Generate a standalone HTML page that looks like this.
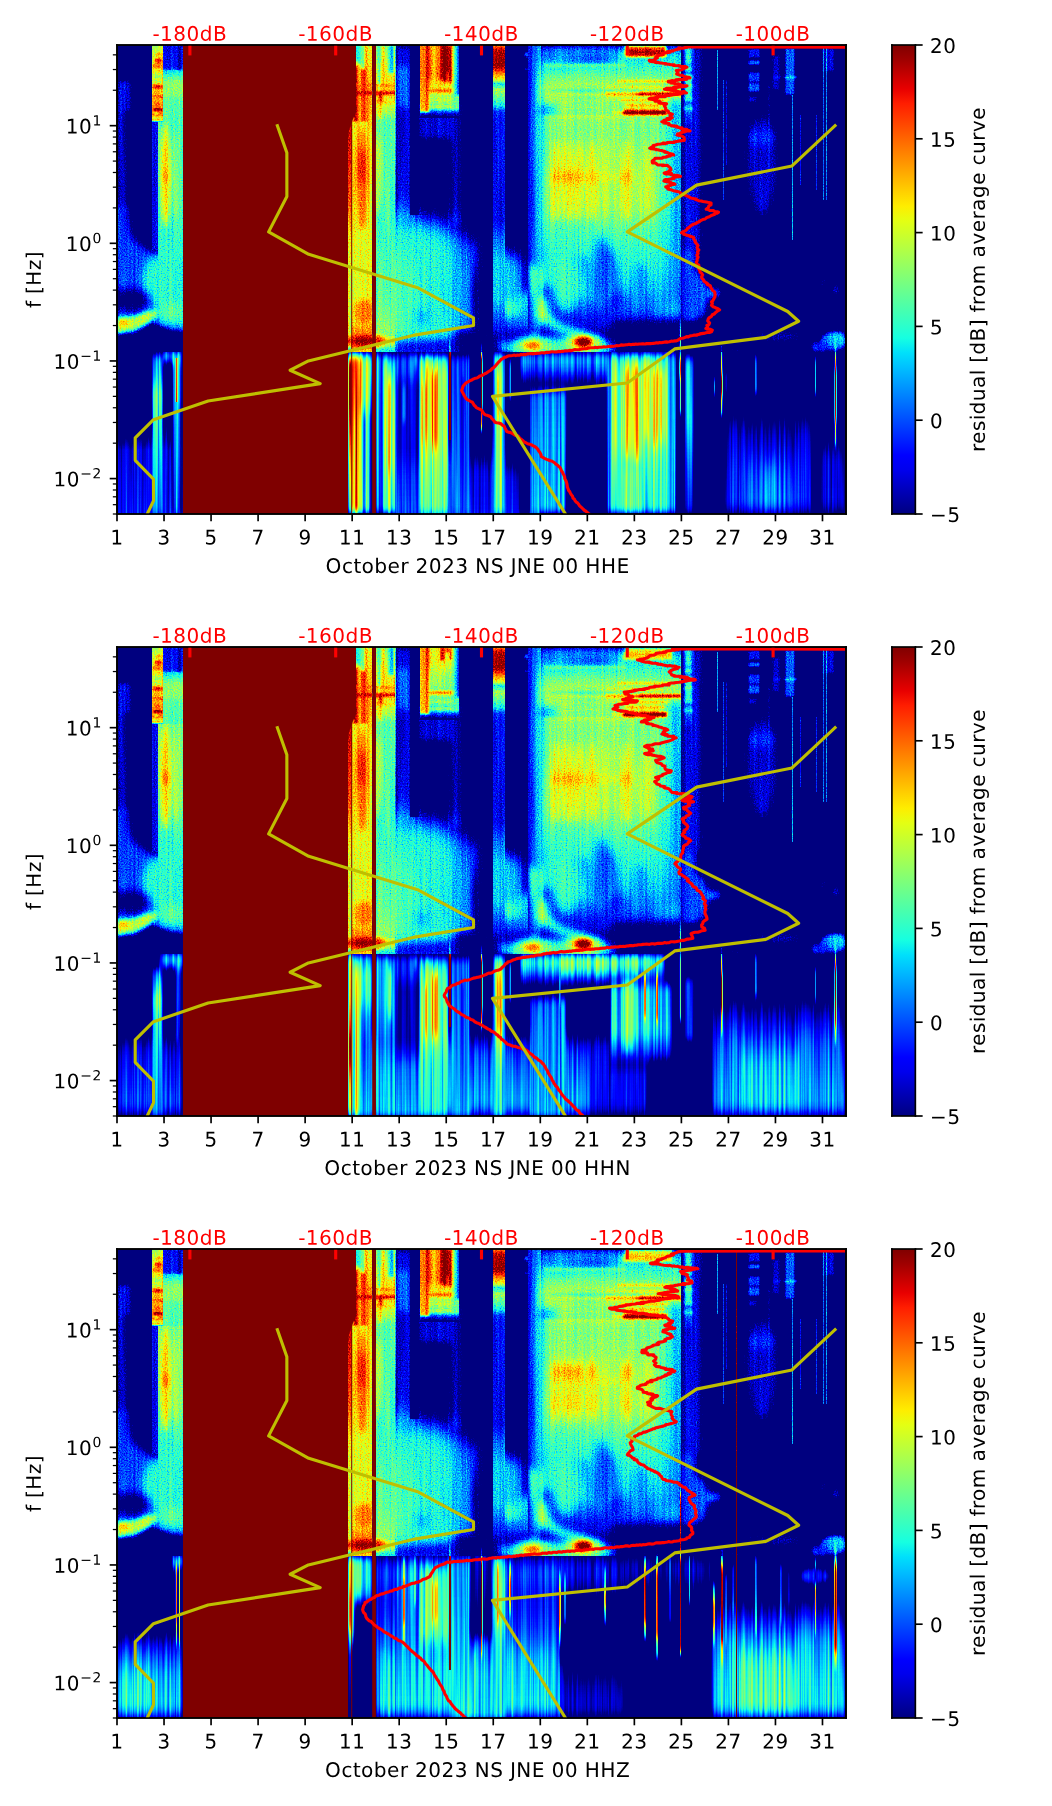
<!DOCTYPE html>
<html><head><meta charset="utf-8"><title>spectrogram</title>
<style>html,body{margin:0;padding:0;background:#fff;font-family:"Liberation Sans",sans-serif}svg{display:block}</style></head>
<body><svg width="1052" height="1806" viewBox="0 0 1052 1806">
<title>Spectrogram residuals October 2023 NS JNE 00 HHE HHN HHZ</title><desc>f [Hz] vs day of month; residual [dB] from average curve; -180dB -160dB -140dB -120dB -100dB</desc>
<defs><style>.m *{stroke-linejoin:round;stroke-linecap:butt}</style><filter id="jet" filterUnits="userSpaceOnUse" x="117" y="45" width="729" height="469" color-interpolation-filters="sRGB">
<feTurbulence type="fractalNoise" baseFrequency="0.83 0.71" numOctaves="1" seed="7" x="117" y="45" width="729" height="307" result="t1"/>
<feTurbulence type="fractalNoise" baseFrequency="0.5 0.012" numOctaves="1" seed="3" x="117" y="45" width="729" height="307" result="t1b"/>
<feComposite in="t1" in2="t1b" operator="arithmetic" k1="0" k2="0.65" k3="0.35" k4="0" result="t1c"/>
<feColorMatrix in="t1c" type="matrix" values="1 0 0 0 0 1 0 0 0 0 1 0 0 0 0 0 0 0 0 1" x="117" y="45" width="729" height="307" result="n1"/>
<feComposite in="SourceGraphic" in2="n1" operator="arithmetic" k1="0.0" k2="1.0" k3="0.36" k4="-0.18" x="117" y="45" width="729" height="307" result="m1"/>
<feTurbulence type="fractalNoise" baseFrequency="0.43 0.004" numOctaves="2" seed="11" x="117" y="352" width="729" height="162" result="t2"/>
<feColorMatrix in="t2" type="matrix" values="1 0 0 0 0 1 0 0 0 0 1 0 0 0 0 0 0 0 0 1" x="117" y="352" width="729" height="162" result="n2"/>
<feComposite in="SourceGraphic" in2="n2" operator="arithmetic" k1="0.55" k2="0.72" k3="0.12" k4="-0.06" x="117" y="352" width="729" height="162" result="m2"/>
<feMerge result="m"><feMergeNode in="m1"/><feMergeNode in="m2"/></feMerge>
<feComponentTransfer in="m"><feFuncR type="table" tableValues="0.000 0.000 0.000 0.000 0.000 0.000 0.000 0.000 0.000 0.000 0.000 0.000 0.000 0.000 0.000 0.000 0.000 0.000 0.000 0.000 0.000 0.000 0.000 0.000 0.000 0.000 0.000 0.000 0.035 0.098 0.161 0.225 0.288 0.351 0.414 0.490 0.553 0.617 0.680 0.743 0.806 0.870 0.933 0.996 1.000 1.000 1.000 1.000 1.000 1.000 1.000 1.000 1.000 1.000 1.000 0.946 0.857 0.767 0.678 0.589 0.500 0.500 0.500 0.500 0.500 0.500 0.500 0.500 0.500 0.500 0.500 0.500 0.500 0.500 0.500 0.500 0.500 0.500 0.500 0.500 0.500"/><feFuncG type="table" tableValues="0.000 0.000 0.000 0.000 0.000 0.000 0.000 0.000 0.000 0.000 0.000 0.000 0.000 0.000 0.000 0.000 0.000 0.049 0.127 0.222 0.300 0.378 0.457 0.535 0.614 0.692 0.771 0.865 0.943 1.000 1.000 1.000 1.000 1.000 1.000 1.000 1.000 1.000 1.000 1.000 1.000 1.000 1.000 0.930 0.843 0.771 0.698 0.625 0.553 0.480 0.407 0.335 0.248 0.175 0.102 0.030 0.000 0.000 0.000 0.000 0.000 0.000 0.000 0.000 0.000 0.000 0.000 0.000 0.000 0.000 0.000 0.000 0.000 0.000 0.000 0.000 0.000 0.000 0.000 0.000 0.000"/><feFuncB type="table" tableValues="0.500 0.500 0.500 0.500 0.500 0.500 0.500 0.500 0.500 0.500 0.500 0.589 0.678 0.767 0.857 0.946 1.000 1.000 1.000 1.000 1.000 1.000 1.000 1.000 1.000 1.000 1.000 0.996 0.933 0.870 0.806 0.743 0.680 0.617 0.553 0.478 0.414 0.351 0.288 0.225 0.161 0.098 0.035 0.000 0.000 0.000 0.000 0.000 0.000 0.000 0.000 0.000 0.000 0.000 0.000 0.000 0.000 0.000 0.000 0.000 0.000 0.000 0.000 0.000 0.000 0.000 0.000 0.000 0.000 0.000 0.000 0.000 0.000 0.000 0.000 0.000 0.000 0.000 0.000 0.000 0.000"/><feFuncA type="linear" slope="0" intercept="1"/></feComponentTransfer>
</filter>
<filter id="b1" filterUnits="userSpaceOnUse" x="60" y="0" width="850" height="560" color-interpolation-filters="sRGB"><feGaussianBlur stdDeviation="1"/></filter>
<filter id="b2" filterUnits="userSpaceOnUse" x="60" y="0" width="850" height="560" color-interpolation-filters="sRGB"><feGaussianBlur stdDeviation="2"/></filter>
<filter id="b3" filterUnits="userSpaceOnUse" x="60" y="0" width="850" height="560" color-interpolation-filters="sRGB"><feGaussianBlur stdDeviation="3"/></filter>
<filter id="b4" filterUnits="userSpaceOnUse" x="60" y="0" width="850" height="560" color-interpolation-filters="sRGB"><feGaussianBlur stdDeviation="4"/></filter>
<filter id="b6" filterUnits="userSpaceOnUse" x="60" y="0" width="850" height="560" color-interpolation-filters="sRGB"><feGaussianBlur stdDeviation="6"/></filter>
<filter id="b8" filterUnits="userSpaceOnUse" x="60" y="0" width="850" height="560" color-interpolation-filters="sRGB"><feGaussianBlur stdDeviation="8"/></filter>
<filter id="b12" filterUnits="userSpaceOnUse" x="60" y="0" width="850" height="560" color-interpolation-filters="sRGB"><feGaussianBlur stdDeviation="12"/></filter>
<filter id="bx1" filterUnits="userSpaceOnUse" x="60" y="0" width="850" height="560" color-interpolation-filters="sRGB"><feGaussianBlur stdDeviation="1 0"/></filter>
<filter id="bx2" filterUnits="userSpaceOnUse" x="60" y="0" width="850" height="560" color-interpolation-filters="sRGB"><feGaussianBlur stdDeviation="2 0"/></filter>
<filter id="bx3" filterUnits="userSpaceOnUse" x="60" y="0" width="850" height="560" color-interpolation-filters="sRGB"><feGaussianBlur stdDeviation="3 0"/></filter>
<filter id="bx5" filterUnits="userSpaceOnUse" x="60" y="0" width="850" height="560" color-interpolation-filters="sRGB"><feGaussianBlur stdDeviation="5 0"/></filter>
<filter id="by2" filterUnits="userSpaceOnUse" x="60" y="0" width="850" height="560" color-interpolation-filters="sRGB"><feGaussianBlur stdDeviation="0 2"/></filter>
<filter id="by4" filterUnits="userSpaceOnUse" x="60" y="0" width="850" height="560" color-interpolation-filters="sRGB"><feGaussianBlur stdDeviation="0 4"/></filter>
<filter id="by8" filterUnits="userSpaceOnUse" x="60" y="0" width="850" height="560" color-interpolation-filters="sRGB"><feGaussianBlur stdDeviation="0 8"/></filter>
<filter id="b21" filterUnits="userSpaceOnUse" x="60" y="0" width="850" height="560" color-interpolation-filters="sRGB"><feGaussianBlur stdDeviation="2 1"/></filter>
<filter id="b12_" filterUnits="userSpaceOnUse" x="60" y="0" width="850" height="560" color-interpolation-filters="sRGB"><feGaussianBlur stdDeviation="1 2"/></filter>
<filter id="b14" filterUnits="userSpaceOnUse" x="60" y="0" width="850" height="560" color-interpolation-filters="sRGB"><feGaussianBlur stdDeviation="1 4"/></filter>
<filter id="b18" filterUnits="userSpaceOnUse" x="60" y="0" width="850" height="560" color-interpolation-filters="sRGB"><feGaussianBlur stdDeviation="1 8"/></filter>
<filter id="b28" filterUnits="userSpaceOnUse" x="60" y="0" width="850" height="560" color-interpolation-filters="sRGB"><feGaussianBlur stdDeviation="2 8"/></filter>
<filter id="b42" filterUnits="userSpaceOnUse" x="60" y="0" width="850" height="560" color-interpolation-filters="sRGB"><feGaussianBlur stdDeviation="4 2"/></filter>
<filter id="b82" filterUnits="userSpaceOnUse" x="60" y="0" width="850" height="560" color-interpolation-filters="sRGB"><feGaussianBlur stdDeviation="8 2"/></filter>
<filter id="b84" filterUnits="userSpaceOnUse" x="60" y="0" width="850" height="560" color-interpolation-filters="sRGB"><feGaussianBlur stdDeviation="8 4"/></filter>
<filter id="b48" filterUnits="userSpaceOnUse" x="60" y="0" width="850" height="560" color-interpolation-filters="sRGB"><feGaussianBlur stdDeviation="4 8"/></filter>
<clipPath id="cp"><rect x="117" y="45" width="729" height="469"/></clipPath>
<linearGradient id="cb" x1="0" y1="0" x2="0" y2="1"><stop offset="0.0000" stop-color="#800000"/><stop offset="0.0312" stop-color="#9f0000"/><stop offset="0.0625" stop-color="#c40000"/><stop offset="0.0938" stop-color="#e80000"/><stop offset="0.1250" stop-color="#ff1e00"/><stop offset="0.1562" stop-color="#ff3b00"/><stop offset="0.1875" stop-color="#ff5900"/><stop offset="0.2188" stop-color="#ff7700"/><stop offset="0.2500" stop-color="#ff9400"/><stop offset="0.2812" stop-color="#ffb200"/><stop offset="0.3125" stop-color="#ffd000"/><stop offset="0.3438" stop-color="#feed00"/><stop offset="0.3750" stop-color="#e4ff13"/><stop offset="0.4062" stop-color="#caff2c"/><stop offset="0.4375" stop-color="#b1ff46"/><stop offset="0.4688" stop-color="#97ff60"/><stop offset="0.5000" stop-color="#7dff7a"/><stop offset="0.5312" stop-color="#63ff94"/><stop offset="0.5625" stop-color="#49ffad"/><stop offset="0.5938" stop-color="#30ffc7"/><stop offset="0.6250" stop-color="#16ffe1"/><stop offset="0.6562" stop-color="#00e0fb"/><stop offset="0.6875" stop-color="#00c0ff"/><stop offset="0.7188" stop-color="#00a0ff"/><stop offset="0.7500" stop-color="#0080ff"/><stop offset="0.7812" stop-color="#0060ff"/><stop offset="0.8125" stop-color="#0040ff"/><stop offset="0.8438" stop-color="#0020ff"/><stop offset="0.8750" stop-color="#0000ff"/><stop offset="0.9062" stop-color="#0000ed"/><stop offset="0.9375" stop-color="#0000c8"/><stop offset="0.9688" stop-color="#0000a4"/><stop offset="1.0000" stop-color="#000080"/></linearGradient>
<clipPath id="p1c1"><rect x="117" y="45" width="66" height="307"/></clipPath>
<linearGradient id="p1g2" x1="0" y1="0" x2="0" y2="1"><stop offset="0.000" stop-color="#797979"/><stop offset="0.192" stop-color="#868686"/><stop offset="0.513" stop-color="#8c8c8c"/><stop offset="0.833" stop-color="#999999"/><stop offset="0.962" stop-color="#939393"/><stop offset="1.000" stop-color="#0d0d0d"/></linearGradient>
<clipPath id="p1c3"><rect x="152" y="45" width="11" height="77"/></clipPath>
<linearGradient id="p1g4" x1="0" y1="0" x2="0" y2="1"><stop offset="0.000" stop-color="#393939"/><stop offset="0.273" stop-color="#404040"/><stop offset="0.351" stop-color="#595959"/><stop offset="0.481" stop-color="#737373"/><stop offset="0.623" stop-color="#737373"/><stop offset="0.714" stop-color="#696969"/><stop offset="1.000" stop-color="#666666"/></linearGradient>
<clipPath id="p1c5"><rect x="163" y="45" width="20" height="25"/></clipPath>
<linearGradient id="p1g6" x1="0" y1="0" x2="0" y2="1"><stop offset="0.000" stop-color="#666666"/><stop offset="0.129" stop-color="#666666"/><stop offset="0.557" stop-color="#636363"/><stop offset="0.843" stop-color="#606060"/><stop offset="1.000" stop-color="#606060"/></linearGradient>
<clipPath id="p1c7"><rect x="348" y="45" width="48" height="307"/></clipPath>
<linearGradient id="p1g8" x1="0" y1="0" x2="0" y2="1"><stop offset="0.000" stop-color="#bfbfbf"/><stop offset="0.241" stop-color="#b2b2b2"/><stop offset="0.498" stop-color="#a6a6a6"/><stop offset="0.627" stop-color="#868686"/><stop offset="0.916" stop-color="#808080"/><stop offset="0.965" stop-color="#797979"/><stop offset="0.981" stop-color="#535353"/><stop offset="1.000" stop-color="#595959"/></linearGradient>
<linearGradient id="p1g9" x1="0" y1="0" x2="0" y2="1"><stop offset="0.000" stop-color="#808080"/><stop offset="0.049" stop-color="#868686"/><stop offset="0.147" stop-color="#939393"/><stop offset="0.238" stop-color="#8c8c8c"/><stop offset="0.293" stop-color="#868686"/><stop offset="0.342" stop-color="#898989"/><stop offset="0.603" stop-color="#868686"/><stop offset="0.651" stop-color="#838383"/><stop offset="0.814" stop-color="#838383"/><stop offset="0.847" stop-color="#8c8c8c"/><stop offset="0.902" stop-color="#8c8c8c"/><stop offset="0.928" stop-color="#999999"/><stop offset="1.000" stop-color="#8c8c8c"/></linearGradient>
<linearGradient id="p1g10" x1="0" y1="0" x2="0" y2="1"><stop offset="0.000" stop-color="#737373"/><stop offset="0.049" stop-color="#808080"/><stop offset="0.147" stop-color="#8c8c8c"/><stop offset="0.218" stop-color="#797979"/><stop offset="0.244" stop-color="#696969"/><stop offset="0.635" stop-color="#636363"/><stop offset="0.831" stop-color="#696969"/><stop offset="0.928" stop-color="#737373"/><stop offset="1.000" stop-color="#595959"/></linearGradient>
<clipPath id="p1c11"><rect x="352" y="45" width="44" height="77"/></clipPath>
<clipPath id="p1c12"><rect x="395" y="45" width="145" height="307"/></clipPath>
<linearGradient id="p1g13" x1="0" y1="0" x2="0" y2="1"><stop offset="0.000" stop-color="#999999"/><stop offset="0.411" stop-color="#9f9f9f"/><stop offset="0.534" stop-color="#8c8c8c"/><stop offset="0.685" stop-color="#797979"/><stop offset="0.863" stop-color="#6c6c6c"/><stop offset="0.932" stop-color="#333333"/><stop offset="1.000" stop-color="#0d0d0d"/></linearGradient>
<clipPath id="p1c14"><rect x="420" y="45" width="40" height="73"/></clipPath>
<linearGradient id="p1g15" x1="0" y1="0" x2="0" y2="1"><stop offset="0.000" stop-color="#999999"/><stop offset="0.017" stop-color="#b9b9b9"/><stop offset="0.070" stop-color="#bfbfbf"/><stop offset="0.093" stop-color="#9f9f9f"/><stop offset="0.117" stop-color="#808080"/><stop offset="0.130" stop-color="#595959"/><stop offset="0.150" stop-color="#797979"/><stop offset="0.183" stop-color="#666666"/><stop offset="0.203" stop-color="#595959"/><stop offset="0.223" stop-color="#393939"/><stop offset="0.257" stop-color="#333333"/><stop offset="0.583" stop-color="#333333"/><stop offset="0.650" stop-color="#464646"/><stop offset="0.723" stop-color="#535353"/><stop offset="0.850" stop-color="#535353"/><stop offset="0.950" stop-color="#333333"/><stop offset="1.000" stop-color="#0d0d0d"/></linearGradient>
<linearGradient id="p1g16" x1="0" y1="0" x2="0" y2="1"><stop offset="0.000" stop-color="#4c4c4c"/><stop offset="0.062" stop-color="#535353"/><stop offset="0.125" stop-color="#404040"/><stop offset="0.167" stop-color="#535353"/><stop offset="0.221" stop-color="#464646"/><stop offset="0.246" stop-color="#333333"/><stop offset="0.812" stop-color="#363636"/><stop offset="0.904" stop-color="#464646"/><stop offset="1.000" stop-color="#535353"/></linearGradient>
<clipPath id="p1c17"><rect x="523" y="45" width="17" height="55"/></clipPath>
<clipPath id="p1c18"><rect x="528" y="45" width="153" height="307"/></clipPath>
<linearGradient id="p1g19" x1="0" y1="0" x2="1" y2="0"><stop offset="0.000" stop-color="#2d2d2d"/><stop offset="1.000" stop-color="#535353"/></linearGradient>
<linearGradient id="p1g20" x1="0" y1="0" x2="0" y2="1"><stop offset="0.000" stop-color="#464646"/><stop offset="0.033" stop-color="#595959"/><stop offset="0.081" stop-color="#636363"/><stop offset="0.114" stop-color="#737373"/><stop offset="0.179" stop-color="#787878"/><stop offset="0.231" stop-color="#767676"/><stop offset="0.270" stop-color="#707070"/><stop offset="0.309" stop-color="#737373"/><stop offset="0.391" stop-color="#767676"/><stop offset="0.521" stop-color="#767676"/><stop offset="0.586" stop-color="#6c6c6c"/><stop offset="0.651" stop-color="#636363"/><stop offset="0.733" stop-color="#595959"/><stop offset="0.798" stop-color="#4c4c4c"/><stop offset="0.847" stop-color="#434343"/><stop offset="0.896" stop-color="#393939"/><stop offset="0.928" stop-color="#262626"/><stop offset="0.954" stop-color="#1a1a1a"/><stop offset="1.000" stop-color="#1a1a1a"/></linearGradient>
<linearGradient id="p1g21" x1="0" y1="0" x2="1" y2="0"><stop offset="0.000" stop-color="#606060" stop-opacity="0.00"/><stop offset="0.516" stop-color="#535353" stop-opacity="0.60"/><stop offset="1.000" stop-color="#393939"/></linearGradient>
<linearGradient id="p1g22" x1="0" y1="0" x2="1" y2="0"><stop offset="0.000" stop-color="#4c4c4c" stop-opacity="0.90"/><stop offset="1.000" stop-color="#606060" stop-opacity="0.00"/></linearGradient>
<clipPath id="p1c23"><rect x="600" y="45" width="81" height="77"/></clipPath>
<clipPath id="p1c24"><rect x="540" y="60" width="141" height="62"/></clipPath>
<clipPath id="p1c25"><rect x="681" y="45" width="165" height="307"/></clipPath>
<linearGradient id="p1g26" x1="0" y1="0" x2="0" y2="1"><stop offset="0.000" stop-color="#595959"/><stop offset="0.351" stop-color="#666666"/><stop offset="0.675" stop-color="#606060"/><stop offset="0.831" stop-color="#464646"/><stop offset="1.000" stop-color="#333333"/></linearGradient>
<clipPath id="p1c27"><rect x="470" y="322" width="230" height="30"/></clipPath>
<clipPath id="p1c28"><rect x="117" y="352" width="729" height="162"/></clipPath>
<linearGradient id="p1g29" x1="0" y1="0" x2="0" y2="1"><stop offset="0.000" stop-color="#000000"/><stop offset="0.281" stop-color="#2d2d2d"/><stop offset="1.000" stop-color="#363636"/></linearGradient>
<linearGradient id="p1g30" x1="0" y1="0" x2="0" y2="1"><stop offset="0.000" stop-color="#000000"/><stop offset="0.417" stop-color="#2d2d2d"/><stop offset="1.000" stop-color="#393939"/></linearGradient>
<linearGradient id="p1g31" x1="0" y1="0" x2="0" y2="1"><stop offset="0.000" stop-color="#535353"/><stop offset="0.137" stop-color="#666666"/><stop offset="0.261" stop-color="#838383"/><stop offset="0.385" stop-color="#767676"/><stop offset="0.602" stop-color="#606060"/><stop offset="1.000" stop-color="#4c4c4c"/></linearGradient>
<linearGradient id="p1g32" x1="0" y1="0" x2="0" y2="1"><stop offset="0.000" stop-color="#535353"/><stop offset="0.137" stop-color="#666666"/><stop offset="0.261" stop-color="#808080"/><stop offset="0.385" stop-color="#707070"/><stop offset="0.602" stop-color="#606060"/><stop offset="1.000" stop-color="#494949"/></linearGradient>
<linearGradient id="p1g33" x1="0" y1="0" x2="0" y2="1"><stop offset="0.000" stop-color="#535353"/><stop offset="0.137" stop-color="#595959"/><stop offset="0.261" stop-color="#666666"/><stop offset="0.602" stop-color="#535353"/><stop offset="1.000" stop-color="#464646"/></linearGradient>
<linearGradient id="p1g34" x1="0" y1="0" x2="0" y2="1"><stop offset="0.000" stop-color="#595959"/><stop offset="0.073" stop-color="#595959"/><stop offset="0.098" stop-color="#333333"/><stop offset="1.000" stop-color="#1a1a1a"/></linearGradient>
<linearGradient id="p1g35" x1="0" y1="0" x2="0" y2="1"><stop offset="0.000" stop-color="#535353"/><stop offset="0.714" stop-color="#535353"/><stop offset="1.000" stop-color="#0d0d0d"/></linearGradient>
<linearGradient id="p1g36" x1="0" y1="0" x2="0" y2="1"><stop offset="0.000" stop-color="#666666"/><stop offset="0.283" stop-color="#666666"/><stop offset="0.472" stop-color="#606060"/><stop offset="1.000" stop-color="#595959"/></linearGradient>
<linearGradient id="p1g37" x1="0" y1="0" x2="0" y2="1"><stop offset="0.000" stop-color="#595959"/><stop offset="0.025" stop-color="#595959"/><stop offset="0.062" stop-color="#b2b2b2"/><stop offset="0.296" stop-color="#b9b9b9"/><stop offset="0.481" stop-color="#999999"/><stop offset="0.667" stop-color="#808080"/><stop offset="0.852" stop-color="#737373"/><stop offset="1.000" stop-color="#606060"/></linearGradient>
<linearGradient id="p1g38" x1="0" y1="0" x2="0" y2="1"><stop offset="0.000" stop-color="#808080"/><stop offset="0.056" stop-color="#a6a6a6"/><stop offset="0.354" stop-color="#acacac"/><stop offset="0.602" stop-color="#a6a6a6"/><stop offset="1.000" stop-color="#9f9f9f"/></linearGradient>
<linearGradient id="p1g39" x1="0" y1="0" x2="0" y2="1"><stop offset="0.000" stop-color="#797979"/><stop offset="0.056" stop-color="#939393"/><stop offset="0.292" stop-color="#999999"/><stop offset="0.416" stop-color="#868686"/><stop offset="1.000" stop-color="#808080"/></linearGradient>
<linearGradient id="p1g40" x1="0" y1="0" x2="0" y2="1"><stop offset="0.000" stop-color="#737373"/><stop offset="0.075" stop-color="#868686"/><stop offset="0.323" stop-color="#737373"/><stop offset="0.416" stop-color="#404040"/><stop offset="1.000" stop-color="#333333"/></linearGradient>
<linearGradient id="p1g41" x1="0" y1="0" x2="0" y2="1"><stop offset="0.000" stop-color="#737373"/><stop offset="0.075" stop-color="#8c8c8c"/><stop offset="0.292" stop-color="#939393"/><stop offset="0.416" stop-color="#808080"/><stop offset="1.000" stop-color="#797979"/></linearGradient>
<linearGradient id="p1g42" x1="0" y1="0" x2="0" y2="1"><stop offset="0.000" stop-color="#666666"/><stop offset="0.075" stop-color="#797979"/><stop offset="0.292" stop-color="#595959"/><stop offset="0.416" stop-color="#333333"/><stop offset="1.000" stop-color="#2d2d2d"/></linearGradient>
<linearGradient id="p1g43" x1="0" y1="0" x2="0" y2="1"><stop offset="0.000" stop-color="#535353"/><stop offset="0.056" stop-color="#595959"/><stop offset="1.000" stop-color="#535353"/></linearGradient>
<linearGradient id="p1g44" x1="0" y1="0" x2="0" y2="1"><stop offset="0.000" stop-color="#404040"/><stop offset="0.056" stop-color="#333333"/><stop offset="1.000" stop-color="#2d2d2d"/></linearGradient>
<linearGradient id="p1g45" x1="0" y1="0" x2="0" y2="1"><stop offset="0.000" stop-color="#4c4c4c"/><stop offset="0.075" stop-color="#737373"/><stop offset="0.478" stop-color="#797979"/><stop offset="1.000" stop-color="#6c6c6c"/></linearGradient>
<linearGradient id="p1g46" x1="0" y1="0" x2="0" y2="1"><stop offset="0.000" stop-color="#4c4c4c"/><stop offset="0.106" stop-color="#797979"/><stop offset="0.199" stop-color="#a6a6a6"/><stop offset="0.665" stop-color="#a6a6a6"/><stop offset="0.789" stop-color="#8c8c8c"/><stop offset="1.000" stop-color="#808080"/></linearGradient>
<linearGradient id="p1g47" x1="0" y1="0" x2="0" y2="1"><stop offset="0.000" stop-color="#464646"/><stop offset="0.075" stop-color="#666666"/><stop offset="0.292" stop-color="#797979"/><stop offset="0.665" stop-color="#737373"/><stop offset="1.000" stop-color="#595959"/></linearGradient>
<linearGradient id="p1g48" x1="0" y1="0" x2="0" y2="1"><stop offset="0.000" stop-color="#404040"/><stop offset="0.118" stop-color="#404040"/><stop offset="0.199" stop-color="#2d2d2d"/><stop offset="0.602" stop-color="#2d2d2d"/><stop offset="0.758" stop-color="#393939"/><stop offset="1.000" stop-color="#404040"/></linearGradient>
<linearGradient id="p1g49" x1="0" y1="0" x2="0" y2="1"><stop offset="0.000" stop-color="#333333"/><stop offset="0.031" stop-color="#666666"/><stop offset="0.118" stop-color="#7c7c7c"/><stop offset="0.540" stop-color="#7c7c7c"/><stop offset="0.727" stop-color="#737373"/><stop offset="1.000" stop-color="#6c6c6c"/></linearGradient>
<linearGradient id="p1g50" x1="0" y1="0" x2="0" y2="1"><stop offset="0.000" stop-color="#808080"/><stop offset="0.123" stop-color="#939393"/><stop offset="0.769" stop-color="#8f8f8f"/><stop offset="1.000" stop-color="#808080"/></linearGradient>
<linearGradient id="p1g51" x1="0" y1="0" x2="0" y2="1"><stop offset="0.000" stop-color="#808080"/><stop offset="0.119" stop-color="#9f9f9f"/><stop offset="0.833" stop-color="#9f9f9f"/><stop offset="1.000" stop-color="#838383"/></linearGradient>
<linearGradient id="p1g52" x1="0" y1="0" x2="0" y2="1"><stop offset="0.000" stop-color="#2d2d2d"/><stop offset="0.043" stop-color="#464646"/><stop offset="1.000" stop-color="#464646"/></linearGradient>
<linearGradient id="p1g53" x1="0" y1="0" x2="0" y2="1"><stop offset="0.000" stop-color="#000000"/><stop offset="0.540" stop-color="#000000"/><stop offset="0.727" stop-color="#2d2d2d"/><stop offset="1.000" stop-color="#333333"/></linearGradient>
<linearGradient id="p1g54" x1="0" y1="0" x2="0" y2="1"><stop offset="0.000" stop-color="#4c4c4c"/><stop offset="0.049" stop-color="#595959"/><stop offset="1.000" stop-color="#595959"/></linearGradient>
<linearGradient id="p1g55" x1="0" y1="0" x2="0" y2="1"><stop offset="0.000" stop-color="#535353"/><stop offset="0.062" stop-color="#6c6c6c"/><stop offset="0.142" stop-color="#797979"/><stop offset="0.790" stop-color="#737373"/><stop offset="1.000" stop-color="#6c6c6c"/></linearGradient>
<linearGradient id="p1g56" x1="0" y1="0" x2="0" y2="1"><stop offset="0.000" stop-color="#4c4c4c"/><stop offset="0.049" stop-color="#595959"/><stop offset="1.000" stop-color="#535353"/></linearGradient>
<linearGradient id="p1g57" x1="0" y1="0" x2="0" y2="1"><stop offset="0.000" stop-color="#000000"/><stop offset="0.602" stop-color="#000000"/><stop offset="0.758" stop-color="#2d2d2d"/><stop offset="1.000" stop-color="#333333"/></linearGradient>
<linearGradient id="p1g58" x1="0" y1="0" x2="0" y2="1"><stop offset="0.000" stop-color="#000000"/><stop offset="0.168" stop-color="#000000"/><stop offset="0.242" stop-color="#393939"/><stop offset="0.478" stop-color="#404040"/><stop offset="1.000" stop-color="#494949"/></linearGradient>
<linearGradient id="p1g59" x1="0" y1="0" x2="0" y2="1"><stop offset="0.000" stop-color="#4c4c4c"/><stop offset="0.068" stop-color="#494949"/><stop offset="0.142" stop-color="#333333"/><stop offset="0.216" stop-color="#0d0d0d"/><stop offset="1.000" stop-color="#000000"/></linearGradient>
<linearGradient id="p1g60" x1="0" y1="0" x2="0" y2="1"><stop offset="0.000" stop-color="#000000" stop-opacity="0.00"/><stop offset="0.069" stop-color="#464646"/><stop offset="0.359" stop-color="#4c4c4c"/><stop offset="1.000" stop-color="#535353"/></linearGradient>
<linearGradient id="p1g61" x1="0" y1="0" x2="0" y2="1"><stop offset="0.000" stop-color="#4c4c4c"/><stop offset="0.037" stop-color="#666666"/><stop offset="0.099" stop-color="#737373"/><stop offset="0.173" stop-color="#787878"/><stop offset="0.543" stop-color="#767676"/><stop offset="0.698" stop-color="#696969"/><stop offset="0.852" stop-color="#636363"/><stop offset="1.000" stop-color="#606060"/></linearGradient>
<linearGradient id="p1g62" x1="0" y1="0" x2="0" y2="1"><stop offset="0.000" stop-color="#808080"/><stop offset="0.140" stop-color="#8f8f8f"/><stop offset="0.806" stop-color="#8c8c8c"/><stop offset="1.000" stop-color="#7c7c7c"/></linearGradient>
<linearGradient id="p1g63" x1="0" y1="0" x2="0" y2="1"><stop offset="0.000" stop-color="#808080"/><stop offset="0.134" stop-color="#8f8f8f"/><stop offset="0.825" stop-color="#8c8c8c"/><stop offset="1.000" stop-color="#7c7c7c"/></linearGradient>
<linearGradient id="p1g64" x1="0" y1="0" x2="0" y2="1"><stop offset="0.000" stop-color="#808080"/><stop offset="0.153" stop-color="#939393"/><stop offset="0.765" stop-color="#8f8f8f"/><stop offset="1.000" stop-color="#7c7c7c"/></linearGradient>
<linearGradient id="p1g65" x1="0" y1="0" x2="0" y2="1"><stop offset="0.000" stop-color="#808080"/><stop offset="0.156" stop-color="#8c8c8c"/><stop offset="0.740" stop-color="#8c8c8c"/><stop offset="1.000" stop-color="#7c7c7c"/></linearGradient>
<linearGradient id="p1g66" x1="0" y1="0" x2="0" y2="1"><stop offset="0.000" stop-color="#797979"/><stop offset="0.179" stop-color="#535353"/><stop offset="1.000" stop-color="#4c4c4c"/></linearGradient>
<linearGradient id="p1g67" x1="0" y1="0" x2="0" y2="1"><stop offset="0.000" stop-color="#404040"/><stop offset="0.063" stop-color="#535353"/><stop offset="0.409" stop-color="#565656"/><stop offset="0.723" stop-color="#464646"/><stop offset="1.000" stop-color="#393939"/></linearGradient>
<linearGradient id="p1g68" x1="0" y1="0" x2="0" y2="1"><stop offset="0.000" stop-color="#000000"/><stop offset="0.263" stop-color="#262626"/><stop offset="0.614" stop-color="#363636"/><stop offset="1.000" stop-color="#3d3d3d"/></linearGradient>
<linearGradient id="p1g69" x1="0" y1="0" x2="0" y2="1"><stop offset="0.000" stop-color="#262626" stop-opacity="0.00"/><stop offset="0.476" stop-color="#404040" stop-opacity="0.80"/><stop offset="1.000" stop-color="#494949"/></linearGradient>
<linearGradient id="p1g70" x1="0" y1="0" x2="0" y2="1"><stop offset="0.000" stop-color="#404040" stop-opacity="0.00"/><stop offset="0.391" stop-color="#505050" stop-opacity="0.90"/><stop offset="1.000" stop-color="#535353"/></linearGradient>
<linearGradient id="p1g71" x1="0" y1="0" x2="0" y2="1"><stop offset="0.000" stop-color="#000000"/><stop offset="0.298" stop-color="#2d2d2d"/><stop offset="1.000" stop-color="#303030"/></linearGradient>
<clipPath id="p2c1"><rect x="117" y="45" width="66" height="307"/></clipPath>
<linearGradient id="p2g2" x1="0" y1="0" x2="0" y2="1"><stop offset="0.000" stop-color="#797979"/><stop offset="0.192" stop-color="#868686"/><stop offset="0.513" stop-color="#8c8c8c"/><stop offset="0.833" stop-color="#999999"/><stop offset="0.962" stop-color="#939393"/><stop offset="1.000" stop-color="#0d0d0d"/></linearGradient>
<clipPath id="p2c3"><rect x="152" y="45" width="11" height="77"/></clipPath>
<linearGradient id="p2g4" x1="0" y1="0" x2="0" y2="1"><stop offset="0.000" stop-color="#393939"/><stop offset="0.273" stop-color="#404040"/><stop offset="0.351" stop-color="#595959"/><stop offset="0.481" stop-color="#737373"/><stop offset="0.623" stop-color="#737373"/><stop offset="0.714" stop-color="#696969"/><stop offset="1.000" stop-color="#666666"/></linearGradient>
<clipPath id="p2c5"><rect x="163" y="45" width="20" height="25"/></clipPath>
<linearGradient id="p2g6" x1="0" y1="0" x2="0" y2="1"><stop offset="0.000" stop-color="#707070"/><stop offset="0.129" stop-color="#707070"/><stop offset="0.557" stop-color="#6c6c6c"/><stop offset="0.843" stop-color="#606060"/><stop offset="1.000" stop-color="#606060"/></linearGradient>
<clipPath id="p2c7"><rect x="348" y="45" width="48" height="307"/></clipPath>
<linearGradient id="p2g8" x1="0" y1="0" x2="0" y2="1"><stop offset="0.000" stop-color="#bfbfbf"/><stop offset="0.241" stop-color="#b2b2b2"/><stop offset="0.498" stop-color="#a6a6a6"/><stop offset="0.627" stop-color="#868686"/><stop offset="0.916" stop-color="#808080"/><stop offset="0.965" stop-color="#797979"/><stop offset="0.981" stop-color="#535353"/><stop offset="1.000" stop-color="#595959"/></linearGradient>
<linearGradient id="p2g9" x1="0" y1="0" x2="0" y2="1"><stop offset="0.000" stop-color="#808080"/><stop offset="0.049" stop-color="#868686"/><stop offset="0.147" stop-color="#939393"/><stop offset="0.238" stop-color="#8c8c8c"/><stop offset="0.293" stop-color="#868686"/><stop offset="0.342" stop-color="#898989"/><stop offset="0.603" stop-color="#868686"/><stop offset="0.651" stop-color="#838383"/><stop offset="0.814" stop-color="#838383"/><stop offset="0.847" stop-color="#8c8c8c"/><stop offset="0.902" stop-color="#8c8c8c"/><stop offset="0.928" stop-color="#999999"/><stop offset="1.000" stop-color="#8c8c8c"/></linearGradient>
<linearGradient id="p2g10" x1="0" y1="0" x2="0" y2="1"><stop offset="0.000" stop-color="#737373"/><stop offset="0.049" stop-color="#808080"/><stop offset="0.147" stop-color="#8c8c8c"/><stop offset="0.218" stop-color="#797979"/><stop offset="0.244" stop-color="#696969"/><stop offset="0.635" stop-color="#636363"/><stop offset="0.831" stop-color="#696969"/><stop offset="0.928" stop-color="#737373"/><stop offset="1.000" stop-color="#595959"/></linearGradient>
<clipPath id="p2c11"><rect x="352" y="45" width="44" height="77"/></clipPath>
<clipPath id="p2c12"><rect x="395" y="45" width="145" height="307"/></clipPath>
<linearGradient id="p2g13" x1="0" y1="0" x2="0" y2="1"><stop offset="0.000" stop-color="#868686"/><stop offset="0.205" stop-color="#868686"/><stop offset="0.411" stop-color="#737373"/><stop offset="0.685" stop-color="#6c6c6c"/><stop offset="0.863" stop-color="#606060"/><stop offset="0.932" stop-color="#333333"/><stop offset="1.000" stop-color="#0d0d0d"/></linearGradient>
<clipPath id="p2c14"><rect x="420" y="45" width="40" height="73"/></clipPath>
<linearGradient id="p2g15" x1="0" y1="0" x2="0" y2="1"><stop offset="0.000" stop-color="#999999"/><stop offset="0.017" stop-color="#b9b9b9"/><stop offset="0.070" stop-color="#bfbfbf"/><stop offset="0.093" stop-color="#9f9f9f"/><stop offset="0.117" stop-color="#808080"/><stop offset="0.130" stop-color="#595959"/><stop offset="0.150" stop-color="#797979"/><stop offset="0.183" stop-color="#666666"/><stop offset="0.203" stop-color="#595959"/><stop offset="0.223" stop-color="#393939"/><stop offset="0.257" stop-color="#333333"/><stop offset="0.583" stop-color="#333333"/><stop offset="0.650" stop-color="#464646"/><stop offset="0.723" stop-color="#535353"/><stop offset="0.850" stop-color="#535353"/><stop offset="0.950" stop-color="#333333"/><stop offset="1.000" stop-color="#0d0d0d"/></linearGradient>
<linearGradient id="p2g16" x1="0" y1="0" x2="0" y2="1"><stop offset="0.000" stop-color="#4c4c4c"/><stop offset="0.062" stop-color="#535353"/><stop offset="0.125" stop-color="#404040"/><stop offset="0.167" stop-color="#535353"/><stop offset="0.221" stop-color="#464646"/><stop offset="0.246" stop-color="#333333"/><stop offset="0.812" stop-color="#363636"/><stop offset="0.904" stop-color="#464646"/><stop offset="1.000" stop-color="#535353"/></linearGradient>
<clipPath id="p2c17"><rect x="523" y="45" width="17" height="55"/></clipPath>
<clipPath id="p2c18"><rect x="528" y="45" width="153" height="307"/></clipPath>
<linearGradient id="p2g19" x1="0" y1="0" x2="1" y2="0"><stop offset="0.000" stop-color="#2d2d2d"/><stop offset="1.000" stop-color="#535353"/></linearGradient>
<linearGradient id="p2g20" x1="0" y1="0" x2="0" y2="1"><stop offset="0.000" stop-color="#464646"/><stop offset="0.033" stop-color="#595959"/><stop offset="0.081" stop-color="#636363"/><stop offset="0.114" stop-color="#737373"/><stop offset="0.179" stop-color="#787878"/><stop offset="0.231" stop-color="#767676"/><stop offset="0.270" stop-color="#707070"/><stop offset="0.309" stop-color="#737373"/><stop offset="0.391" stop-color="#767676"/><stop offset="0.521" stop-color="#767676"/><stop offset="0.586" stop-color="#6c6c6c"/><stop offset="0.651" stop-color="#636363"/><stop offset="0.733" stop-color="#595959"/><stop offset="0.798" stop-color="#4c4c4c"/><stop offset="0.847" stop-color="#434343"/><stop offset="0.896" stop-color="#393939"/><stop offset="0.928" stop-color="#262626"/><stop offset="0.954" stop-color="#1a1a1a"/><stop offset="1.000" stop-color="#1a1a1a"/></linearGradient>
<linearGradient id="p2g21" x1="0" y1="0" x2="1" y2="0"><stop offset="0.000" stop-color="#606060" stop-opacity="0.00"/><stop offset="0.516" stop-color="#535353" stop-opacity="0.60"/><stop offset="1.000" stop-color="#393939"/></linearGradient>
<linearGradient id="p2g22" x1="0" y1="0" x2="1" y2="0"><stop offset="0.000" stop-color="#4c4c4c" stop-opacity="0.90"/><stop offset="1.000" stop-color="#606060" stop-opacity="0.00"/></linearGradient>
<clipPath id="p2c23"><rect x="600" y="45" width="81" height="77"/></clipPath>
<clipPath id="p2c24"><rect x="540" y="60" width="141" height="62"/></clipPath>
<clipPath id="p2c25"><rect x="681" y="45" width="165" height="307"/></clipPath>
<linearGradient id="p2g26" x1="0" y1="0" x2="0" y2="1"><stop offset="0.000" stop-color="#595959"/><stop offset="0.351" stop-color="#666666"/><stop offset="0.675" stop-color="#606060"/><stop offset="0.831" stop-color="#464646"/><stop offset="1.000" stop-color="#333333"/></linearGradient>
<clipPath id="p2c27"><rect x="470" y="322" width="230" height="30"/></clipPath>
<clipPath id="p2c28"><rect x="117" y="352" width="729" height="162"/></clipPath>
<linearGradient id="p2g29" x1="0" y1="0" x2="0" y2="1"><stop offset="0.000" stop-color="#000000"/><stop offset="0.225" stop-color="#2d2d2d"/><stop offset="0.618" stop-color="#393939"/><stop offset="1.000" stop-color="#434343"/></linearGradient>
<linearGradient id="p2g30" x1="0" y1="0" x2="0" y2="1"><stop offset="0.000" stop-color="#000000"/><stop offset="0.225" stop-color="#393939"/><stop offset="0.618" stop-color="#494949"/><stop offset="1.000" stop-color="#535353"/></linearGradient>
<linearGradient id="p2g31" x1="0" y1="0" x2="0" y2="1"><stop offset="0.000" stop-color="#2d2d2d"/><stop offset="0.405" stop-color="#333333"/><stop offset="1.000" stop-color="#333333"/></linearGradient>
<linearGradient id="p2g32" x1="0" y1="0" x2="0" y2="1"><stop offset="0.000" stop-color="#000000"/><stop offset="1.000" stop-color="#000000"/></linearGradient>
<linearGradient id="p2g33" x1="0" y1="0" x2="0" y2="1"><stop offset="0.000" stop-color="#000000"/><stop offset="0.194" stop-color="#262626"/><stop offset="0.426" stop-color="#404040"/><stop offset="0.736" stop-color="#4c4c4c"/><stop offset="1.000" stop-color="#505050"/></linearGradient>
<linearGradient id="p2g34" x1="0" y1="0" x2="0" y2="1"><stop offset="0.000" stop-color="#404040" stop-opacity="0.00"/><stop offset="0.357" stop-color="#565656" stop-opacity="0.90"/><stop offset="1.000" stop-color="#595959"/></linearGradient>
<linearGradient id="p2g35" x1="0" y1="0" x2="0" y2="1"><stop offset="0.000" stop-color="#464646"/><stop offset="0.101" stop-color="#595959"/><stop offset="0.215" stop-color="#767676"/><stop offset="0.336" stop-color="#666666"/><stop offset="0.570" stop-color="#595959"/><stop offset="1.000" stop-color="#4c4c4c"/></linearGradient>
<linearGradient id="p2g36" x1="0" y1="0" x2="0" y2="1"><stop offset="0.000" stop-color="#464646"/><stop offset="0.101" stop-color="#606060"/><stop offset="0.215" stop-color="#808080"/><stop offset="0.336" stop-color="#666666"/><stop offset="0.570" stop-color="#535353"/><stop offset="1.000" stop-color="#464646"/></linearGradient>
<linearGradient id="p2g37" x1="0" y1="0" x2="0" y2="1"><stop offset="0.000" stop-color="#464646"/><stop offset="0.101" stop-color="#595959"/><stop offset="0.215" stop-color="#6c6c6c"/><stop offset="0.336" stop-color="#606060"/><stop offset="0.570" stop-color="#535353"/><stop offset="1.000" stop-color="#464646"/></linearGradient>
<linearGradient id="p2g38" x1="0" y1="0" x2="0" y2="1"><stop offset="0.000" stop-color="#535353"/><stop offset="0.455" stop-color="#595959"/><stop offset="0.727" stop-color="#333333"/><stop offset="1.000" stop-color="#000000" stop-opacity="0.00"/></linearGradient>
<linearGradient id="p2g39" x1="0" y1="0" x2="0" y2="1"><stop offset="0.000" stop-color="#666666"/><stop offset="0.529" stop-color="#666666"/><stop offset="1.000" stop-color="#535353"/></linearGradient>
<linearGradient id="p2g40" x1="0" y1="0" x2="0" y2="1"><stop offset="0.000" stop-color="#606060"/><stop offset="0.600" stop-color="#595959"/><stop offset="1.000" stop-color="#404040"/></linearGradient>
<linearGradient id="p2g41" x1="0" y1="0" x2="0" y2="1"><stop offset="0.000" stop-color="#797979"/><stop offset="0.296" stop-color="#808080"/><stop offset="0.451" stop-color="#999999"/><stop offset="0.543" stop-color="#b2b2b2"/><stop offset="0.679" stop-color="#acacac"/><stop offset="0.790" stop-color="#8c8c8c"/><stop offset="1.000" stop-color="#808080"/></linearGradient>
<linearGradient id="p2g42" x1="0" y1="0" x2="0" y2="1"><stop offset="0.000" stop-color="#535353"/><stop offset="0.062" stop-color="#595959"/><stop offset="0.111" stop-color="#6c6c6c"/><stop offset="0.265" stop-color="#6c6c6c"/><stop offset="0.389" stop-color="#535353"/><stop offset="0.543" stop-color="#4c4c4c"/><stop offset="1.000" stop-color="#535353"/></linearGradient>
<linearGradient id="p2g43" x1="0" y1="0" x2="0" y2="1"><stop offset="0.000" stop-color="#737373"/><stop offset="0.118" stop-color="#868686"/><stop offset="0.776" stop-color="#868686"/><stop offset="1.000" stop-color="#808080"/></linearGradient>
<linearGradient id="p2g44" x1="0" y1="0" x2="0" y2="1"><stop offset="0.000" stop-color="#737373"/><stop offset="0.208" stop-color="#666666"/><stop offset="0.486" stop-color="#404040"/><stop offset="1.000" stop-color="#464646"/></linearGradient>
<linearGradient id="p2g45" x1="0" y1="0" x2="0" y2="1"><stop offset="0.000" stop-color="#4c4c4c"/><stop offset="0.075" stop-color="#535353"/><stop offset="0.292" stop-color="#535353"/><stop offset="0.540" stop-color="#464646"/><stop offset="0.727" stop-color="#535353"/><stop offset="1.000" stop-color="#565656"/></linearGradient>
<linearGradient id="p2g46" x1="0" y1="0" x2="0" y2="1"><stop offset="0.000" stop-color="#606060"/><stop offset="0.127" stop-color="#808080"/><stop offset="0.727" stop-color="#808080"/><stop offset="1.000" stop-color="#595959"/></linearGradient>
<linearGradient id="p2g47" x1="0" y1="0" x2="0" y2="1"><stop offset="0.000" stop-color="#393939"/><stop offset="0.118" stop-color="#393939"/><stop offset="0.199" stop-color="#262626"/><stop offset="0.540" stop-color="#262626"/><stop offset="0.696" stop-color="#464646"/><stop offset="1.000" stop-color="#505050"/></linearGradient>
<linearGradient id="p2g48" x1="0" y1="0" x2="0" y2="1"><stop offset="0.000" stop-color="#333333"/><stop offset="0.043" stop-color="#595959"/><stop offset="0.118" stop-color="#6c6c6c"/><stop offset="0.478" stop-color="#707070"/><stop offset="0.665" stop-color="#636363"/><stop offset="1.000" stop-color="#606060"/></linearGradient>
<linearGradient id="p2g49" x1="0" y1="0" x2="0" y2="1"><stop offset="0.000" stop-color="#737373"/><stop offset="0.133" stop-color="#8c8c8c"/><stop offset="0.750" stop-color="#8c8c8c"/><stop offset="1.000" stop-color="#737373"/></linearGradient>
<linearGradient id="p2g50" x1="0" y1="0" x2="0" y2="1"><stop offset="0.000" stop-color="#737373"/><stop offset="0.135" stop-color="#969696"/><stop offset="0.784" stop-color="#969696"/><stop offset="1.000" stop-color="#737373"/></linearGradient>
<linearGradient id="p2g51" x1="0" y1="0" x2="0" y2="1"><stop offset="0.000" stop-color="#2d2d2d"/><stop offset="0.043" stop-color="#505050"/><stop offset="1.000" stop-color="#535353"/></linearGradient>
<linearGradient id="p2g52" x1="0" y1="0" x2="0" y2="1"><stop offset="0.000" stop-color="#4c4c4c"/><stop offset="0.080" stop-color="#606060"/><stop offset="1.000" stop-color="#595959"/></linearGradient>
<linearGradient id="p2g53" x1="0" y1="0" x2="0" y2="1"><stop offset="0.000" stop-color="#535353"/><stop offset="0.080" stop-color="#797979"/><stop offset="0.160" stop-color="#8f8f8f"/><stop offset="0.451" stop-color="#8f8f8f"/><stop offset="0.574" stop-color="#737373"/><stop offset="0.728" stop-color="#636363"/><stop offset="1.000" stop-color="#606060"/></linearGradient>
<linearGradient id="p2g54" x1="0" y1="0" x2="0" y2="1"><stop offset="0.000" stop-color="#999999"/><stop offset="0.737" stop-color="#999999"/><stop offset="1.000" stop-color="#808080"/></linearGradient>
<linearGradient id="p2g55" x1="0" y1="0" x2="0" y2="1"><stop offset="0.000" stop-color="#4c4c4c"/><stop offset="0.049" stop-color="#595959"/><stop offset="1.000" stop-color="#535353"/></linearGradient>
<linearGradient id="p2g56" x1="0" y1="0" x2="0" y2="1"><stop offset="0.000" stop-color="#000000" stop-opacity="0.00"/><stop offset="0.087" stop-color="#404040"/><stop offset="0.339" stop-color="#464646"/><stop offset="1.000" stop-color="#505050"/></linearGradient>
<linearGradient id="p2g57" x1="0" y1="0" x2="0" y2="1"><stop offset="0.000" stop-color="#606060"/><stop offset="0.233" stop-color="#606060"/><stop offset="0.465" stop-color="#464646"/><stop offset="0.767" stop-color="#131313"/><stop offset="1.000" stop-color="#000000" stop-opacity="0.00"/></linearGradient>
<linearGradient id="p2g58" x1="0" y1="0" x2="0" y2="1"><stop offset="0.000" stop-color="#707070"/><stop offset="0.429" stop-color="#6c6c6c"/><stop offset="0.786" stop-color="#4c4c4c"/><stop offset="1.000" stop-color="#202020" stop-opacity="0.00"/></linearGradient>
<linearGradient id="p2g59" x1="0" y1="0" x2="0" y2="1"><stop offset="0.000" stop-color="#1a1a1a" stop-opacity="0.00"/><stop offset="0.115" stop-color="#535353"/><stop offset="0.583" stop-color="#595959"/><stop offset="0.844" stop-color="#333333"/><stop offset="1.000" stop-color="#000000" stop-opacity="0.00"/></linearGradient>
<linearGradient id="p2g60" x1="0" y1="0" x2="0" y2="1"><stop offset="0.000" stop-color="#606060"/><stop offset="0.162" stop-color="#737373"/><stop offset="0.770" stop-color="#737373"/><stop offset="1.000" stop-color="#4c4c4c"/></linearGradient>
<clipPath id="p3c1"><rect x="117" y="45" width="66" height="307"/></clipPath>
<linearGradient id="p3g2" x1="0" y1="0" x2="0" y2="1"><stop offset="0.000" stop-color="#797979"/><stop offset="0.192" stop-color="#868686"/><stop offset="0.513" stop-color="#8c8c8c"/><stop offset="0.833" stop-color="#999999"/><stop offset="0.962" stop-color="#939393"/><stop offset="1.000" stop-color="#0d0d0d"/></linearGradient>
<clipPath id="p3c3"><rect x="152" y="45" width="11" height="77"/></clipPath>
<linearGradient id="p3g4" x1="0" y1="0" x2="0" y2="1"><stop offset="0.000" stop-color="#393939"/><stop offset="0.273" stop-color="#404040"/><stop offset="0.351" stop-color="#595959"/><stop offset="0.481" stop-color="#737373"/><stop offset="0.623" stop-color="#737373"/><stop offset="0.714" stop-color="#696969"/><stop offset="1.000" stop-color="#666666"/></linearGradient>
<clipPath id="p3c5"><rect x="163" y="45" width="20" height="25"/></clipPath>
<linearGradient id="p3g6" x1="0" y1="0" x2="0" y2="1"><stop offset="0.000" stop-color="#707070"/><stop offset="0.129" stop-color="#707070"/><stop offset="0.557" stop-color="#6c6c6c"/><stop offset="0.843" stop-color="#606060"/><stop offset="1.000" stop-color="#606060"/></linearGradient>
<clipPath id="p3c7"><rect x="348" y="45" width="48" height="307"/></clipPath>
<linearGradient id="p3g8" x1="0" y1="0" x2="0" y2="1"><stop offset="0.000" stop-color="#bfbfbf"/><stop offset="0.241" stop-color="#b2b2b2"/><stop offset="0.498" stop-color="#a6a6a6"/><stop offset="0.627" stop-color="#868686"/><stop offset="0.916" stop-color="#808080"/><stop offset="0.965" stop-color="#797979"/><stop offset="0.981" stop-color="#535353"/><stop offset="1.000" stop-color="#595959"/></linearGradient>
<linearGradient id="p3g9" x1="0" y1="0" x2="0" y2="1"><stop offset="0.000" stop-color="#808080"/><stop offset="0.049" stop-color="#868686"/><stop offset="0.147" stop-color="#939393"/><stop offset="0.238" stop-color="#8c8c8c"/><stop offset="0.293" stop-color="#868686"/><stop offset="0.342" stop-color="#898989"/><stop offset="0.603" stop-color="#868686"/><stop offset="0.651" stop-color="#838383"/><stop offset="0.814" stop-color="#838383"/><stop offset="0.847" stop-color="#8c8c8c"/><stop offset="0.902" stop-color="#8c8c8c"/><stop offset="0.928" stop-color="#999999"/><stop offset="1.000" stop-color="#8c8c8c"/></linearGradient>
<linearGradient id="p3g10" x1="0" y1="0" x2="0" y2="1"><stop offset="0.000" stop-color="#737373"/><stop offset="0.049" stop-color="#808080"/><stop offset="0.147" stop-color="#8c8c8c"/><stop offset="0.218" stop-color="#797979"/><stop offset="0.244" stop-color="#696969"/><stop offset="0.635" stop-color="#636363"/><stop offset="0.831" stop-color="#696969"/><stop offset="0.928" stop-color="#737373"/><stop offset="1.000" stop-color="#595959"/></linearGradient>
<clipPath id="p3c11"><rect x="352" y="45" width="44" height="77"/></clipPath>
<clipPath id="p3c12"><rect x="395" y="45" width="145" height="307"/></clipPath>
<linearGradient id="p3g13" x1="0" y1="0" x2="0" y2="1"><stop offset="0.000" stop-color="#999999"/><stop offset="0.411" stop-color="#9f9f9f"/><stop offset="0.534" stop-color="#8c8c8c"/><stop offset="0.685" stop-color="#797979"/><stop offset="0.863" stop-color="#6c6c6c"/><stop offset="0.932" stop-color="#333333"/><stop offset="1.000" stop-color="#0d0d0d"/></linearGradient>
<clipPath id="p3c14"><rect x="420" y="45" width="40" height="73"/></clipPath>
<linearGradient id="p3g15" x1="0" y1="0" x2="0" y2="1"><stop offset="0.000" stop-color="#999999"/><stop offset="0.017" stop-color="#b9b9b9"/><stop offset="0.070" stop-color="#bfbfbf"/><stop offset="0.093" stop-color="#9f9f9f"/><stop offset="0.117" stop-color="#808080"/><stop offset="0.130" stop-color="#595959"/><stop offset="0.150" stop-color="#797979"/><stop offset="0.183" stop-color="#666666"/><stop offset="0.203" stop-color="#595959"/><stop offset="0.223" stop-color="#393939"/><stop offset="0.257" stop-color="#333333"/><stop offset="0.583" stop-color="#333333"/><stop offset="0.650" stop-color="#464646"/><stop offset="0.723" stop-color="#535353"/><stop offset="0.850" stop-color="#535353"/><stop offset="0.950" stop-color="#333333"/><stop offset="1.000" stop-color="#0d0d0d"/></linearGradient>
<linearGradient id="p3g16" x1="0" y1="0" x2="0" y2="1"><stop offset="0.000" stop-color="#4c4c4c"/><stop offset="0.062" stop-color="#535353"/><stop offset="0.125" stop-color="#404040"/><stop offset="0.167" stop-color="#535353"/><stop offset="0.221" stop-color="#464646"/><stop offset="0.246" stop-color="#333333"/><stop offset="0.812" stop-color="#363636"/><stop offset="0.904" stop-color="#464646"/><stop offset="1.000" stop-color="#535353"/></linearGradient>
<clipPath id="p3c17"><rect x="523" y="45" width="17" height="55"/></clipPath>
<clipPath id="p3c18"><rect x="528" y="45" width="153" height="307"/></clipPath>
<linearGradient id="p3g19" x1="0" y1="0" x2="1" y2="0"><stop offset="0.000" stop-color="#2d2d2d"/><stop offset="1.000" stop-color="#535353"/></linearGradient>
<linearGradient id="p3g20" x1="0" y1="0" x2="0" y2="1"><stop offset="0.000" stop-color="#464646"/><stop offset="0.033" stop-color="#595959"/><stop offset="0.081" stop-color="#636363"/><stop offset="0.114" stop-color="#737373"/><stop offset="0.179" stop-color="#787878"/><stop offset="0.231" stop-color="#767676"/><stop offset="0.270" stop-color="#707070"/><stop offset="0.309" stop-color="#737373"/><stop offset="0.391" stop-color="#767676"/><stop offset="0.521" stop-color="#767676"/><stop offset="0.586" stop-color="#6c6c6c"/><stop offset="0.651" stop-color="#636363"/><stop offset="0.733" stop-color="#595959"/><stop offset="0.798" stop-color="#4c4c4c"/><stop offset="0.847" stop-color="#434343"/><stop offset="0.896" stop-color="#393939"/><stop offset="0.928" stop-color="#262626"/><stop offset="0.954" stop-color="#1a1a1a"/><stop offset="1.000" stop-color="#1a1a1a"/></linearGradient>
<linearGradient id="p3g21" x1="0" y1="0" x2="1" y2="0"><stop offset="0.000" stop-color="#606060" stop-opacity="0.00"/><stop offset="0.516" stop-color="#535353" stop-opacity="0.60"/><stop offset="1.000" stop-color="#393939"/></linearGradient>
<linearGradient id="p3g22" x1="0" y1="0" x2="1" y2="0"><stop offset="0.000" stop-color="#4c4c4c" stop-opacity="0.90"/><stop offset="1.000" stop-color="#606060" stop-opacity="0.00"/></linearGradient>
<clipPath id="p3c23"><rect x="600" y="45" width="81" height="77"/></clipPath>
<clipPath id="p3c24"><rect x="540" y="60" width="141" height="62"/></clipPath>
<clipPath id="p3c25"><rect x="681" y="45" width="165" height="307"/></clipPath>
<linearGradient id="p3g26" x1="0" y1="0" x2="0" y2="1"><stop offset="0.000" stop-color="#595959"/><stop offset="0.351" stop-color="#666666"/><stop offset="0.675" stop-color="#606060"/><stop offset="0.831" stop-color="#464646"/><stop offset="1.000" stop-color="#333333"/></linearGradient>
<clipPath id="p3c27"><rect x="470" y="322" width="230" height="30"/></clipPath>
<clipPath id="p3c28"><rect x="117" y="352" width="729" height="162"/></clipPath>
<linearGradient id="p3g29" x1="0" y1="0" x2="0" y2="1"><stop offset="0.000" stop-color="#000000"/><stop offset="0.213" stop-color="#333333"/><stop offset="0.532" stop-color="#505050"/><stop offset="1.000" stop-color="#595959"/></linearGradient>
<linearGradient id="p3g30" x1="0" y1="0" x2="0" y2="1"><stop offset="0.000" stop-color="#404040" stop-opacity="0.00"/><stop offset="0.405" stop-color="#5c5c5c" stop-opacity="0.90"/><stop offset="1.000" stop-color="#636363"/></linearGradient>
<linearGradient id="p3g31" x1="0" y1="0" x2="0" y2="1"><stop offset="0.000" stop-color="#393939"/><stop offset="0.111" stop-color="#404040"/><stop offset="0.265" stop-color="#333333"/><stop offset="0.481" stop-color="#404040"/><stop offset="0.636" stop-color="#535353"/><stop offset="1.000" stop-color="#5c5c5c"/></linearGradient>
<linearGradient id="p3g32" x1="0" y1="0" x2="0" y2="1"><stop offset="0.000" stop-color="#4c4c4c" stop-opacity="0.80"/><stop offset="0.184" stop-color="#535353" stop-opacity="0.80"/><stop offset="0.490" stop-color="#4c4c4c" stop-opacity="0.80"/><stop offset="0.796" stop-color="#535353" stop-opacity="0.50"/><stop offset="1.000" stop-color="#535353" stop-opacity="0.00"/></linearGradient>
<linearGradient id="p3g33" x1="0" y1="0" x2="0" y2="1"><stop offset="0.000" stop-color="#333333"/><stop offset="0.173" stop-color="#2d2d2d"/><stop offset="0.296" stop-color="#000000"/><stop offset="0.605" stop-color="#000000"/><stop offset="0.790" stop-color="#262626"/><stop offset="1.000" stop-color="#303030"/></linearGradient>
<linearGradient id="p3g34" x1="0" y1="0" x2="0" y2="1"><stop offset="0.000" stop-color="#2d2d2d"/><stop offset="0.173" stop-color="#202020"/><stop offset="0.265" stop-color="#000000"/><stop offset="1.000" stop-color="#000000"/></linearGradient>
<linearGradient id="p3g35" x1="0" y1="0" x2="0" y2="1"><stop offset="0.000" stop-color="#000000"/><stop offset="0.194" stop-color="#2d2d2d"/><stop offset="0.388" stop-color="#4c4c4c"/><stop offset="0.659" stop-color="#595959"/><stop offset="1.000" stop-color="#5c5c5c"/></linearGradient>
<linearGradient id="p3g36" x1="0" y1="0" x2="0" y2="1"><stop offset="0.000" stop-color="#404040" stop-opacity="0.00"/><stop offset="0.337" stop-color="#666666" stop-opacity="0.90"/><stop offset="1.000" stop-color="#6c6c6c"/></linearGradient>
<linearGradient id="p3g37" x1="0" y1="0" x2="0" y2="1"><stop offset="0.000" stop-color="#4c4c4c"/><stop offset="0.455" stop-color="#535353"/><stop offset="0.727" stop-color="#262626"/><stop offset="1.000" stop-color="#000000" stop-opacity="0.00"/></linearGradient>
<linearGradient id="p3g38" x1="0" y1="0" x2="0" y2="1"><stop offset="0.000" stop-color="#797979"/><stop offset="0.173" stop-color="#808080"/><stop offset="0.284" stop-color="#999999"/><stop offset="0.420" stop-color="#939393"/><stop offset="0.494" stop-color="#606060"/><stop offset="0.605" stop-color="#2d2d2d"/><stop offset="1.000" stop-color="#1a1a1a"/></linearGradient>
<linearGradient id="p3g39" x1="0" y1="0" x2="0" y2="1"><stop offset="0.000" stop-color="#595959"/><stop offset="0.062" stop-color="#606060"/><stop offset="0.173" stop-color="#606060"/><stop offset="0.265" stop-color="#4c4c4c"/><stop offset="0.315" stop-color="#0d0d0d"/><stop offset="1.000" stop-color="#000000"/></linearGradient>
<linearGradient id="p3g40" x1="0" y1="0" x2="0" y2="1"><stop offset="0.000" stop-color="#797979"/><stop offset="0.500" stop-color="#808080"/><stop offset="0.833" stop-color="#666666"/><stop offset="1.000" stop-color="#202020"/></linearGradient>
<linearGradient id="p3g41" x1="0" y1="0" x2="0" y2="1"><stop offset="0.000" stop-color="#737373"/><stop offset="0.690" stop-color="#737373"/><stop offset="1.000" stop-color="#404040"/></linearGradient>
<linearGradient id="p3g42" x1="0" y1="0" x2="0" y2="1"><stop offset="0.000" stop-color="#595959" stop-opacity="0.00"/><stop offset="0.130" stop-color="#666666"/><stop offset="0.783" stop-color="#696969"/><stop offset="1.000" stop-color="#5c5c5c" stop-opacity="0.00"/></linearGradient>
<linearGradient id="p3g43" x1="0" y1="0" x2="0" y2="1"><stop offset="0.000" stop-color="#6c6c6c"/><stop offset="0.189" stop-color="#8c8c8c"/><stop offset="0.755" stop-color="#8c8c8c"/><stop offset="1.000" stop-color="#6c6c6c"/></linearGradient>
<linearGradient id="p3g44" x1="0" y1="0" x2="0" y2="1"><stop offset="0.000" stop-color="#404040"/><stop offset="0.043" stop-color="#595959"/><stop offset="0.416" stop-color="#5c5c5c"/><stop offset="1.000" stop-color="#5c5c5c"/></linearGradient>
<linearGradient id="p3g45" x1="0" y1="0" x2="0" y2="1"><stop offset="0.000" stop-color="#262626"/><stop offset="0.265" stop-color="#1a1a1a"/><stop offset="0.451" stop-color="#060606"/><stop offset="0.543" stop-color="#404040"/><stop offset="0.728" stop-color="#535353"/><stop offset="1.000" stop-color="#565656"/></linearGradient>
<linearGradient id="p3g46" x1="0" y1="0" x2="0" y2="1"><stop offset="0.000" stop-color="#535353"/><stop offset="0.062" stop-color="#666666"/><stop offset="0.173" stop-color="#707070"/><stop offset="0.389" stop-color="#6c6c6c"/><stop offset="0.543" stop-color="#5c5c5c"/><stop offset="1.000" stop-color="#5c5c5c"/></linearGradient></defs>
<g transform="translate(0,0)"><g clip-path="url(#cp)"><g filter="url(#jet)"><rect x="117" y="45" width="729" height="469" fill="#000"/><g clip-path="url(#p1c1)"><g filter="url(#b2)"><rect x="117" y="80" width="14" height="32" fill="#333333"/><rect x="117" y="112" width="10" height="103" fill="#2d2d2d"/></g><g filter="url(#b4)"><polygon points="110,205 127,205 133,236 150,250 190,250 190,334 110,338" fill="#3d3d3d"/><polygon points="148,258 190,252 190,328 160,324 150,300 142,280" fill="#606060"/><ellipse cx="172" cy="312" rx="9" ry="10" fill="#6c6c6c"/><ellipse cx="129" cy="300" rx="20" ry="10" fill="#0d0d0d"/></g><g filter="url(#b2)"><polygon points="112,318 135,316 152,310 160,312 150,322 135,330 112,334" fill="#7c7c7c"/><ellipse cx="124" cy="323" rx="6" ry="3" fill="#939393"/><polygon points="112,337 135,334 152,323 170,331 190,335 190,353 112,353" fill="#060606"/></g><rect x="152" y="45" width="11" height="78" fill="url(#p1g2)"/><g clip-path="url(#p1c3)"><g filter="url(#b1)"><rect x="155.1" y="59.4" width="7.4" height="2.8" fill="#b2b2b2" opacity="0.78"/><rect x="152.4" y="95.6" width="10.6" height="2.7" fill="#bfbfbf" opacity="0.77"/><rect x="153.8" y="103.4" width="7.8" height="1.5" fill="#a8a8a8" opacity="0.98"/><rect x="152.1" y="113.1" width="9.8" height="1.5" fill="#c3c3c3" opacity="0.75"/><rect x="152.1" y="65.2" width="10.4" height="2.1" fill="#b0b0b0" opacity="0.80"/><rect x="152.9" y="66.3" width="9.2" height="1.8" fill="#aaaaaa" opacity="0.61"/><rect x="154.6" y="108.6" width="8.1" height="2.3" fill="#c5c5c5" opacity="0.94"/><rect x="154.9" y="58.5" width="6.7" height="2" fill="#c3c3c3" opacity="0.77"/><rect x="153.2" y="108.1" width="8.6" height="2.5" fill="#c1c1c1" opacity="0.94"/><rect x="152.1" y="85.4" width="10.4" height="2.4" fill="#bebebe" opacity="0.77"/><rect x="154.8" y="62.1" width="6.8" height="2.3" fill="#aeaeae" opacity="0.78"/><rect x="154.1" y="85.6" width="8.1" height="2.7" fill="#b2b2b2" opacity="0.61"/><rect x="155.9" y="53" width="5.9" height="2.6" fill="#aeaeae" opacity="0.67"/><rect x="155.1" y="85.2" width="6.8" height="3" fill="#c0c0c0" opacity="0.69"/><rect x="152.1" y="116.9" width="10.5" height="1.9" fill="#6e6e6e" opacity="0.79"/><rect x="153.2" y="96.9" width="7.4" height="1.3" fill="#656565" opacity="0.56"/><rect x="153.4" y="80.1" width="5.6" height="1.4" fill="#717171" opacity="0.72"/><rect x="152.1" y="81.1" width="10.8" height="1.3" fill="#626262" opacity="0.63"/><rect x="153.1" y="76.6" width="7.7" height="1.9" fill="#5a5a5a" opacity="0.51"/><rect x="153" y="72.8" width="6" height="1.1" fill="#686868" opacity="0.57"/><rect x="153.5" y="112.6" width="5.9" height="1.8" fill="#6b6b6b" opacity="0.82"/><rect x="153.9" y="74.8" width="8.4" height="2" fill="#6b6b6b" opacity="0.79"/></g></g><rect x="163" y="45" width="20" height="77" fill="url(#p1g4)"/><g clip-path="url(#p1c5)"><g filter="url(#b1)"><rect x="167.8" y="45" width="2.3" height="25" fill="#252525" opacity="0.72"/><rect x="163.3" y="45" width="2.8" height="25" fill="#2d2d2d" opacity="0.84"/><rect x="179.7" y="45" width="2.2" height="25" fill="#262626" opacity="0.96"/><rect x="173.5" y="45" width="2.6" height="25" fill="#282828" opacity="0.88"/><rect x="169" y="45" width="1.5" height="25" fill="#272727" opacity="0.96"/><rect x="177.3" y="45" width="2.9" height="25" fill="#222222" opacity="0.98"/></g></g><rect x="152" y="122" width="6" height="128" fill="#303030"/><rect x="158" y="122" width="25" height="140" fill="url(#p1g6)"/><g filter="url(#b2)"><ellipse cx="165.5" cy="176" rx="5" ry="52" fill="#838383"/><ellipse cx="165.5" cy="180" rx="3" ry="40" fill="#939393" opacity="0.90"/><ellipse cx="165.5" cy="176" rx="3" ry="8" fill="#9f9f9f"/><ellipse cx="176" cy="175" rx="5" ry="45" fill="#737373" opacity="0.60"/></g></g><g clip-path="url(#p1c7)"><rect x="348" y="45" width="4" height="311" fill="url(#p1g8)"/><rect x="352" y="45" width="20" height="307" fill="url(#p1g9)"/><rect x="376" y="45" width="20" height="307" fill="url(#p1g10)"/><g filter="url(#b2)"><ellipse cx="362" cy="172" rx="7" ry="45" fill="#9c9c9c"/><ellipse cx="362" cy="172" rx="4" ry="25" fill="#afafaf"/><ellipse cx="362" cy="205" rx="4" ry="25" fill="#a3a3a3"/><ellipse cx="364" cy="312" rx="9" ry="12" fill="#9c9c9c"/><ellipse cx="378" cy="175" rx="4" ry="40" fill="#7c7c7c"/></g><g clip-path="url(#p1c11)"><g filter="url(#b1)"><rect x="361" y="45" width="2.3" height="77" fill="#b6b6b6" opacity="0.83"/><rect x="355.7" y="45" width="2.3" height="77" fill="#a9a9a9" opacity="0.72"/><rect x="353.8" y="45" width="2.7" height="77" fill="#c5c5c5" opacity="0.99"/><rect x="365.1" y="45" width="2.4" height="77" fill="#b7b7b7" opacity="0.62"/><rect x="355.8" y="45" width="1.9" height="77" fill="#b4b4b4" opacity="0.94"/><rect x="362.4" y="45" width="2.5" height="77" fill="#b4b4b4" opacity="0.71"/><rect x="372" y="45" width="0" height="77" fill="#b0b0b0" opacity="0.69"/><rect x="361.5" y="45" width="3.3" height="23.6" fill="#4d4d4d" opacity="0.81"/><rect x="357.5" y="45" width="3.6" height="19" fill="#5b5b5b" opacity="0.90"/><rect x="354.9" y="45" width="2.9" height="15.9" fill="#4e4e4e" opacity="0.95"/><rect x="353.5" y="45" width="3.4" height="21" fill="#626262" opacity="0.71"/><rect x="381.2" y="45" width="2.5" height="55.8" fill="#a0a0a0" opacity="0.69"/><rect x="378.9" y="45" width="1.8" height="73.7" fill="#adadad" opacity="0.69"/><rect x="381.9" y="45" width="2.1" height="61.8" fill="#9a9a9a" opacity="0.71"/><rect x="378.9" y="45" width="2.8" height="56.8" fill="#b9b9b9" opacity="0.90"/><rect x="395" y="45" width="1" height="55.8" fill="#acacac" opacity="0.90"/><rect x="378.1" y="45" width="3.4" height="17.4" fill="#4d4d4d" opacity="0.70"/><rect x="390.7" y="45" width="3.3" height="27.6" fill="#505050" opacity="0.91"/><rect x="378.4" y="45" width="2.4" height="40.7" fill="#4d4d4d" opacity="0.92"/><rect x="388.6" y="45" width="2.3" height="28.4" fill="#4a4a4a" opacity="0.86"/><rect x="378.5" y="45" width="2.7" height="46.8" fill="#5f5f5f" opacity="0.76"/><rect x="352" y="91" width="44" height="4" fill="#b9b9b9" opacity="0.85"/><rect x="352" y="84" width="44" height="3" fill="#a6a6a6" opacity="0.60"/><rect x="352" y="101" width="44" height="2" fill="#9f9f9f" opacity="0.50"/></g></g><g filter="url(#b2)"><ellipse cx="366" cy="341" rx="22" ry="7" fill="#acacac"/><ellipse cx="364" cy="341" rx="12" ry="4" fill="#bfbfbf"/><ellipse cx="392" cy="341" rx="8" ry="5" fill="#8c8c8c" opacity="0.80"/></g></g><g clip-path="url(#p1c12)"><g filter="url(#b3)"><rect x="395" y="45" width="18" height="177" fill="#303030"/><rect x="418" y="100" width="44" height="40" fill="#2d2d2d"/><rect x="450" y="100" width="12" height="125" fill="#292929"/><rect x="395" y="66" width="16" height="42" fill="#464646"/></g><g filter="url(#b12)"><polygon points="360,213 420,213 445,220 462,230 472,258 474,360 360,360" fill="#5e5e5e"/></g><g filter="url(#b8)"><ellipse cx="396" cy="295" rx="16" ry="45" fill="#707070" opacity="0.70"/><polygon points="462,240 545,258 545,336 462,336" fill="#494949" opacity="0.90"/><polygon points="494,246 506,246 520,266 536,266 536,315 494,315" fill="#535353"/><ellipse cx="462" cy="300" rx="14" ry="30" fill="#505050" opacity="0.80"/></g><g filter="url(#b4)"><polygon points="480,225 494,225 496,300 500,340 474,340 472,290 477,260" fill="#131313"/><ellipse cx="508" cy="308" rx="13" ry="9" fill="#636363"/><rect x="523" y="45" width="6" height="247" fill="#060606"/></g><g filter="url(#b4)"><ellipse cx="422" cy="317" rx="5" ry="8" fill="#464646" opacity="0.80"/><polygon points="455,332 500,333 500,356 455,356" fill="#0d0d0d"/><polygon points="395,343 460,339 460,353 395,355" fill="#2d2d2d"/></g><rect x="420" y="45" width="39" height="73" fill="url(#p1g13)"/><g clip-path="url(#p1c14)"><g filter="url(#b1)"><rect x="420" y="45" width="8" height="67" fill="#9f9f9f" opacity="0.80"/><rect x="427" y="45" width="1.5" height="67" fill="#c6c6c6"/><rect x="440.9" y="46" width="3.1" height="34.2" fill="#c1c1c1" opacity="0.91"/><rect x="440.7" y="46" width="2.7" height="34" fill="#bdbdbd" opacity="0.89"/><rect x="449.7" y="46" width="2.3" height="33.9" fill="#c4c4c4" opacity="0.74"/><rect x="446" y="46" width="2.6" height="26.2" fill="#c2c2c2" opacity="0.99"/><rect x="443.6" y="46" width="3.5" height="35.9" fill="#cbcbcb" opacity="0.78"/><rect x="439" y="46" width="2.3" height="33.6" fill="#b9b9b9" opacity="0.82"/><rect x="448.7" y="46" width="3.3" height="36.7" fill="#c2c2c2" opacity="0.72"/><rect x="453.2" y="46" width="1.2" height="38" fill="#858585" opacity="0.87"/><rect x="438.9" y="46" width="1.5" height="38" fill="#929292" opacity="0.65"/><rect x="433.1" y="46" width="1.5" height="38" fill="#828282" opacity="0.78"/><rect x="434" y="46" width="1.2" height="38" fill="#878787" opacity="0.79"/><rect x="430" y="89" width="29" height="3.5" fill="#acacac" opacity="0.80"/><rect x="430" y="99" width="25" height="1.5" fill="#868686"/><rect x="430" y="106" width="25" height="1.5" fill="#808080"/><rect x="452" y="45" width="7" height="65" fill="#666666" opacity="0.60"/><rect x="456" y="45" width="1" height="50" fill="#0d0d0d"/><rect x="458.5" y="45" width="1.5" height="50" fill="#0d0d0d"/></g></g><rect x="410" y="45" width="9" height="170" fill="#060606"/><rect x="493" y="45" width="12" height="300" fill="url(#p1g15)"/><rect x="483" y="45" width="9.5" height="285" fill="#060606"/><rect x="529" y="45" width="11" height="240" fill="url(#p1g16)"/><g clip-path="url(#p1c17)"><g filter="url(#b1)"><rect x="524" y="54.9" width="16" height="2.5" fill="#2c2c2c" opacity="0.92"/><rect x="524" y="89.6" width="16" height="2.3" fill="#202020" opacity="0.75"/><rect x="524" y="77.6" width="16" height="1.6" fill="#2d2d2d" opacity="0.62"/><rect x="524" y="99.9" width="16" height="0.1" fill="#222222" opacity="0.73"/><rect x="524" y="72.9" width="16" height="1.7" fill="#292929" opacity="0.93"/><rect x="524" y="52.7" width="16" height="2.9" fill="#343434" opacity="0.79"/><rect x="524" y="56.1" width="16" height="1.6" fill="#4d4d4d" opacity="0.68"/><rect x="524" y="98.3" width="16" height="1.7" fill="#414141" opacity="0.89"/><rect x="524" y="52.6" width="16" height="2.2" fill="#555555" opacity="0.96"/><rect x="524" y="68.1" width="16" height="2" fill="#595959" opacity="0.75"/></g></g></g><g clip-path="url(#p1c18)"><rect x="528" y="45" width="13" height="307" fill="url(#p1g19)"/><g filter="url(#b4)"><rect x="538" y="45" width="152" height="307" fill="url(#p1g20)"/><rect x="652" y="100" width="31" height="230" fill="url(#p1g21)"/><rect x="536" y="105" width="16" height="225" fill="url(#p1g22)"/><ellipse cx="590" cy="59" rx="26" ry="5" fill="#393939"/><ellipse cx="552" cy="57" rx="12" ry="4" fill="#404040"/><ellipse cx="560" cy="68" rx="8" ry="3" fill="#464646" opacity="0.70"/><rect x="570" y="91.5" width="30" height="3.5" fill="#404040"/><ellipse cx="548" cy="110" rx="8" ry="5" fill="#404040"/></g><g filter="url(#b3)"><ellipse cx="556" cy="182" rx="4.5" ry="42" fill="#898989" opacity="0.90"/><ellipse cx="556" cy="258" rx="5" ry="40" fill="#636363" opacity="0.70"/><ellipse cx="556" cy="177" rx="4.5" ry="7" fill="#999999"/><ellipse cx="567" cy="182" rx="4.5" ry="42" fill="#898989" opacity="0.90"/><ellipse cx="567" cy="258" rx="5" ry="40" fill="#636363" opacity="0.70"/><ellipse cx="567" cy="177" rx="4.5" ry="7" fill="#9c9c9c"/><ellipse cx="578" cy="182" rx="4.5" ry="42" fill="#898989" opacity="0.90"/><ellipse cx="578" cy="258" rx="5" ry="40" fill="#636363" opacity="0.70"/><ellipse cx="578" cy="177" rx="4.5" ry="7" fill="#9c9c9c"/><ellipse cx="592" cy="182" rx="4.5" ry="42" fill="#898989" opacity="0.90"/><ellipse cx="592" cy="258" rx="5" ry="40" fill="#636363" opacity="0.70"/><ellipse cx="592" cy="177" rx="4.5" ry="7" fill="#999999"/><ellipse cx="627" cy="182" rx="4.5" ry="42" fill="#898989" opacity="0.90"/><ellipse cx="627" cy="258" rx="5" ry="40" fill="#636363" opacity="0.70"/><ellipse cx="627" cy="177" rx="4.5" ry="7" fill="#9c9c9c"/><ellipse cx="606" cy="182" rx="4.5" ry="42" fill="#898989" opacity="0.45"/><ellipse cx="606" cy="258" rx="5" ry="40" fill="#636363" opacity="0.35"/><ellipse cx="648" cy="182" rx="4.5" ry="42" fill="#898989" opacity="0.54"/><ellipse cx="648" cy="258" rx="5" ry="40" fill="#636363" opacity="0.42"/><ellipse cx="600" cy="177" rx="30" ry="4" fill="#8c8c8c" opacity="0.50"/><ellipse cx="608" cy="272" rx="7" ry="24" fill="#404040"/><ellipse cx="585" cy="274" rx="5" ry="20" fill="#464646" opacity="0.80"/><ellipse cx="573" cy="272" rx="3" ry="18" fill="#464646" opacity="0.60"/><ellipse cx="640" cy="278" rx="8" ry="14" fill="#464646" opacity="0.60"/></g><g clip-path="url(#p1c23)"><g filter="url(#b1)"><rect x="625" y="46" width="41" height="10" fill="#a6a6a6"/><rect x="626.3" y="50.2" width="39.7" height="1.7" fill="#c1c1c1" opacity="0.91"/><rect x="630.9" y="52.1" width="35.1" height="1.9" fill="#c6c6c6" opacity="0.90"/><rect x="626.2" y="55.2" width="39.8" height="1.8" fill="#c5c5c5" opacity="0.75"/><rect x="625.5" y="53.2" width="40.5" height="2.1" fill="#b3b3b3" opacity="0.96"/><rect x="617" y="80.5" width="55" height="1.5" fill="#a6a6a6" opacity="0.90"/><rect x="607" y="86.5" width="55" height="1.5" fill="#9f9f9f" opacity="0.80"/><rect x="606" y="92.5" width="75" height="3" fill="#c6c6c6"/><rect x="606" y="95.5" width="34" height="1.5" fill="#8c8c8c"/><rect x="620" y="99.5" width="48" height="1.5" fill="#acacac" opacity="0.90"/><rect x="625" y="104.5" width="40" height="1.5" fill="#b2b2b2" opacity="0.90"/><rect x="622" y="107.5" width="38" height="1.2" fill="#a6a6a6" opacity="0.80"/><rect x="623" y="110" width="44" height="5" fill="#c6c6c6"/><rect x="612" y="111" width="11" height="3" fill="#999999" opacity="0.80"/></g></g><g clip-path="url(#p1c24)"><g filter="url(#b1)"><rect x="544.3" y="64.2" width="81.8" height="2.1" fill="#7e7e7e" opacity="0.72"/><rect x="540.6" y="87.4" width="86.5" height="1.8" fill="#707070" opacity="0.74"/><rect x="553" y="92.6" width="81.7" height="2.2" fill="#868686" opacity="0.73"/><rect x="555.4" y="83" width="69.7" height="1.3" fill="#828282" opacity="0.64"/><rect x="551.3" y="90.4" width="87.2" height="1.9" fill="#626262" opacity="0.78"/><rect x="566.7" y="109" width="57.7" height="1.6" fill="#646464" opacity="0.74"/><rect x="560.4" y="94.7" width="76.8" height="2.4" fill="#7b7b7b" opacity="0.71"/><rect x="555.9" y="112.3" width="63.1" height="1.6" fill="#676767" opacity="0.74"/><rect x="557.7" y="105.7" width="71.2" height="1.3" fill="#686868" opacity="0.64"/><rect x="543.4" y="116.3" width="81.8" height="1.7" fill="#828282" opacity="0.78"/><rect x="569" y="102" width="52.9" height="1.3" fill="#636363" opacity="0.45"/><rect x="544.6" y="66.8" width="71.2" height="2.1" fill="#646464" opacity="0.61"/><rect x="540.1" y="86.8" width="72.8" height="1.2" fill="#8b8b8b" opacity="0.45"/><rect x="567.1" y="103.1" width="46.3" height="2.5" fill="#6f6f6f" opacity="0.69"/></g></g><g filter="url(#b4)"><ellipse cx="560" cy="285" rx="24" ry="28" fill="#636363" opacity="0.80"/><polyline points="546,290 551,307 566,321 586,325 606,317 616,298" fill="none" stroke="#303030" stroke-width="9" stroke-linecap="round" stroke-linejoin="round"/><ellipse cx="602" cy="272" rx="8" ry="36" fill="#3d3d3d" opacity="0.90"/><polyline points="533,268 536,292 544,314 558,328 580,335" fill="none" stroke="#737373" stroke-width="8" stroke-linecap="round" stroke-linejoin="round"/><ellipse cx="542" cy="310" rx="6" ry="13" fill="#838383"/><ellipse cx="592" cy="297" rx="5" ry="4" fill="#595959"/><ellipse cx="672" cy="308" rx="12" ry="7" fill="#505050"/><ellipse cx="640" cy="300" rx="14" ry="8" fill="#494949" opacity="0.70"/><polygon points="612,322 690,320 690,352 612,352" fill="#0d0d0d"/></g></g><g clip-path="url(#p1c25)"><g filter="url(#b3)"><rect x="681" y="45" width="21" height="205" fill="#303030"/><rect x="681" y="250" width="16" height="72" fill="#404040"/><ellipse cx="697" cy="296" rx="12" ry="24" fill="#404040"/><ellipse cx="715" cy="293" rx="7" ry="6" fill="#4c4c4c"/></g><g filter="url(#b1)"><rect x="685" y="48" width="7" height="77" fill="url(#p1g26)"/><rect x="684" y="63.6" width="9" height="2.3" fill="#393939" opacity="0.72"/><rect x="684" y="107.3" width="9" height="2.1" fill="#545454" opacity="0.75"/><rect x="684" y="85.5" width="9" height="2" fill="#787878" opacity="0.84"/><rect x="684" y="49.8" width="9" height="1.9" fill="#353535" opacity="0.75"/><rect x="684" y="71.5" width="9" height="2.7" fill="#363636" opacity="0.80"/><rect x="684" y="76" width="9" height="2.8" fill="#787878" opacity="0.83"/><rect x="684" y="100.9" width="9" height="2.7" fill="#787878" opacity="0.69"/><rect x="684" y="49" width="9" height="2.2" fill="#767676" opacity="0.54"/><rect x="684" y="105.9" width="9" height="2.3" fill="#4c4c4c" opacity="0.55"/><rect x="684" y="96.8" width="9" height="2.5" fill="#676767" opacity="0.90"/><rect x="684" y="107.6" width="9" height="2.5" fill="#6a6a6a" opacity="0.87"/><rect x="684" y="101.2" width="9" height="2.8" fill="#2d2d2d" opacity="0.73"/></g><g filter="url(#b4)"><ellipse cx="762" cy="165" rx="17" ry="52" fill="#2b2b2b"/><ellipse cx="762" cy="137" rx="16" ry="9" fill="#3b3b3b"/><ellipse cx="775" cy="336" rx="30" ry="4" fill="#333333"/><ellipse cx="786" cy="336" rx="15" ry="3.5" fill="#3d3d3d"/><ellipse cx="738" cy="351" rx="13" ry="3" fill="#333333"/></g><g filter="url(#b2)"><ellipse cx="834" cy="341" rx="14" ry="10" fill="#494949"/><ellipse cx="838" cy="338" rx="8" ry="7" fill="#565656"/><ellipse cx="820" cy="347" rx="10" ry="6" fill="#393939"/><ellipse cx="823" cy="283" rx="3" ry="4" fill="#2d2d2d"/><ellipse cx="836" cy="290" rx="4" ry="6" fill="#2d2d2d"/></g><g filter="url(#b1)"><rect x="748" y="48" width="12" height="10" fill="#404040" opacity="0.85"/><rect x="748" y="60" width="12" height="5" fill="#535353" opacity="0.85"/><rect x="748" y="72" width="12" height="10" fill="#464646" opacity="0.85"/><rect x="748" y="83" width="12" height="9" fill="#4c4c4c" opacity="0.85"/><rect x="772" y="55" width="8" height="35" fill="#333333" opacity="0.85"/><rect x="785" y="48" width="10" height="47" fill="#4c4c4c" opacity="0.85"/><rect x="785" y="76" width="11" height="2.5" fill="#737373" opacity="0.85"/><rect x="772" y="76.5" width="28" height="1.5" fill="#4c4c4c" opacity="0.85"/><rect x="822" y="48" width="13" height="24" fill="#333333" opacity="0.85"/><rect x="748" y="96" width="9" height="6" fill="#333333" opacity="0.85"/></g><rect x="716.9" y="50" width="1.2" height="60" fill="#666666" opacity="0.75"/><rect x="722.9" y="80" width="1.2" height="120" fill="#535353" opacity="0.75"/><rect x="725.7" y="80" width="1.2" height="85" fill="#464646" opacity="0.75"/><rect x="791.7" y="95" width="1.2" height="145" fill="#6c6c6c" opacity="0.75"/><rect x="799.8" y="115" width="1.2" height="70" fill="#4c4c4c" opacity="0.75"/><rect x="815.9" y="115" width="1.2" height="75" fill="#464646" opacity="0.75"/><rect x="822.9" y="48" width="1.2" height="152" fill="#595959" opacity="0.75"/><rect x="825.9" y="48" width="1.2" height="152" fill="#606060" opacity="0.75"/><rect x="768.4" y="85" width="1.2" height="85" fill="#464646" opacity="0.75"/><rect x="678.6" y="48" width="1.2" height="192" fill="#666666" opacity="0.75"/></g><g clip-path="url(#p1c27)"><g filter="url(#b4)"><ellipse cx="556" cy="348" rx="60" ry="11" fill="#696969"/><ellipse cx="508" cy="346" rx="12" ry="7" fill="#595959" opacity="0.90"/></g><g filter="url(#b3)"><ellipse cx="532" cy="346" rx="18" ry="9" fill="#737373"/><ellipse cx="584" cy="343" rx="20" ry="10" fill="#797979"/></g><g filter="url(#b2)"><ellipse cx="532" cy="345.5" rx="9" ry="4" fill="#a3a3a3"/><ellipse cx="583" cy="342" rx="10" ry="5.5" fill="#afafaf"/><ellipse cx="583.5" cy="342" rx="7" ry="4" fill="#cccccc"/></g></g><g clip-path="url(#p1c28)"><rect x="117" y="352" width="729" height="162" fill="#000000"/><rect x="117" y="425" width="66" height="89" fill="url(#p1g29)"/><rect x="395" y="430" width="145" height="84" fill="url(#p1g30)"/><g filter="url(#b14)"><rect x="152.5" y="353" width="4.5" height="161" fill="url(#p1g31)"/><rect x="159.5" y="353" width="3.5" height="161" fill="url(#p1g32)"/><rect x="157" y="353" width="2.5" height="161" fill="url(#p1g33)"/><rect x="165.5" y="380" width="1.5" height="134" fill="#2d2d2d"/><rect x="172" y="350" width="10" height="164" fill="url(#p1g34)"/><rect x="163" y="350" width="9" height="14" fill="url(#p1g35)"/><rect x="174.5" y="355" width="4" height="159" fill="url(#p1g36)"/><rect x="179.5" y="355" width="1.5" height="50" fill="#4c4c4c"/><rect x="121" y="353" width="9" height="2" fill="#2d2d2d"/><rect x="142" y="353" width="6" height="4" fill="#2d2d2d"/><rect x="128" y="362" width="4" height="8" fill="#292929"/></g><rect x="175.8" y="358" width="1.5" height="44" fill="#c6c6c6"/><g filter="url(#b14)"><rect x="348" y="352" width="4" height="162" fill="url(#p1g37)"/><rect x="352" y="353" width="6" height="161" fill="url(#p1g38)"/><rect x="358" y="353" width="5" height="161" fill="url(#p1g39)"/><rect x="363" y="353" width="2.5" height="161" fill="url(#p1g40)"/><rect x="365.5" y="353" width="4" height="161" fill="url(#p1g41)"/><rect x="369.5" y="353" width="2.5" height="161" fill="url(#p1g42)"/><rect x="376" y="353" width="4" height="161" fill="url(#p1g43)"/><rect x="380" y="353" width="3" height="161" fill="url(#p1g44)"/><rect x="383" y="353" width="4" height="161" fill="url(#p1g45)"/><rect x="387.5" y="353" width="4" height="161" fill="url(#p1g46)"/><rect x="391.5" y="353" width="4.5" height="161" fill="url(#p1g47)"/><rect x="396" y="353" width="24" height="161" fill="url(#p1g48)"/><rect x="403" y="385" width="2" height="37" fill="#535353"/><rect x="415" y="352" width="1.2" height="14" fill="#808080"/><rect x="420" y="353" width="28" height="161" fill="url(#p1g49)"/><rect x="422" y="380" width="5" height="65" fill="url(#p1g50)"/><rect x="431" y="368" width="6.5" height="84" fill="url(#p1g51)"/><rect x="428.5" y="380" width="1.5" height="134" fill="#606060" opacity="0.80"/><rect x="439" y="400" width="1.5" height="114" fill="#666666" opacity="0.70"/><rect x="444" y="380" width="1.5" height="134" fill="#6c6c6c" opacity="0.60"/><rect x="451" y="353" width="19" height="161" fill="url(#p1g52)"/><rect x="456.5" y="360" width="1.5" height="154" fill="#595959"/><rect x="462" y="380" width="1.5" height="134" fill="#202020"/><rect x="466" y="360" width="1" height="154" fill="#535353" opacity="0.80"/><rect x="470" y="353" width="22" height="161" fill="url(#p1g53)"/><rect x="493" y="352" width="3" height="162" fill="url(#p1g54)"/><rect x="496" y="352" width="7.5" height="162" fill="url(#p1g55)"/><rect x="503.5" y="352" width="2" height="162" fill="url(#p1g56)"/><rect x="505.5" y="353" width="24.5" height="161" fill="url(#p1g57)"/><rect x="530" y="353" width="36" height="161" fill="url(#p1g58)"/><rect x="530.4" y="399.8" width="1.1" height="114.2" fill="#4f4f4f" opacity="0.64"/><rect x="538.3" y="392.4" width="1.6" height="121.6" fill="#595959" opacity="0.65"/><rect x="549.3" y="400.4" width="1.4" height="113.6" fill="#4e4e4e" opacity="0.61"/><rect x="563.8" y="394" width="1.3" height="120" fill="#535353" opacity="0.98"/><rect x="537.6" y="405.5" width="1.2" height="108.5" fill="#5f5f5f" opacity="0.94"/><rect x="542.8" y="413.1" width="1.2" height="100.9" fill="#4d4d4d" opacity="0.89"/><rect x="561.3" y="394.6" width="1.5" height="119.4" fill="#5a5a5a" opacity="0.68"/><rect x="553.1" y="389.2" width="1.2" height="124.8" fill="#535353" opacity="0.76"/><rect x="553.3" y="416.8" width="1.7" height="97.2" fill="#606060" opacity="0.92"/><rect x="559.5" y="395" width="1.5" height="119" fill="#6c6c6c" opacity="0.80"/><rect x="520" y="352" width="92" height="162" fill="url(#p1g59)"/><rect x="530" y="383" width="36" height="131" fill="url(#p1g60)"/><rect x="607" y="352" width="69" height="162" fill="url(#p1g61)"/><rect x="607" y="352" width="4" height="162" fill="#4c4c4c" opacity="0.80"/><rect x="669" y="352" width="7" height="162" fill="#4c4c4c" opacity="0.80"/><rect x="611" y="352" width="4" height="162" fill="#606060" opacity="0.60"/><rect x="665" y="352" width="4" height="162" fill="#606060" opacity="0.60"/><rect x="624" y="365" width="7" height="93" fill="url(#p1g62)"/><rect x="633" y="365" width="8" height="97" fill="url(#p1g63)"/><rect x="652" y="365" width="6" height="85" fill="url(#p1g64)"/><rect x="659" y="368" width="7" height="77" fill="url(#p1g65)"/><rect x="644.5" y="430" width="3" height="84" fill="url(#p1g66)"/><rect x="622" y="470" width="20" height="44" fill="#737373" opacity="0.60"/><rect x="685" y="355" width="8" height="159" fill="url(#p1g67)"/></g><g filter="url(#b28)"><rect x="725" y="400" width="87" height="114" fill="url(#p1g68)"/><rect x="745" y="430" width="47" height="84" fill="url(#p1g69)"/><rect x="764" y="450" width="12" height="64" fill="url(#p1g70)"/><rect x="820" y="430" width="26" height="84" fill="url(#p1g71)"/></g><rect x="449" y="352" width="2" height="88" fill="#cccccc"/><g filter="url(#by4)"><rect x="481" y="352" width="1.3" height="78" fill="#8c8c8c"/><rect x="481" y="356" width="1.3" height="54" fill="#b2b2b2"/><rect x="497.6" y="375" width="1.2" height="45" fill="#999999"/><rect x="509.6" y="360" width="1" height="40" fill="#797979"/><rect x="679.7" y="352" width="1.2" height="63" fill="#808080"/><rect x="679.7" y="358" width="1.2" height="20" fill="#b9b9b9"/><rect x="721.1" y="352" width="1.3" height="63" fill="#797979"/><rect x="721.1" y="374" width="1.3" height="22" fill="#acacac"/><rect x="755.4" y="355" width="1.2" height="40" fill="#797979"/><rect x="713.9" y="378" width="1.2" height="18" fill="#4c4c4c"/><rect x="725.4" y="370" width="1.2" height="26" fill="#464646"/><rect x="814.8" y="357" width="1.2" height="39" fill="#6c6c6c"/><rect x="834.7" y="352" width="1.6" height="93" fill="#868686"/><rect x="834.7" y="368" width="1.6" height="54" fill="#b9b9b9"/></g></g><g filter="url(#by4)"><rect x="679.7" y="322" width="1.2" height="30" fill="#737373"/><rect x="721.1" y="346" width="1.3" height="6" fill="#606060"/><rect x="834.7" y="346" width="1.6" height="6" fill="#797979"/><rect x="481" y="347" width="1.3" height="5" fill="#737373"/><rect x="449.1" y="345" width="1.5" height="7" fill="#808080"/></g></g><path d="M183,45H356V112L353,119L349,130L348,140V514H183Z" fill="#7f0000"/><rect x="351.2" y="118" width="1" height="396" fill="#7f0000"/><rect x="372.2" y="45" width="3.7" height="469" fill="#7f0000"/><polyline points="850,47.2 690,46.7 686.3,47.3 687.7,47.1 684.5,47.6 683.5,48.2 678.7,47.9 679,48.6 679.1,49.1 677.2,49.3 673.9,50.4 671.2,51.1 673.1,50.9 666.9,51.9 670.1,52.3 664.7,52.9 662.2,53.2 663,54 661.2,54.8 658.7,55.4 657.1,56.4 656,56.9 657.4,58.1 654.9,58.6 655.2,60 649.2,60.4 649.7,61.3 652.5,61.7 655.3,61.7 656.4,62.2 655.3,62.4 660,62.8 659.7,62.9 658.9,62.8 663,63.3 666.1,63.5 664.5,63.9 668.9,64.2 668.7,64.3 671,64.8 672.7,64.8 674.1,64.7 673.4,65.5 679.9,65.7 678.4,65.6 680.6,66.5 683.6,66.5 685.7,66.5 685.5,67.3 687,67.2 685.9,67.7 682.7,68.2 684.8,68.3 682.4,69.4 681.4,69.8 679.4,70.1 676.3,70.6 678,72.1 676.7,74 680.3,75.2 682.3,75.4 683.6,76.1 684.4,76.4 687,77.1 689,77.4 690,77.9 685.9,78 685,78.6 686.9,79.1 684.9,79.4 680.4,79.7 680.9,79.4 675.8,79.7 678,80.2 672.9,80.8 672.5,80.6 669.9,81.3 668.2,81.4 668.3,81.9 671.1,82.2 670.8,82.6 670.9,82.9 674.7,83.1 674.8,84 678.6,83.8 680.7,84.7 679.4,84.4 681.8,85.3 683.5,85.7 687,85.9 686.3,86.2 682.3,86.8 683.7,86.6 679.1,87 678.4,87.1 676.4,87.4 673.4,87.4 676.5,88.1 671.5,88.3 669.9,88.6 670.5,88.4 666.3,88.3 668,88.6 664.4,89.2 667.7,89.8 668,89.4 671.2,90.3 672,90.2 671.9,90.3 672.7,90.9 675.5,90.7 675.4,91.4 678,91.5 679.8,92 684.4,91.6 682.4,92.1 685.6,92.5 686.5,93 681.5,92.8 681.6,93.6 681.3,93.5 679.4,94 675.7,94.5 672.8,94.6 670.4,94.4 673.1,94.7 670.6,95.3 669.4,95.4 665.2,95.6 666.3,96.1 665.1,96.6 659.2,96.6 657.4,96.5 655.6,97.4 657.7,97.7 653.8,97.8 654.4,97.9 651.7,98 649.7,98.5 649.1,98.9 654.9,99.8 656.7,100.3 654.9,101.1 659.4,101.1 660.2,101.8 658.9,103 660.1,103.1 666.6,103.8 665.7,104.5 664.4,105.9 665.7,108 665.6,109.8 668.3,111.1 668.7,113.1 672.4,114.2 670,116 672.3,117.7 668.7,118.4 666.9,118.5 670.3,119.3 666.7,119.9 663.8,120.2 665.4,121.5 661.7,121.7 665.8,122 663.5,123 669.1,123.5 669.2,124.2 668.6,124.7 670.4,125 670.9,125.6 677.2,126.4 676.3,127 678.8,127.6 682,127.9 680.4,128.4 682.2,129.3 686.9,129.3 685.7,130 688.7,130.6 690,131 686.9,131 685.1,131.4 685,131.8 680.7,132.7 680.1,133.2 679.3,133.6 677.6,133.7 677.1,135 681.8,136 684,137.4 684.4,139.4 684.3,140.3 684.3,140.4 678.9,140.8 681.5,140.9 679.7,141 678.1,141.2 673.4,142.1 674.2,142.4 672.8,142.5 670.3,142.3 667.3,142.5 667.1,143.2 663.1,143 665.1,143.8 661.3,143.8 661.2,144 657.7,144.3 655.6,145 653.2,145.5 653.7,146.6 651.7,147.1 649.7,148.3 650.6,148.3 651.1,148.8 656.4,149.2 655.8,149.7 656.6,149.6 659.8,150.3 662.1,150.6 663,151 665.5,151.8 664.7,152.1 667.5,152.5 668.7,153.3 672.8,154.2 671,154.5 673.7,155 669.7,155 670.4,156 666.8,156.3 668.9,156.3 666.2,157.1 662.8,157.3 663,157.6 662,158.2 660.8,158.2 655,158.3 655,158.9 652.2,161 652.4,162.9 655.3,162.9 656.5,163.8 656.4,163.9 657,164.4 658,165 663.5,165 662.3,165.6 667.5,165.3 668.1,166.2 668.3,166.3 670.5,168.1 671,169.6 669.1,170.8 670.2,171.2 667.6,172 664.4,172.9 664.2,173.1 665.6,173.9 671.6,173.6 671.3,174.1 670.4,174.4 672.6,175.1 673,175 676.8,175.2 679.4,176 680.3,176.2 680.5,176.4 676,177 674.4,177.5 672.6,177.9 673.9,178.4 673.2,178.6 669.1,179.3 669,179.5 665.4,179.6 664.4,180.2 663.9,181 665.4,181.5 669.2,182.3 671.8,182.9 670.1,183.1 673.9,183.5 675,184.2 673.5,184.5 672,184.7 670.1,185.5 667.8,185.9 668.7,186.6 665.7,186.9 667.3,187.8 668.3,188.2 667.9,189.1 672.6,190.3 673.7,190.8 677.1,191.5 679.5,192.1 680.4,192.8 680.3,193.5 683.1,194.4 682.3,194.3 685.5,195.2 686.4,195.7 687.2,195.9 688.9,196.9 690.6,197.9 693,198.4 696.2,199 695.7,199.6 698,200.2 698.8,200.7 701.2,201 703,201.5 706.3,202 707.6,202.3 709.2,202.5 708.6,202.6 711.1,203.1 711,204.9 708.8,205.9 708.2,207.7 706.2,209.3 707.9,209.4 709.7,210.4 711.3,210.5 713.6,210.6 715,211.8 717.2,211.8 718.5,212.3 717.4,213.1 714.7,213.5 714.8,214.3 711.3,215.4 710.9,215.8 709.3,216.8 706.9,217.4 706.2,218 705.2,219 702.7,219.6 701.1,220.3 699.5,221.2 699.6,221.6 696.6,222.8 696.3,223.5 693.2,224.2 693.1,224.5 691.3,225.4 689.7,226.7 689.2,227.3 687.4,228.3 686.8,229.6 685.3,230.9 683.2,231.6 681.5,232.8 683.1,233.1 683.7,234.2 685.8,234.8 687,235.4 689.7,235.7 689.8,236.4 692.2,236.8 693.8,237.7 693.7,238.9 695.3,241.1 695,241.9 696.8,244.1 698,245.5 697.2,247.2 697.3,248.6 698.8,250 697.5,251.7 698.1,253.4 696.9,255.1 698.1,257.1 697.2,258.6 697.2,260.5 696.3,262.4 697.2,264.3 698.8,265.2 699,267.5 698.6,268.7 699.9,270.7 700.1,272.3 701.6,273.3 702.7,274.8 701.5,276.9 702,278.3 703.7,280 703.9,281.2 705.9,282.5 707.9,284 707.2,284.5 710.3,285.7 710.7,287.3 711.5,288.6 712.4,290.2 714.7,292.2 715,294 715.1,295.7 714.7,297 714,298.5 712.9,300.6 711.5,301.9 712.4,303.3 711.5,305.4 713.1,306.7 714.9,307.4 716.6,308.3 718,308.7 719.6,309.9 717.8,310.8 716,312.2 715,313 714.3,314 712.3,314.8 711.5,316.3 709,317.8 708.3,318.8 707.7,321 709.6,322.9 709,324.5 706.9,325.5 707.7,327.1 705.9,328.5 707.2,329.3 708,329.3 710.6,329.4 712.3,330.1 711.5,331.8 709.4,332.4 708.8,332.2 706.1,332.7 704.2,333.4 703.3,333.4 699.9,333.9 699.9,334.2 696.9,334.8 696.9,335.2 694.4,335.1 692.7,335.5 691.2,335.7 689.7,336.1 688.3,336.9 686.6,336.6 685.1,337.3 683.8,337.9 682.1,338.3 680.3,338.5 678.3,340 676.3,340.9 674.9,340.9 672.7,341.2 671.3,341.1 669.5,341.7 667.7,342.1 666.4,341.9 664.5,342.1 663,342.4 661.3,342.7 659.8,342.6 658,343.1 656.5,342.7 654.7,343.3 653.4,343.4 652.1,343.5 650.4,343.6 648.9,343.6 646.7,343.5 645.5,344 644,343.9 642.4,343.7 640.9,344 638.9,344 637.7,344.2 635.6,344 634.3,344.4 632.9,344.2 630.9,344.7 629.1,344.3 627.8,344.6 625.9,344.7 624.7,345 623,345.1 621.1,344.9 620,345.5 617.9,345.8 616.2,345.6 615.1,346 613.1,346.3 611.7,346.4 610.3,346.2 608.5,346.5 607.1,346.8 605.3,347 603.9,346.7 601.7,347.2 600.5,347.2 598.7,347.3 597.3,347.7 595.5,347.3 594,347.8 592,347.8 590.7,347.7 588.7,348.1 587.3,348.4 585.8,348.8 584.2,348.8 582.2,349 580.4,349.2 578.9,349.8 576.9,349.7 575.1,349.6 573.5,350.1 571.8,350.6 570,350.4 568.1,350.7 567,350.9 565,350.8 563.2,351.4 561.8,351.3 560.1,351.7 558.4,351.4 556.4,351.9 554.7,352 553.1,351.8 551.4,351.8 549.6,352.2 548,352.4 546,352.3 544.4,353 542.9,352.7 541.5,352.8 539.5,353.3 537.9,353.2 536.2,353.4 534.5,353.5 533,353.9 530.6,353.5 529.5,353.8 527.2,353.9 525.8,354.6 524.1,354.4 522.4,354.7 521,354.4 519.2,355.3 517.5,355.1 515.7,355.6 514.5,355.1 512.5,355.5 510.8,355.7 509.3,355.8 507.3,356.3 505.8,357.1 504.2,357.3 503.1,358.6 501.7,359 500.2,360.4 499.1,361.7 497.9,362.8 497.3,363.7 496.2,364.9 494.9,366.4 493.5,367.9 492,368.7 490.8,370.2 489.5,371 488.2,371.8 486.2,373.3 484.7,373.8 483,375 481.6,375.5 479.8,375.9 478.5,377.1 476.9,378 475,378.3 473.2,379.1 471.8,380.1 470.4,380.5 468.4,381.7 467,382.3 465.6,383.3 464.1,385 463,386.3 462.4,388.7 461.6,390.3 462.6,392.4 463.6,394.3 464.5,396 465.7,398 467,399.6 468.6,400.2 470.4,401.3 472.3,402.2 473.2,403.6 474.1,405.2 475.4,406.3 476.3,407.6 477.8,408.3 480,409.4 481.6,410.2 483.1,412.5 484.2,414.2 485.7,414.9 487.4,415.3 489,416 490.9,416.9 491.6,418.3 493,419.6 494,420.7 494.9,422.2 496.5,422.7 498.7,423 500.2,423.5 501.2,424 502.7,425.4 504.2,426.2 504.8,427.7 506.1,430.1 506.8,431.5 508.4,432.2 510.2,432.4 511.7,433.2 513.5,434.1 515.1,435.2 517.2,435.5 518.8,436.8 519.8,438.3 521.2,439.3 522.6,440.4 524.1,442.1 525.5,442.5 527.6,443.8 529.4,444.1 531.1,444.7 532.8,445.6 534.4,446.4 536,447.4 537.3,448.6 538.2,450.2 539.2,451.5 540,452.7 541,454.6 541.4,456.7 543.3,457.7 545,458.6 546.7,459.4 548.4,460 550.3,460.8 551.7,461 553.3,462 554.6,462.8 555.8,464.1 557.4,465 558.5,466.3 560,467.4 560.8,468.9 561.3,470.5 562.5,472.2 563.2,474 564,475.3 564.7,477.1 564.7,478.5 565.6,480 566.3,481.7 566.8,483.4 567.2,485.6 567.4,487.2 568,488.6 568.6,490.4 569.7,491.6 570.4,493.2 571.3,494.7 572.6,496.2 572.9,498 574.4,499.2 575,500.6 576.1,501.9 577.7,503.1 578.8,504.5 579.7,506.1 581,507 582.2,508.2 583.2,509.1 584.4,510.4 585.6,511 586.9,512.1 588.4,513.5 590.2,514.6 592,516" fill="none" stroke="#f00" stroke-width="3.1" stroke-linejoin="round"/></g><rect x="891.9" y="45" width="23.45" height="469" fill="url(#cb)"/></g>
<g transform="translate(0,602)"><g clip-path="url(#cp)"><g filter="url(#jet)"><rect x="117" y="45" width="729" height="469" fill="#000"/><g clip-path="url(#p2c1)"><g filter="url(#b2)"><rect x="117" y="80" width="14" height="32" fill="#333333"/><rect x="117" y="112" width="10" height="103" fill="#2d2d2d"/></g><g filter="url(#b4)"><polygon points="110,205 127,205 133,236 150,250 190,250 190,334 110,338" fill="#3d3d3d"/><polygon points="148,258 190,252 190,328 160,324 150,300 142,280" fill="#606060"/><ellipse cx="172" cy="312" rx="9" ry="10" fill="#6c6c6c"/><ellipse cx="129" cy="300" rx="20" ry="10" fill="#0d0d0d"/></g><g filter="url(#b2)"><polygon points="112,318 135,316 152,310 160,312 150,322 135,330 112,334" fill="#7c7c7c"/><ellipse cx="124" cy="323" rx="6" ry="3" fill="#939393"/><polygon points="112,337 135,334 152,323 170,331 190,335 190,353 112,353" fill="#060606"/></g><rect x="152" y="45" width="11" height="78" fill="url(#p2g2)"/><g clip-path="url(#p2c3)"><g filter="url(#b1)"><rect x="155.1" y="59.4" width="7.4" height="2.8" fill="#b2b2b2" opacity="0.78"/><rect x="152.4" y="95.6" width="10.6" height="2.7" fill="#bfbfbf" opacity="0.77"/><rect x="153.8" y="103.4" width="7.8" height="1.5" fill="#a8a8a8" opacity="0.98"/><rect x="152.1" y="113.1" width="9.8" height="1.5" fill="#c3c3c3" opacity="0.75"/><rect x="152.1" y="65.2" width="10.4" height="2.1" fill="#b0b0b0" opacity="0.80"/><rect x="152.9" y="66.3" width="9.2" height="1.8" fill="#aaaaaa" opacity="0.61"/><rect x="154.6" y="108.6" width="8.1" height="2.3" fill="#c5c5c5" opacity="0.94"/><rect x="154.9" y="58.5" width="6.7" height="2" fill="#c3c3c3" opacity="0.77"/><rect x="153.2" y="108.1" width="8.6" height="2.5" fill="#c1c1c1" opacity="0.94"/><rect x="152.1" y="85.4" width="10.4" height="2.4" fill="#bebebe" opacity="0.77"/><rect x="154.8" y="62.1" width="6.8" height="2.3" fill="#aeaeae" opacity="0.78"/><rect x="154.1" y="85.6" width="8.1" height="2.7" fill="#b2b2b2" opacity="0.61"/><rect x="155.9" y="53" width="5.9" height="2.6" fill="#aeaeae" opacity="0.67"/><rect x="155.1" y="85.2" width="6.8" height="3" fill="#c0c0c0" opacity="0.69"/><rect x="152.1" y="116.9" width="10.5" height="1.9" fill="#6e6e6e" opacity="0.79"/><rect x="153.2" y="96.9" width="7.4" height="1.3" fill="#656565" opacity="0.56"/><rect x="153.4" y="80.1" width="5.6" height="1.4" fill="#717171" opacity="0.72"/><rect x="152.1" y="81.1" width="10.8" height="1.3" fill="#626262" opacity="0.63"/><rect x="153.1" y="76.6" width="7.7" height="1.9" fill="#5a5a5a" opacity="0.51"/><rect x="153" y="72.8" width="6" height="1.1" fill="#686868" opacity="0.57"/><rect x="153.5" y="112.6" width="5.9" height="1.8" fill="#6b6b6b" opacity="0.82"/><rect x="153.9" y="74.8" width="8.4" height="2" fill="#6b6b6b" opacity="0.79"/></g></g><rect x="163" y="45" width="20" height="77" fill="url(#p2g4)"/><g clip-path="url(#p2c5)"><g filter="url(#b1)"><rect x="167.8" y="45" width="2.3" height="25" fill="#252525" opacity="0.72"/><rect x="163.3" y="45" width="2.8" height="25" fill="#2d2d2d" opacity="0.84"/><rect x="179.7" y="45" width="2.2" height="25" fill="#262626" opacity="0.96"/><rect x="173.5" y="45" width="2.6" height="25" fill="#282828" opacity="0.88"/><rect x="169" y="45" width="1.5" height="25" fill="#272727" opacity="0.96"/><rect x="177.3" y="45" width="2.9" height="25" fill="#222222" opacity="0.98"/></g></g><rect x="152" y="122" width="6" height="128" fill="#303030"/><rect x="158" y="122" width="25" height="140" fill="url(#p2g6)"/><g filter="url(#b2)"><ellipse cx="165.5" cy="176" rx="5" ry="52" fill="#878787"/><ellipse cx="165.5" cy="180" rx="3" ry="40" fill="#939393" opacity="0.90"/><ellipse cx="165.5" cy="176" rx="3" ry="8" fill="#a9a9a9"/><ellipse cx="176" cy="175" rx="5" ry="45" fill="#7c7c7c" opacity="0.60"/></g></g><g clip-path="url(#p2c7)"><rect x="348" y="45" width="4" height="311" fill="url(#p2g8)"/><rect x="352" y="45" width="20" height="307" fill="url(#p2g9)"/><rect x="376" y="45" width="20" height="307" fill="url(#p2g10)"/><g filter="url(#b2)"><ellipse cx="362" cy="172" rx="7" ry="45" fill="#9c9c9c"/><ellipse cx="362" cy="172" rx="4" ry="25" fill="#afafaf"/><ellipse cx="362" cy="205" rx="4" ry="25" fill="#a3a3a3"/><ellipse cx="364" cy="312" rx="9" ry="12" fill="#9c9c9c"/><ellipse cx="378" cy="175" rx="4" ry="40" fill="#7c7c7c"/></g><g clip-path="url(#p2c11)"><g filter="url(#b1)"><rect x="361" y="45" width="2.3" height="77" fill="#b6b6b6" opacity="0.83"/><rect x="355.7" y="45" width="2.3" height="77" fill="#a9a9a9" opacity="0.72"/><rect x="353.8" y="45" width="2.7" height="77" fill="#c5c5c5" opacity="0.99"/><rect x="365.1" y="45" width="2.4" height="77" fill="#b7b7b7" opacity="0.62"/><rect x="355.8" y="45" width="1.9" height="77" fill="#b4b4b4" opacity="0.94"/><rect x="362.4" y="45" width="2.5" height="77" fill="#b4b4b4" opacity="0.71"/><rect x="372" y="45" width="0" height="77" fill="#b0b0b0" opacity="0.69"/><rect x="361.5" y="45" width="3.3" height="23.6" fill="#4d4d4d" opacity="0.81"/><rect x="357.5" y="45" width="3.6" height="19" fill="#5b5b5b" opacity="0.90"/><rect x="354.9" y="45" width="2.9" height="15.9" fill="#4e4e4e" opacity="0.95"/><rect x="353.5" y="45" width="3.4" height="21" fill="#626262" opacity="0.71"/><rect x="381.2" y="45" width="2.5" height="55.8" fill="#a0a0a0" opacity="0.69"/><rect x="378.9" y="45" width="1.8" height="73.7" fill="#adadad" opacity="0.69"/><rect x="381.9" y="45" width="2.1" height="61.8" fill="#9a9a9a" opacity="0.71"/><rect x="378.9" y="45" width="2.8" height="56.8" fill="#b9b9b9" opacity="0.90"/><rect x="395" y="45" width="1" height="55.8" fill="#acacac" opacity="0.90"/><rect x="378.1" y="45" width="3.4" height="17.4" fill="#4d4d4d" opacity="0.70"/><rect x="390.7" y="45" width="3.3" height="27.6" fill="#505050" opacity="0.91"/><rect x="378.4" y="45" width="2.4" height="40.7" fill="#4d4d4d" opacity="0.92"/><rect x="388.6" y="45" width="2.3" height="28.4" fill="#4a4a4a" opacity="0.86"/><rect x="378.5" y="45" width="2.7" height="46.8" fill="#5f5f5f" opacity="0.76"/><rect x="352" y="91" width="44" height="4" fill="#b9b9b9" opacity="0.85"/><rect x="352" y="84" width="44" height="3" fill="#a6a6a6" opacity="0.60"/><rect x="352" y="101" width="44" height="2" fill="#9f9f9f" opacity="0.50"/></g></g><g filter="url(#b2)"><ellipse cx="366" cy="341" rx="22" ry="7" fill="#acacac"/><ellipse cx="364" cy="341" rx="12" ry="4" fill="#bfbfbf"/><ellipse cx="392" cy="341" rx="8" ry="5" fill="#8c8c8c" opacity="0.80"/></g></g><g clip-path="url(#p2c12)"><g filter="url(#b3)"><rect x="395" y="45" width="18" height="177" fill="#303030"/><rect x="418" y="100" width="44" height="40" fill="#2d2d2d"/><rect x="450" y="100" width="12" height="125" fill="#292929"/><rect x="395" y="66" width="16" height="42" fill="#464646"/></g><g filter="url(#b12)"><polygon points="360,213 420,213 445,220 462,230 472,258 474,360 360,360" fill="#5e5e5e"/></g><g filter="url(#b8)"><ellipse cx="396" cy="295" rx="16" ry="45" fill="#707070" opacity="0.70"/><polygon points="462,240 545,258 545,336 462,336" fill="#494949" opacity="0.90"/><polygon points="494,246 506,246 520,266 536,266 536,315 494,315" fill="#535353"/><ellipse cx="462" cy="300" rx="14" ry="30" fill="#505050" opacity="0.80"/></g><g filter="url(#b4)"><polygon points="480,225 494,225 496,300 500,340 474,340 472,290 477,260" fill="#131313"/><ellipse cx="508" cy="308" rx="13" ry="9" fill="#636363"/><rect x="523" y="45" width="6" height="247" fill="#060606"/></g><g filter="url(#b4)"><ellipse cx="422" cy="317" rx="5" ry="8" fill="#464646" opacity="0.80"/><polygon points="455,332 500,333 500,356 455,356" fill="#0d0d0d"/><polygon points="395,343 460,339 460,353 395,355" fill="#2d2d2d"/></g><rect x="420" y="45" width="39" height="73" fill="url(#p2g13)"/><g clip-path="url(#p2c14)"><g filter="url(#b1)"><rect x="420" y="45" width="8" height="67" fill="#9f9f9f" opacity="0.80"/><rect x="427" y="45" width="1.5" height="67" fill="#c6c6c6"/><rect x="440.9" y="46" width="3.1" height="12.2" fill="#c1c1c1" opacity="0.91"/><rect x="440.7" y="46" width="2.7" height="12" fill="#bdbdbd" opacity="0.89"/><rect x="449.7" y="46" width="2.3" height="11.9" fill="#c4c4c4" opacity="0.74"/><rect x="446" y="46" width="2.6" height="4.2" fill="#c2c2c2" opacity="0.99"/><rect x="453.2" y="46" width="1.2" height="38" fill="#858585" opacity="0.87"/><rect x="438.9" y="46" width="1.5" height="38" fill="#929292" opacity="0.65"/><rect x="433.1" y="46" width="1.5" height="38" fill="#828282" opacity="0.78"/><rect x="434" y="46" width="1.2" height="38" fill="#878787" opacity="0.79"/><rect x="430" y="89" width="29" height="3.5" fill="#acacac" opacity="0.80"/><rect x="430" y="99" width="25" height="1.5" fill="#868686"/><rect x="430" y="106" width="25" height="1.5" fill="#808080"/><rect x="452" y="45" width="7" height="65" fill="#666666" opacity="0.60"/><rect x="456" y="45" width="1" height="50" fill="#0d0d0d"/><rect x="458.5" y="45" width="1.5" height="50" fill="#0d0d0d"/></g></g><rect x="410" y="45" width="9" height="170" fill="#060606"/><rect x="493" y="45" width="12" height="300" fill="url(#p2g15)"/><rect x="483" y="45" width="9.5" height="285" fill="#060606"/><rect x="529" y="45" width="11" height="240" fill="url(#p2g16)"/><g clip-path="url(#p2c17)"><g filter="url(#b1)"><rect x="524" y="54.9" width="16" height="2.5" fill="#2c2c2c" opacity="0.92"/><rect x="524" y="89.6" width="16" height="2.3" fill="#202020" opacity="0.75"/><rect x="524" y="77.6" width="16" height="1.6" fill="#2d2d2d" opacity="0.62"/><rect x="524" y="99.9" width="16" height="0.1" fill="#222222" opacity="0.73"/><rect x="524" y="72.9" width="16" height="1.7" fill="#292929" opacity="0.93"/><rect x="524" y="52.7" width="16" height="2.9" fill="#343434" opacity="0.79"/><rect x="524" y="56.1" width="16" height="1.6" fill="#4d4d4d" opacity="0.68"/><rect x="524" y="98.3" width="16" height="1.7" fill="#414141" opacity="0.89"/><rect x="524" y="52.6" width="16" height="2.2" fill="#555555" opacity="0.96"/><rect x="524" y="68.1" width="16" height="2" fill="#595959" opacity="0.75"/></g></g></g><g clip-path="url(#p2c18)"><rect x="528" y="45" width="13" height="307" fill="url(#p2g19)"/><g filter="url(#b4)"><rect x="538" y="45" width="152" height="307" fill="url(#p2g20)"/><rect x="652" y="100" width="31" height="230" fill="url(#p2g21)"/><rect x="536" y="105" width="16" height="225" fill="url(#p2g22)"/><ellipse cx="590" cy="59" rx="26" ry="5" fill="#393939"/><ellipse cx="552" cy="57" rx="12" ry="4" fill="#404040"/><ellipse cx="560" cy="68" rx="8" ry="3" fill="#464646" opacity="0.70"/><rect x="570" y="91.5" width="30" height="3.5" fill="#404040"/><ellipse cx="548" cy="110" rx="8" ry="5" fill="#404040"/></g><g filter="url(#b3)"><ellipse cx="556" cy="182" rx="4.5" ry="42" fill="#898989" opacity="0.90"/><ellipse cx="556" cy="258" rx="5" ry="40" fill="#636363" opacity="0.70"/><ellipse cx="556" cy="177" rx="4.5" ry="7" fill="#999999"/><ellipse cx="567" cy="182" rx="4.5" ry="42" fill="#898989" opacity="0.90"/><ellipse cx="567" cy="258" rx="5" ry="40" fill="#636363" opacity="0.70"/><ellipse cx="567" cy="177" rx="4.5" ry="7" fill="#9c9c9c"/><ellipse cx="578" cy="182" rx="4.5" ry="42" fill="#898989" opacity="0.90"/><ellipse cx="578" cy="258" rx="5" ry="40" fill="#636363" opacity="0.70"/><ellipse cx="578" cy="177" rx="4.5" ry="7" fill="#9c9c9c"/><ellipse cx="592" cy="182" rx="4.5" ry="42" fill="#898989" opacity="0.90"/><ellipse cx="592" cy="258" rx="5" ry="40" fill="#636363" opacity="0.70"/><ellipse cx="592" cy="177" rx="4.5" ry="7" fill="#999999"/><ellipse cx="627" cy="182" rx="4.5" ry="42" fill="#898989" opacity="0.90"/><ellipse cx="627" cy="258" rx="5" ry="40" fill="#636363" opacity="0.70"/><ellipse cx="627" cy="177" rx="4.5" ry="7" fill="#9c9c9c"/><ellipse cx="606" cy="182" rx="4.5" ry="42" fill="#898989" opacity="0.45"/><ellipse cx="606" cy="258" rx="5" ry="40" fill="#636363" opacity="0.35"/><ellipse cx="648" cy="182" rx="4.5" ry="42" fill="#898989" opacity="0.54"/><ellipse cx="648" cy="258" rx="5" ry="40" fill="#636363" opacity="0.42"/><ellipse cx="600" cy="177" rx="30" ry="4" fill="#8c8c8c" opacity="0.50"/><ellipse cx="608" cy="272" rx="7" ry="24" fill="#404040"/><ellipse cx="585" cy="274" rx="5" ry="20" fill="#464646" opacity="0.80"/><ellipse cx="573" cy="272" rx="3" ry="18" fill="#464646" opacity="0.60"/><ellipse cx="640" cy="278" rx="8" ry="14" fill="#464646" opacity="0.60"/></g><g clip-path="url(#p2c23)"><g filter="url(#b1)"><rect x="625" y="46" width="47" height="11" fill="#838383"/><rect x="623.3" y="50.6" width="48.7" height="1.4" fill="#979797" opacity="0.91"/><rect x="627.9" y="52.6" width="44.1" height="1.5" fill="#9b9b9b" opacity="0.90"/><rect x="623.2" y="56.1" width="48.8" height="1.6" fill="#9a9a9a" opacity="0.75"/><rect x="622.5" y="53.9" width="49.5" height="1.7" fill="#8d8d8d" opacity="0.96"/><rect x="617" y="80.5" width="55" height="1.5" fill="#a6a6a6" opacity="0.90"/><rect x="607" y="86.5" width="55" height="1.5" fill="#9f9f9f" opacity="0.80"/><rect x="606" y="92.5" width="75" height="3" fill="#c6c6c6"/><rect x="606" y="95.5" width="34" height="1.5" fill="#8c8c8c"/><rect x="620" y="99.5" width="48" height="1.5" fill="#acacac" opacity="0.90"/><rect x="625" y="104.5" width="40" height="1.5" fill="#b2b2b2" opacity="0.90"/><rect x="622" y="107.5" width="38" height="1.2" fill="#a6a6a6" opacity="0.80"/><rect x="623" y="110" width="44" height="5" fill="#c6c6c6"/><rect x="612" y="111" width="11" height="3" fill="#999999" opacity="0.80"/></g></g><g clip-path="url(#p2c24)"><g filter="url(#b1)"><rect x="544.3" y="64.2" width="81.8" height="2.1" fill="#7e7e7e" opacity="0.72"/><rect x="540.6" y="87.4" width="86.5" height="1.8" fill="#707070" opacity="0.74"/><rect x="553" y="92.6" width="81.7" height="2.2" fill="#868686" opacity="0.73"/><rect x="555.4" y="83" width="69.7" height="1.3" fill="#828282" opacity="0.64"/><rect x="551.3" y="90.4" width="87.2" height="1.9" fill="#626262" opacity="0.78"/><rect x="566.7" y="109" width="57.7" height="1.6" fill="#646464" opacity="0.74"/><rect x="560.4" y="94.7" width="76.8" height="2.4" fill="#7b7b7b" opacity="0.71"/><rect x="555.9" y="112.3" width="63.1" height="1.6" fill="#676767" opacity="0.74"/><rect x="557.7" y="105.7" width="71.2" height="1.3" fill="#686868" opacity="0.64"/><rect x="543.4" y="116.3" width="81.8" height="1.7" fill="#828282" opacity="0.78"/><rect x="569" y="102" width="52.9" height="1.3" fill="#636363" opacity="0.45"/><rect x="544.6" y="66.8" width="71.2" height="2.1" fill="#646464" opacity="0.61"/><rect x="540.1" y="86.8" width="72.8" height="1.2" fill="#8b8b8b" opacity="0.45"/><rect x="567.1" y="103.1" width="46.3" height="2.5" fill="#6f6f6f" opacity="0.69"/></g></g><g filter="url(#b4)"><ellipse cx="560" cy="285" rx="24" ry="28" fill="#636363" opacity="0.80"/><polyline points="546,290 551,307 566,321 586,325 606,317 616,298" fill="none" stroke="#303030" stroke-width="9" stroke-linecap="round" stroke-linejoin="round"/><ellipse cx="602" cy="272" rx="8" ry="36" fill="#3d3d3d" opacity="0.90"/><polyline points="533,268 536,292 544,314 558,328 580,335" fill="none" stroke="#737373" stroke-width="8" stroke-linecap="round" stroke-linejoin="round"/><ellipse cx="542" cy="310" rx="6" ry="13" fill="#838383"/><ellipse cx="592" cy="297" rx="5" ry="4" fill="#595959"/><ellipse cx="672" cy="308" rx="12" ry="7" fill="#505050"/><ellipse cx="640" cy="300" rx="14" ry="8" fill="#494949" opacity="0.70"/><polygon points="612,322 690,320 690,352 612,352" fill="#0d0d0d"/></g></g><g clip-path="url(#p2c25)"><g filter="url(#b3)"><rect x="681" y="45" width="21" height="205" fill="#303030"/><rect x="681" y="250" width="16" height="72" fill="#404040"/><ellipse cx="697" cy="296" rx="12" ry="24" fill="#404040"/><ellipse cx="715" cy="293" rx="7" ry="6" fill="#4c4c4c"/></g><g filter="url(#b1)"><rect x="685" y="48" width="7" height="77" fill="url(#p2g26)"/><rect x="684" y="63.6" width="9" height="2.3" fill="#393939" opacity="0.72"/><rect x="684" y="107.3" width="9" height="2.1" fill="#545454" opacity="0.75"/><rect x="684" y="85.5" width="9" height="2" fill="#787878" opacity="0.84"/><rect x="684" y="49.8" width="9" height="1.9" fill="#353535" opacity="0.75"/><rect x="684" y="71.5" width="9" height="2.7" fill="#363636" opacity="0.80"/><rect x="684" y="76" width="9" height="2.8" fill="#787878" opacity="0.83"/><rect x="684" y="100.9" width="9" height="2.7" fill="#787878" opacity="0.69"/><rect x="684" y="49" width="9" height="2.2" fill="#767676" opacity="0.54"/><rect x="684" y="105.9" width="9" height="2.3" fill="#4c4c4c" opacity="0.55"/><rect x="684" y="96.8" width="9" height="2.5" fill="#676767" opacity="0.90"/><rect x="684" y="107.6" width="9" height="2.5" fill="#6a6a6a" opacity="0.87"/><rect x="684" y="101.2" width="9" height="2.8" fill="#2d2d2d" opacity="0.73"/></g><g filter="url(#b4)"><ellipse cx="762" cy="165" rx="17" ry="52" fill="#2b2b2b"/><ellipse cx="762" cy="137" rx="16" ry="9" fill="#3b3b3b"/><ellipse cx="775" cy="336" rx="30" ry="4" fill="#333333"/><ellipse cx="786" cy="336" rx="15" ry="3.5" fill="#3d3d3d"/><ellipse cx="738" cy="351" rx="13" ry="3" fill="#333333"/></g><g filter="url(#b2)"><ellipse cx="834" cy="341" rx="14" ry="10" fill="#494949"/><ellipse cx="838" cy="338" rx="8" ry="7" fill="#565656"/><ellipse cx="820" cy="347" rx="10" ry="6" fill="#393939"/><ellipse cx="823" cy="283" rx="3" ry="4" fill="#2d2d2d"/><ellipse cx="836" cy="290" rx="4" ry="6" fill="#2d2d2d"/></g><g filter="url(#b1)"><rect x="748" y="48" width="12" height="10" fill="#404040" opacity="0.85"/><rect x="748" y="60" width="12" height="5" fill="#535353" opacity="0.85"/><rect x="748" y="72" width="12" height="10" fill="#464646" opacity="0.85"/><rect x="748" y="83" width="12" height="9" fill="#4c4c4c" opacity="0.85"/><rect x="772" y="55" width="8" height="35" fill="#333333" opacity="0.85"/><rect x="785" y="48" width="10" height="47" fill="#4c4c4c" opacity="0.85"/><rect x="785" y="76" width="11" height="2.5" fill="#737373" opacity="0.85"/><rect x="772" y="76.5" width="28" height="1.5" fill="#4c4c4c" opacity="0.85"/><rect x="822" y="48" width="13" height="24" fill="#333333" opacity="0.85"/><rect x="748" y="96" width="9" height="6" fill="#333333" opacity="0.85"/></g><rect x="716.9" y="50" width="1.2" height="60" fill="#666666" opacity="0.75"/><rect x="722.9" y="80" width="1.2" height="120" fill="#535353" opacity="0.75"/><rect x="725.7" y="80" width="1.2" height="85" fill="#464646" opacity="0.75"/><rect x="791.7" y="95" width="1.2" height="145" fill="#6c6c6c" opacity="0.75"/><rect x="799.8" y="115" width="1.2" height="70" fill="#4c4c4c" opacity="0.75"/><rect x="815.9" y="115" width="1.2" height="75" fill="#464646" opacity="0.75"/><rect x="822.9" y="48" width="1.2" height="152" fill="#595959" opacity="0.75"/><rect x="825.9" y="48" width="1.2" height="152" fill="#606060" opacity="0.75"/><rect x="768.4" y="85" width="1.2" height="85" fill="#464646" opacity="0.75"/><rect x="678.6" y="48" width="1.2" height="192" fill="#666666" opacity="0.75"/></g><g clip-path="url(#p2c27)"><g filter="url(#b4)"><ellipse cx="556" cy="348" rx="60" ry="11" fill="#696969"/><ellipse cx="508" cy="346" rx="12" ry="7" fill="#595959" opacity="0.90"/></g><g filter="url(#b3)"><ellipse cx="532" cy="346" rx="18" ry="9" fill="#737373"/><ellipse cx="584" cy="343" rx="20" ry="10" fill="#797979"/></g><g filter="url(#b2)"><ellipse cx="532" cy="345.5" rx="9" ry="4" fill="#a3a3a3"/><ellipse cx="583" cy="342" rx="10" ry="5.5" fill="#afafaf"/><ellipse cx="583.5" cy="342" rx="7" ry="4" fill="#cccccc"/></g></g><g clip-path="url(#p2c28)"><rect x="117" y="352" width="729" height="162" fill="#000000"/><g filter="url(#b28)"><rect x="117" y="425" width="66" height="89" fill="url(#p2g29)"/><rect x="352" y="425" width="296" height="89" fill="url(#p2g30)"/><rect x="590" y="440" width="60" height="74" fill="url(#p2g31)"/><rect x="648" y="352" width="64" height="162" fill="url(#p2g32)"/><rect x="712" y="385" width="134" height="129" fill="url(#p2g33)"/><rect x="740" y="430" width="60" height="84" fill="url(#p2g34)"/></g><g filter="url(#b14)"><rect x="152.5" y="365" width="4.5" height="149" fill="url(#p2g35)"/><rect x="157" y="365" width="3" height="149" fill="url(#p2g36)"/><rect x="160" y="365" width="3" height="149" fill="url(#p2g37)"/><rect x="160" y="350" width="23" height="22" fill="url(#p2g38)"/><rect x="176" y="355" width="2" height="85" fill="url(#p2g39)"/><rect x="179.5" y="355" width="1.5" height="75" fill="url(#p2g40)"/><rect x="121" y="353" width="11" height="4" fill="#333333"/><rect x="348" y="352" width="4" height="162" fill="url(#p2g41)"/><rect x="352" y="352" width="20" height="162" fill="url(#p2g42)"/><rect x="354" y="362" width="5.5" height="152" fill="url(#p2g43)"/><rect x="364" y="370" width="2" height="144" fill="url(#p2g44)"/><rect x="376" y="353" width="20" height="161" fill="url(#p2g45)"/><rect x="388.5" y="365" width="3" height="55" fill="url(#p2g46)"/><rect x="396" y="353" width="24" height="161" fill="url(#p2g47)"/><rect x="415" y="352" width="1.2" height="14" fill="#808080"/><rect x="420" y="353" width="28" height="161" fill="url(#p2g48)"/><rect x="423.5" y="380" width="3.5" height="60" fill="url(#p2g49)"/><rect x="431" y="368" width="7" height="74" fill="url(#p2g50)"/><rect x="428.5" y="380" width="1.5" height="134" fill="#535353" opacity="0.80"/><rect x="441" y="400" width="1.5" height="114" fill="#535353" opacity="0.70"/><rect x="451" y="353" width="19" height="161" fill="url(#p2g51)"/><rect x="462" y="380" width="1.5" height="134" fill="#2d2d2d"/><rect x="493" y="352" width="3" height="162" fill="url(#p2g52)"/><rect x="496" y="352" width="7.5" height="162" fill="url(#p2g53)"/><rect x="497" y="378" width="2.5" height="57" fill="url(#p2g54)"/><rect x="503.5" y="352" width="2" height="162" fill="url(#p2g55)"/><rect x="530" y="387" width="36" height="127" fill="url(#p2g56)"/><rect x="530.4" y="403.8" width="1.1" height="110.2" fill="#4f4f4f" opacity="0.64"/><rect x="538.3" y="396.4" width="1.6" height="117.6" fill="#595959" opacity="0.65"/><rect x="549.3" y="404.4" width="1.4" height="109.6" fill="#4e4e4e" opacity="0.61"/><rect x="563.8" y="398" width="1.3" height="116" fill="#535353" opacity="0.98"/><rect x="537.6" y="409.5" width="1.2" height="104.5" fill="#5f5f5f" opacity="0.94"/><rect x="542.8" y="417.1" width="1.2" height="96.9" fill="#4d4d4d" opacity="0.89"/><rect x="561.3" y="398.6" width="1.5" height="115.4" fill="#5a5a5a" opacity="0.68"/><rect x="553.1" y="393.2" width="1.2" height="120.8" fill="#535353" opacity="0.76"/><rect x="520" y="352" width="145" height="43" fill="url(#p2g57)"/><rect x="560" y="352" width="80" height="28" fill="url(#p2g58)"/><rect x="610" y="374" width="62" height="96" fill="url(#p2g59)"/><rect x="622" y="378" width="12" height="74" fill="url(#p2g60)"/><rect x="685" y="375" width="8" height="65" fill="#393939"/></g><rect x="449" y="352" width="2" height="73" fill="#cccccc"/><g filter="url(#by4)"><rect x="481" y="352" width="1.3" height="73" fill="#8c8c8c"/><rect x="481" y="358" width="1.3" height="52" fill="#b2b2b2"/><rect x="509.6" y="360" width="1" height="40" fill="#797979"/><rect x="559.5" y="375" width="1" height="27" fill="#797979"/><rect x="644.4" y="373" width="1.2" height="44" fill="#b2b2b2"/><rect x="656.4" y="372" width="1.3" height="48" fill="#b9b9b9"/><rect x="679.7" y="352" width="1.2" height="68" fill="#808080"/><rect x="721.1" y="352" width="1.3" height="80" fill="#808080"/><rect x="721.1" y="372" width="1.3" height="38" fill="#b2b2b2"/><rect x="755.4" y="352" width="1.2" height="43" fill="#797979"/><rect x="814.8" y="365" width="1.2" height="35" fill="#606060"/><rect x="834.7" y="352" width="1.6" height="88" fill="#868686"/><rect x="834.7" y="365" width="1.6" height="60" fill="#b9b9b9"/></g></g><g filter="url(#by4)"><rect x="679.7" y="322" width="1.2" height="30" fill="#737373"/><rect x="721.1" y="346" width="1.3" height="6" fill="#606060"/><rect x="834.7" y="346" width="1.6" height="6" fill="#797979"/><rect x="481" y="347" width="1.3" height="5" fill="#737373"/><rect x="449.1" y="345" width="1.5" height="7" fill="#808080"/></g></g><path d="M183,45H356V112L353,119L349,130L348,140V514H183Z" fill="#7f0000"/><rect x="351.2" y="118" width="1" height="396" fill="#7f0000"/><rect x="372.2" y="45" width="3.7" height="469" fill="#7f0000"/><polyline points="850,47.2 677.7,46.9 678.5,47.6 672.2,47.3 674.6,48.2 672.2,48.2 670.3,48.8 668.5,48.8 666.1,49.3 666.1,50.1 663.3,50.1 664,50.6 659.8,50.9 656,51.2 656.6,51.9 654.6,52.9 653.7,53.1 650.6,53.2 649.4,53.8 648.8,54.9 648,54.8 647.5,55.8 645.1,56.4 643.6,56.8 639.9,57.4 641.4,57.2 637.4,58 640.4,58.5 640.6,58.7 642.4,59.4 644.1,59.7 645.1,60.1 649.6,60.1 649.5,60.8 652,60.9 651.1,61.1 655.3,61.3 658,61.8 657.6,62.3 661.4,62.4 663.3,62.9 662.6,63 665,63.3 664.9,63.2 667.6,64 669.9,63.5 672.6,64.3 674.7,64.1 675.5,64.2 676.7,64.6 676.1,65.3 679.2,65.2 675.4,65.9 677.6,66.4 672.5,67.7 671.8,68.3 670.5,68.8 669.2,69.9 671,71.4 671.6,72.9 674.9,73.8 674.1,74.3 675.8,74.2 681.6,74.4 680,75.2 682.7,74.9 687.5,75.3 684.2,75.8 688.9,76.4 688,76.4 689.2,76.8 694.7,77.3 695,77.4 695.4,77.9 693.5,78.2 689.8,78.1 689.1,78.5 684.6,78.9 686.9,78.9 683.7,79.4 681.7,79.5 682.3,79.9 678.8,80.3 674.1,80.7 674.9,81 671.4,81 669.2,81.4 667.9,82.1 668.5,82.7 669.1,83 663.8,82.9 662.3,83.3 662.6,83.8 661.4,83.7 658.3,84.2 654.5,84.1 655,84.5 655,84.9 650.2,85.2 649.2,85.6 649,86.1 647.5,86.4 644.7,86.8 642.6,87.3 644.9,87.4 640.5,87.5 639.6,87.5 637.1,88.1 634.3,88.1 635.9,88.6 632.8,89.3 631.6,89.1 631.9,89.4 625.3,90 624.1,90 624.5,90.4 627.7,91.3 624.8,91.8 628.3,92.5 628.7,93.3 629.5,93.8 633.1,94.7 630.8,95.5 627.5,95.9 626.5,96.2 625.8,96.6 626,97 623,97.6 622.6,97.5 624,98.2 628.5,98.4 630.4,97.8 631.8,98.6 633.8,98.5 633.5,98.7 637.4,98.7 637.4,99 635.8,99.3 636.4,99.9 634.5,100.3 629.5,100.1 628.8,100.4 626.8,101.1 627.7,101.4 625.5,101.3 621.4,102.3 618.6,102.2 618.7,102.6 615,103.4 617.9,105.2 615.2,105.6 613,107 613.5,107.1 617,107.8 617.4,108.1 617.3,108.4 623.2,109 620.4,109.1 625.2,109.3 627.7,109.8 628.3,110.1 628.8,110.5 633,111.1 632.4,110.9 633.4,111.1 635.8,112.2 635.3,112.2 638.5,112.5 641.3,113.2 642.9,113.2 645.9,113.4 646.4,114 648.1,114.5 647,114.7 649.5,115.1 654.1,115.4 653.3,115.6 649.1,116.1 651.1,116.9 649.2,117.4 644.2,118 646.3,118.3 645.6,119 641.8,119.2 641.3,120 646.3,120 647.8,120.8 646.5,121.4 647.8,121.8 650.9,122 653.2,122.7 652.9,123.6 653.8,123.3 657.6,124.2 659.2,125.1 661.8,125.6 662.6,126.1 663.5,126.4 666,126.8 667.7,127.8 664.1,129.1 663.1,130.2 664.8,130.9 661.9,132.1 664.4,132.7 667,132.6 664.9,133.2 668.1,133.5 667.4,134.1 673.9,134.4 673.3,134.8 674.4,135.6 676.3,135.7 673.7,136.4 672.9,137 673.5,137.2 671.4,138.1 668.8,139.1 667.2,139.4 664.8,140.1 664.9,140.1 662.1,140.7 659.9,141.5 659.6,141.6 655.4,141.7 654.5,142 651.9,143 649.3,143.2 649,143.2 647,143.3 646.1,143.8 644.6,144.4 645.7,145 649.6,146.2 648.6,146.7 652.6,147.1 649.8,147.8 653.3,148.7 649.9,149.4 649.2,149.7 649.6,150.2 647.9,151.1 644.6,151.6 645.8,152.2 647.2,152.6 651.9,152.6 652.4,153.3 654.4,153.4 656.7,153.9 657.8,154.3 657.1,154.3 660.8,154.4 661.1,154.6 663.3,155.2 664.2,155.9 660.3,157.2 657.3,158.1 655.6,158.3 656.1,159.5 656.8,160.4 661.2,161.7 661.8,162.3 662.1,163.2 665.1,164.2 664.8,165.3 665.1,166.7 665.8,167.7 671.3,168.7 670.5,170.3 667,170.7 665.9,171.5 664.3,172 662.6,172.5 662.9,173.2 660,174.2 659,174.6 655.6,175.6 658.7,177 657.2,178.1 654.7,179.6 656.3,181 656.8,182 659.6,182.8 660.5,184 664.8,184.5 663.8,185.3 664.7,186 667.9,186.4 669.1,186.9 670.8,189 672,190.4 676.2,190.9 675,190.7 677,190.6 676.4,191.5 678.1,191.7 682.6,191.9 681.1,191.6 684.9,191.9 688.2,192.2 686.5,193.2 688.6,193.8 692.1,194.8 691.3,195.1 691.2,196.1 684.7,196.9 684,197.2 684,197.5 682,198.4 683.7,198.2 683.8,199.1 688.6,199 689.6,199.5 688.4,199.4 690,199.3 693.6,199.8 690.1,200.4 688.4,201.2 688.6,202.4 689.7,203.4 687.5,203.9 687.1,204.5 683.5,205.6 684,207 686.7,207.6 687.5,208.9 689.1,210.1 690.7,211.3 689,212.5 688.6,213.3 686.3,214 685.6,215.6 682.9,216.3 682.1,217.1 683.7,218.7 683.3,220 684.8,221.2 686.9,223 687.8,224.3 687.2,225.9 686.4,227.1 683.9,228.8 684.8,230.3 683.3,231.1 682.1,232.9 682.8,233.6 685.3,234.9 685.6,236.2 689,237.1 689.2,237.6 690.7,238.7 688.6,240.1 688.3,240.8 687.3,242.2 684.7,243.2 683.5,244.4 683.6,246 683.1,247.4 682.7,249.2 682.8,250.8 681,252.7 680.8,254.4 680.6,256 680.5,256.9 679,258.4 677.9,259.4 675.9,260.4 674.9,261.7 676.3,262.8 677,264.2 678.4,265.5 680.6,266.8 680.3,268.3 678.9,270.2 679.2,271.8 681.5,272.4 682.4,273.6 684.4,274.5 684.5,275 686.4,276.1 688.2,277.2 687.3,278.9 688.8,279.6 690.1,280.8 692.1,282.1 692.4,283.4 693.6,284.7 695.8,285.5 696.7,286.7 697.1,288.3 699.1,289 700.8,290.5 701.7,292.4 702.6,293.7 703.7,295.6 702.8,296.7 705.5,298.8 705.1,300 704.4,301.9 706,303.6 705.1,305.3 705.9,307.1 705.1,308.6 704.9,310.7 705.4,312.5 706.3,314.1 706.9,315.9 707,317.2 704.7,318.6 703,319.9 702.7,321.8 701.6,322.9 701.8,325 704.4,326.1 705.1,328.2 704,328.5 702,328.7 700.4,329.4 699.5,329.8 697.8,330.3 695,330.2 694.1,330.6 691.7,331.2 691,331.7 691.7,333.3 692.6,335.1 692.8,336.3 690.8,336.7 689,337.1 687.5,337 685.6,337.8 684,338.4 682.2,338.2 680.5,338.7 679.2,339 677,339.4 675.6,339.7 674.2,339.9 672.8,339.8 671.2,339.7 669.2,340.6 667.4,340.7 666.4,340.9 664.8,340.6 662.9,341.2 661.3,341.4 659.5,341.4 658.1,341.3 656,341.8 655,342.1 653.1,341.8 651.6,341.7 649.5,342.4 648.3,342.2 646.7,342.1 644.8,342.2 642.9,342.4 641.1,342.7 639.8,342.8 638.2,342.7 636.5,343.2 634.8,343.3 633.1,343.8 631.3,343.5 629.8,343.6 628.6,343.9 626.6,344 624.9,344.5 623.5,344.4 621.4,344.5 619.7,344.4 618,344.9 617.1,345 615.1,344.8 613.4,345.1 611.7,345.1 610,345.6 608.8,345.8 606.9,345.3 605.1,346.1 603.9,346 602,346.2 600.1,346.4 598.6,346.7 597,346.7 595.4,346.7 593.7,347.2 592.3,346.9 590.4,347.4 589,347.3 587.5,347.1 585.5,347.5 584,347.8 582.3,348.2 581,347.9 579.2,348.4 577.6,348.2 576.1,348.4 574.1,348.8 572.8,348.7 571.1,349.4 569.7,349.1 568.2,349.4 566.2,349.6 564.9,349.9 563.2,349.9 561.4,349.6 559.9,349.8 558.6,350.2 556.8,350.6 554.9,350.9 553.4,350.4 552,350.9 550.3,351.1 549,351.3 546.9,351.2 545.2,351.9 544.1,351.8 542.3,352.4 541.1,353 539.5,353 537.7,353 536.2,353.2 534.4,354 533,354.1 531.3,354 529.8,354.5 528,355 526.9,354.7 524.8,355.5 523.6,355.3 521.9,355.6 520.5,356.1 518.7,356.3 516.9,356.6 515.1,357.4 513.3,357.8 511.4,358.8 510.2,359.5 508.1,359.8 507,361.2 505.5,361.9 504.7,363 503.1,364.8 502.1,365.5 501.1,366.9 499.5,367.7 497.7,368.3 496.4,368.6 495.1,368.9 493.9,369.5 492.3,370.6 490.5,371.2 488.7,371.1 487.5,371.6 486.2,372.6 484.7,372.9 482.7,374 481.3,374.2 480,374.8 478.1,375.3 476.6,375.4 474.7,375.9 473.5,376.1 471.5,376.9 470.1,377.4 468.5,377.9 466.4,378.3 464.7,378.1 463.1,379 461.7,379.2 460.1,380.3 458.9,381.1 457.1,381.4 455.8,382.5 453.7,383.1 452,383.5 450.9,384.8 449.5,385.6 447.7,386.2 446.6,388.2 446.3,389.9 445.1,391.4 444.2,393.3 444.6,394.9 446,396 446.7,398.1 447.1,399.6 447.7,400.6 448.7,402.6 449.4,403.8 450.8,404.4 452.4,405.8 453.7,406.5 454.8,407.4 456,408.6 457.5,409.8 459.2,410.5 460.6,411.7 461.7,412.6 463.1,413.2 465.1,414.3 466,415.2 467.7,415.8 469.5,416.4 470.7,417.5 472.7,417.9 474.1,419.2 475.2,420 477,420.9 478.5,421.3 480,422.3 481.4,422.9 482.8,423.8 483.9,424.5 485.5,425.4 487,426.4 488.2,427.1 489.7,427.6 490.9,429 492.9,429.7 494,430.2 495,431 496.3,432.3 497.8,433.2 499,434.8 500.6,435.5 501.3,437.1 502.8,437.9 503.9,439 505.3,440.1 506.5,441.4 508,442.5 509.8,442.8 511.2,443.5 513.1,444.2 514.8,444.2 516.3,444.7 517.7,445.4 519.3,445.7 520.6,446 522.8,447.1 524.1,447 525.7,447.8 527.2,448.8 528.2,449.9 529.2,450.6 530.9,452 532.3,452.8 533.6,454.2 534.5,455.2 535.5,455.5 537.2,456.6 538.3,458.1 539.7,458.7 541,459.5 542.1,461.2 543.3,461.9 544.1,463.2 545.3,465.1 546,466.7 546.9,467.9 547.6,469.3 548,470.6 548.8,471.9 549.9,473.7 550.9,474.9 551.7,476.5 552.1,478.1 553.4,479.8 553.9,481.2 554.9,482.4 555.7,483.9 557.4,485.4 558.2,487.1 558.8,488.1 560.1,489.4 561.2,491.2 562,492.6 563.2,494 564.4,495.3 565.3,496.7 566.7,497.9 568.2,498.9 568.8,499.9 570.6,501.3 571.6,502.3 572.9,503.8 573.9,504.8 574.7,505.5 575.9,507.2 577.5,508.4 578.8,509 579.3,510.4 580.5,511.8 582,512.9 583.6,514.6 584.4,515.8 586,517" fill="none" stroke="#f00" stroke-width="3.1" stroke-linejoin="round"/></g><rect x="891.9" y="45" width="23.45" height="469" fill="url(#cb)"/></g>
<g transform="translate(0,1204)"><g clip-path="url(#cp)"><g filter="url(#jet)"><rect x="117" y="45" width="729" height="469" fill="#000"/><g clip-path="url(#p3c1)"><g filter="url(#b2)"><rect x="117" y="80" width="14" height="32" fill="#333333"/><rect x="117" y="112" width="10" height="103" fill="#2d2d2d"/></g><g filter="url(#b4)"><polygon points="110,205 127,205 133,236 150,250 190,250 190,334 110,338" fill="#3d3d3d"/><polygon points="148,258 190,252 190,328 160,324 150,300 142,280" fill="#606060"/><ellipse cx="172" cy="312" rx="9" ry="10" fill="#6c6c6c"/><ellipse cx="129" cy="300" rx="20" ry="10" fill="#0d0d0d"/></g><g filter="url(#b2)"><polygon points="112,318 135,316 152,310 160,312 150,322 135,330 112,334" fill="#7c7c7c"/><ellipse cx="124" cy="323" rx="6" ry="3" fill="#939393"/><polygon points="112,337 135,334 152,323 170,331 190,335 190,353 112,353" fill="#060606"/></g><rect x="152" y="45" width="11" height="78" fill="url(#p3g2)"/><g clip-path="url(#p3c3)"><g filter="url(#b1)"><rect x="155.1" y="59.4" width="7.4" height="2.8" fill="#b2b2b2" opacity="0.78"/><rect x="152.4" y="95.6" width="10.6" height="2.7" fill="#bfbfbf" opacity="0.77"/><rect x="153.8" y="103.4" width="7.8" height="1.5" fill="#a8a8a8" opacity="0.98"/><rect x="152.1" y="113.1" width="9.8" height="1.5" fill="#c3c3c3" opacity="0.75"/><rect x="152.1" y="65.2" width="10.4" height="2.1" fill="#b0b0b0" opacity="0.80"/><rect x="152.9" y="66.3" width="9.2" height="1.8" fill="#aaaaaa" opacity="0.61"/><rect x="154.6" y="108.6" width="8.1" height="2.3" fill="#c5c5c5" opacity="0.94"/><rect x="154.9" y="58.5" width="6.7" height="2" fill="#c3c3c3" opacity="0.77"/><rect x="153.2" y="108.1" width="8.6" height="2.5" fill="#c1c1c1" opacity="0.94"/><rect x="152.1" y="85.4" width="10.4" height="2.4" fill="#bebebe" opacity="0.77"/><rect x="154.8" y="62.1" width="6.8" height="2.3" fill="#aeaeae" opacity="0.78"/><rect x="154.1" y="85.6" width="8.1" height="2.7" fill="#b2b2b2" opacity="0.61"/><rect x="155.9" y="53" width="5.9" height="2.6" fill="#aeaeae" opacity="0.67"/><rect x="155.1" y="85.2" width="6.8" height="3" fill="#c0c0c0" opacity="0.69"/><rect x="152.1" y="116.9" width="10.5" height="1.9" fill="#6e6e6e" opacity="0.79"/><rect x="153.2" y="96.9" width="7.4" height="1.3" fill="#656565" opacity="0.56"/><rect x="153.4" y="80.1" width="5.6" height="1.4" fill="#717171" opacity="0.72"/><rect x="152.1" y="81.1" width="10.8" height="1.3" fill="#626262" opacity="0.63"/><rect x="153.1" y="76.6" width="7.7" height="1.9" fill="#5a5a5a" opacity="0.51"/><rect x="153" y="72.8" width="6" height="1.1" fill="#686868" opacity="0.57"/><rect x="153.5" y="112.6" width="5.9" height="1.8" fill="#6b6b6b" opacity="0.82"/><rect x="153.9" y="74.8" width="8.4" height="2" fill="#6b6b6b" opacity="0.79"/></g></g><rect x="163" y="45" width="20" height="77" fill="url(#p3g4)"/><g clip-path="url(#p3c5)"><g filter="url(#b1)"><rect x="167.8" y="45" width="2.3" height="25" fill="#252525" opacity="0.72"/><rect x="163.3" y="45" width="2.8" height="25" fill="#2d2d2d" opacity="0.84"/><rect x="179.7" y="45" width="2.2" height="25" fill="#262626" opacity="0.96"/><rect x="173.5" y="45" width="2.6" height="25" fill="#282828" opacity="0.88"/><rect x="169" y="45" width="1.5" height="25" fill="#272727" opacity="0.96"/><rect x="177.3" y="45" width="2.9" height="25" fill="#222222" opacity="0.98"/></g></g><rect x="152" y="122" width="6" height="128" fill="#303030"/><rect x="158" y="122" width="25" height="140" fill="url(#p3g6)"/><g filter="url(#b2)"><ellipse cx="165.5" cy="176" rx="5" ry="52" fill="#878787"/><ellipse cx="165.5" cy="180" rx="3" ry="40" fill="#939393" opacity="0.90"/><ellipse cx="165.5" cy="176" rx="3" ry="8" fill="#a9a9a9"/><ellipse cx="176" cy="175" rx="5" ry="45" fill="#7c7c7c" opacity="0.60"/></g></g><g clip-path="url(#p3c7)"><rect x="348" y="45" width="4" height="311" fill="url(#p3g8)"/><rect x="352" y="45" width="20" height="307" fill="url(#p3g9)"/><rect x="376" y="45" width="20" height="307" fill="url(#p3g10)"/><g filter="url(#b2)"><ellipse cx="362" cy="172" rx="7" ry="45" fill="#9c9c9c"/><ellipse cx="362" cy="172" rx="4" ry="25" fill="#afafaf"/><ellipse cx="362" cy="205" rx="4" ry="25" fill="#a3a3a3"/><ellipse cx="364" cy="312" rx="9" ry="12" fill="#9c9c9c"/><ellipse cx="378" cy="175" rx="4" ry="40" fill="#7c7c7c"/></g><g clip-path="url(#p3c11)"><g filter="url(#b1)"><rect x="361" y="45" width="2.3" height="77" fill="#b6b6b6" opacity="0.83"/><rect x="355.7" y="45" width="2.3" height="77" fill="#a9a9a9" opacity="0.72"/><rect x="353.8" y="45" width="2.7" height="77" fill="#c5c5c5" opacity="0.99"/><rect x="365.1" y="45" width="2.4" height="77" fill="#b7b7b7" opacity="0.62"/><rect x="355.8" y="45" width="1.9" height="77" fill="#b4b4b4" opacity="0.94"/><rect x="362.4" y="45" width="2.5" height="77" fill="#b4b4b4" opacity="0.71"/><rect x="372" y="45" width="0" height="77" fill="#b0b0b0" opacity="0.69"/><rect x="361.5" y="45" width="3.3" height="23.6" fill="#4d4d4d" opacity="0.81"/><rect x="357.5" y="45" width="3.6" height="19" fill="#5b5b5b" opacity="0.90"/><rect x="354.9" y="45" width="2.9" height="15.9" fill="#4e4e4e" opacity="0.95"/><rect x="353.5" y="45" width="3.4" height="21" fill="#626262" opacity="0.71"/><rect x="381.2" y="45" width="2.5" height="55.8" fill="#a0a0a0" opacity="0.69"/><rect x="378.9" y="45" width="1.8" height="73.7" fill="#adadad" opacity="0.69"/><rect x="381.9" y="45" width="2.1" height="61.8" fill="#9a9a9a" opacity="0.71"/><rect x="378.9" y="45" width="2.8" height="56.8" fill="#b9b9b9" opacity="0.90"/><rect x="395" y="45" width="1" height="55.8" fill="#acacac" opacity="0.90"/><rect x="378.1" y="45" width="3.4" height="17.4" fill="#4d4d4d" opacity="0.70"/><rect x="390.7" y="45" width="3.3" height="27.6" fill="#505050" opacity="0.91"/><rect x="378.4" y="45" width="2.4" height="40.7" fill="#4d4d4d" opacity="0.92"/><rect x="388.6" y="45" width="2.3" height="28.4" fill="#4a4a4a" opacity="0.86"/><rect x="378.5" y="45" width="2.7" height="46.8" fill="#5f5f5f" opacity="0.76"/><rect x="352" y="91" width="44" height="4" fill="#b9b9b9" opacity="0.85"/><rect x="352" y="84" width="44" height="3" fill="#a6a6a6" opacity="0.60"/><rect x="352" y="101" width="44" height="2" fill="#9f9f9f" opacity="0.50"/></g></g><g filter="url(#b2)"><ellipse cx="366" cy="341" rx="22" ry="7" fill="#acacac"/><ellipse cx="364" cy="341" rx="12" ry="4" fill="#bfbfbf"/><ellipse cx="392" cy="341" rx="8" ry="5" fill="#8c8c8c" opacity="0.80"/></g></g><g clip-path="url(#p3c12)"><g filter="url(#b3)"><rect x="395" y="45" width="18" height="177" fill="#303030"/><rect x="418" y="100" width="44" height="40" fill="#2d2d2d"/><rect x="450" y="100" width="12" height="125" fill="#292929"/><rect x="395" y="66" width="16" height="42" fill="#464646"/></g><g filter="url(#b12)"><polygon points="360,213 420,213 445,220 462,230 472,258 474,360 360,360" fill="#5e5e5e"/></g><g filter="url(#b8)"><ellipse cx="396" cy="295" rx="16" ry="45" fill="#707070" opacity="0.70"/><polygon points="462,240 545,258 545,336 462,336" fill="#494949" opacity="0.90"/><polygon points="494,246 506,246 520,266 536,266 536,315 494,315" fill="#535353"/><ellipse cx="462" cy="300" rx="14" ry="30" fill="#505050" opacity="0.80"/></g><g filter="url(#b4)"><polygon points="480,225 494,225 496,300 500,340 474,340 472,290 477,260" fill="#131313"/><ellipse cx="508" cy="308" rx="13" ry="9" fill="#636363"/><rect x="523" y="45" width="6" height="247" fill="#060606"/></g><g filter="url(#b4)"><ellipse cx="422" cy="317" rx="5" ry="8" fill="#464646" opacity="0.80"/><polygon points="455,332 500,333 500,356 455,356" fill="#0d0d0d"/><polygon points="395,343 460,339 460,353 395,355" fill="#2d2d2d"/></g><rect x="420" y="45" width="39" height="73" fill="url(#p3g13)"/><g clip-path="url(#p3c14)"><g filter="url(#b1)"><rect x="420" y="45" width="8" height="67" fill="#9f9f9f" opacity="0.80"/><rect x="427" y="45" width="1.5" height="67" fill="#c6c6c6"/><rect x="440.9" y="46" width="3.1" height="34.2" fill="#c1c1c1" opacity="0.91"/><rect x="440.7" y="46" width="2.7" height="34" fill="#bdbdbd" opacity="0.89"/><rect x="449.7" y="46" width="2.3" height="33.9" fill="#c4c4c4" opacity="0.74"/><rect x="446" y="46" width="2.6" height="26.2" fill="#c2c2c2" opacity="0.99"/><rect x="443.6" y="46" width="3.5" height="35.9" fill="#cbcbcb" opacity="0.78"/><rect x="439" y="46" width="2.3" height="33.6" fill="#b9b9b9" opacity="0.82"/><rect x="448.7" y="46" width="3.3" height="36.7" fill="#c2c2c2" opacity="0.72"/><rect x="453.2" y="46" width="1.2" height="38" fill="#858585" opacity="0.87"/><rect x="438.9" y="46" width="1.5" height="38" fill="#929292" opacity="0.65"/><rect x="433.1" y="46" width="1.5" height="38" fill="#828282" opacity="0.78"/><rect x="434" y="46" width="1.2" height="38" fill="#878787" opacity="0.79"/><rect x="430" y="89" width="29" height="3.5" fill="#acacac" opacity="0.80"/><rect x="430" y="99" width="25" height="1.5" fill="#868686"/><rect x="430" y="106" width="25" height="1.5" fill="#808080"/><rect x="452" y="45" width="7" height="65" fill="#666666" opacity="0.60"/><rect x="456" y="45" width="1" height="50" fill="#0d0d0d"/><rect x="458.5" y="45" width="1.5" height="50" fill="#0d0d0d"/></g></g><rect x="410" y="45" width="9" height="170" fill="#060606"/><rect x="493" y="45" width="12" height="300" fill="url(#p3g15)"/><rect x="483" y="45" width="9.5" height="285" fill="#060606"/><rect x="529" y="45" width="11" height="240" fill="url(#p3g16)"/><g clip-path="url(#p3c17)"><g filter="url(#b1)"><rect x="524" y="54.9" width="16" height="2.5" fill="#2c2c2c" opacity="0.92"/><rect x="524" y="89.6" width="16" height="2.3" fill="#202020" opacity="0.75"/><rect x="524" y="77.6" width="16" height="1.6" fill="#2d2d2d" opacity="0.62"/><rect x="524" y="99.9" width="16" height="0.1" fill="#222222" opacity="0.73"/><rect x="524" y="72.9" width="16" height="1.7" fill="#292929" opacity="0.93"/><rect x="524" y="52.7" width="16" height="2.9" fill="#343434" opacity="0.79"/><rect x="524" y="56.1" width="16" height="1.6" fill="#4d4d4d" opacity="0.68"/><rect x="524" y="98.3" width="16" height="1.7" fill="#414141" opacity="0.89"/><rect x="524" y="52.6" width="16" height="2.2" fill="#555555" opacity="0.96"/><rect x="524" y="68.1" width="16" height="2" fill="#595959" opacity="0.75"/></g></g></g><g clip-path="url(#p3c18)"><rect x="528" y="45" width="13" height="307" fill="url(#p3g19)"/><g filter="url(#b4)"><rect x="538" y="45" width="152" height="307" fill="url(#p3g20)"/><rect x="652" y="100" width="31" height="230" fill="url(#p3g21)"/><rect x="536" y="105" width="16" height="225" fill="url(#p3g22)"/><ellipse cx="590" cy="59" rx="26" ry="5" fill="#393939"/><ellipse cx="552" cy="57" rx="12" ry="4" fill="#404040"/><ellipse cx="560" cy="68" rx="8" ry="3" fill="#464646" opacity="0.70"/><rect x="570" y="91.5" width="30" height="3.5" fill="#404040"/><ellipse cx="548" cy="110" rx="8" ry="5" fill="#404040"/></g><g filter="url(#b3)"><ellipse cx="556" cy="186" rx="4.5" ry="34" fill="#898989" opacity="0.90"/><ellipse cx="556" cy="262" rx="5" ry="36" fill="#636363" opacity="0.70"/><ellipse cx="556" cy="168" rx="4.5" ry="9" fill="#999999"/><ellipse cx="556" cy="201" rx="4" ry="10" fill="#919191"/><ellipse cx="567" cy="186" rx="4.5" ry="34" fill="#898989" opacity="0.90"/><ellipse cx="567" cy="262" rx="5" ry="36" fill="#636363" opacity="0.70"/><ellipse cx="567" cy="168" rx="4.5" ry="9" fill="#9c9c9c"/><ellipse cx="567" cy="201" rx="4" ry="10" fill="#919191"/><ellipse cx="578" cy="186" rx="4.5" ry="34" fill="#898989" opacity="0.90"/><ellipse cx="578" cy="262" rx="5" ry="36" fill="#636363" opacity="0.70"/><ellipse cx="578" cy="168" rx="4.5" ry="9" fill="#9c9c9c"/><ellipse cx="578" cy="201" rx="4" ry="10" fill="#919191"/><ellipse cx="592" cy="186" rx="4.5" ry="34" fill="#898989" opacity="0.90"/><ellipse cx="592" cy="262" rx="5" ry="36" fill="#636363" opacity="0.70"/><ellipse cx="592" cy="168" rx="4.5" ry="9" fill="#999999"/><ellipse cx="592" cy="201" rx="4" ry="10" fill="#919191"/><ellipse cx="627" cy="186" rx="4.5" ry="34" fill="#898989" opacity="0.90"/><ellipse cx="627" cy="262" rx="5" ry="36" fill="#636363" opacity="0.70"/><ellipse cx="627" cy="168" rx="4.5" ry="9" fill="#9c9c9c"/><ellipse cx="627" cy="201" rx="4" ry="10" fill="#919191"/><ellipse cx="606" cy="186" rx="4.5" ry="34" fill="#898989" opacity="0.45"/><ellipse cx="606" cy="262" rx="5" ry="36" fill="#636363" opacity="0.35"/><ellipse cx="648" cy="186" rx="4.5" ry="34" fill="#898989" opacity="0.54"/><ellipse cx="648" cy="262" rx="5" ry="36" fill="#636363" opacity="0.42"/><ellipse cx="600" cy="177" rx="30" ry="4" fill="#8c8c8c" opacity="0.50"/><ellipse cx="608" cy="272" rx="7" ry="24" fill="#404040"/><ellipse cx="585" cy="274" rx="5" ry="20" fill="#464646" opacity="0.80"/><ellipse cx="573" cy="272" rx="3" ry="18" fill="#464646" opacity="0.60"/><ellipse cx="640" cy="278" rx="8" ry="14" fill="#464646" opacity="0.60"/></g><g clip-path="url(#p3c23)"><g filter="url(#b1)"><rect x="625" y="46" width="47" height="11" fill="#838383"/><rect x="623.3" y="50.6" width="48.7" height="1.4" fill="#979797" opacity="0.91"/><rect x="627.9" y="52.6" width="44.1" height="1.5" fill="#9b9b9b" opacity="0.90"/><rect x="623.2" y="56.1" width="48.8" height="1.6" fill="#9a9a9a" opacity="0.75"/><rect x="622.5" y="53.9" width="49.5" height="1.7" fill="#8d8d8d" opacity="0.96"/><rect x="617" y="80.5" width="55" height="1.5" fill="#a6a6a6" opacity="0.90"/><rect x="607" y="86.5" width="55" height="1.5" fill="#9f9f9f" opacity="0.80"/><rect x="606" y="92.5" width="75" height="3" fill="#c6c6c6"/><rect x="606" y="95.5" width="34" height="1.5" fill="#8c8c8c"/><rect x="620" y="99.5" width="48" height="1.5" fill="#acacac" opacity="0.90"/><rect x="625" y="104.5" width="40" height="1.5" fill="#b2b2b2" opacity="0.90"/><rect x="622" y="107.5" width="38" height="1.2" fill="#a6a6a6" opacity="0.80"/><rect x="623" y="110" width="44" height="5" fill="#c6c6c6"/><rect x="612" y="111" width="11" height="3" fill="#999999" opacity="0.80"/></g></g><g clip-path="url(#p3c24)"><g filter="url(#b1)"><rect x="544.3" y="64.2" width="81.8" height="2.1" fill="#7e7e7e" opacity="0.72"/><rect x="540.6" y="87.4" width="86.5" height="1.8" fill="#707070" opacity="0.74"/><rect x="553" y="92.6" width="81.7" height="2.2" fill="#868686" opacity="0.73"/><rect x="555.4" y="83" width="69.7" height="1.3" fill="#828282" opacity="0.64"/><rect x="551.3" y="90.4" width="87.2" height="1.9" fill="#626262" opacity="0.78"/><rect x="566.7" y="109" width="57.7" height="1.6" fill="#646464" opacity="0.74"/><rect x="560.4" y="94.7" width="76.8" height="2.4" fill="#7b7b7b" opacity="0.71"/><rect x="555.9" y="112.3" width="63.1" height="1.6" fill="#676767" opacity="0.74"/><rect x="557.7" y="105.7" width="71.2" height="1.3" fill="#686868" opacity="0.64"/><rect x="543.4" y="116.3" width="81.8" height="1.7" fill="#828282" opacity="0.78"/><rect x="569" y="102" width="52.9" height="1.3" fill="#636363" opacity="0.45"/><rect x="544.6" y="66.8" width="71.2" height="2.1" fill="#646464" opacity="0.61"/><rect x="540.1" y="86.8" width="72.8" height="1.2" fill="#8b8b8b" opacity="0.45"/><rect x="567.1" y="103.1" width="46.3" height="2.5" fill="#6f6f6f" opacity="0.69"/></g></g><g filter="url(#b4)"><ellipse cx="560" cy="285" rx="24" ry="28" fill="#636363" opacity="0.80"/><polyline points="546,290 551,307 566,321 586,325 606,317 616,298" fill="none" stroke="#303030" stroke-width="9" stroke-linecap="round" stroke-linejoin="round"/><ellipse cx="602" cy="272" rx="8" ry="36" fill="#3d3d3d" opacity="0.90"/><polyline points="533,268 536,292 544,314 558,328 580,335" fill="none" stroke="#737373" stroke-width="8" stroke-linecap="round" stroke-linejoin="round"/><ellipse cx="542" cy="310" rx="6" ry="13" fill="#838383"/><ellipse cx="592" cy="297" rx="5" ry="4" fill="#595959"/><ellipse cx="672" cy="308" rx="12" ry="7" fill="#505050"/><ellipse cx="640" cy="300" rx="14" ry="8" fill="#494949" opacity="0.70"/><polygon points="612,322 690,320 690,352 612,352" fill="#0d0d0d"/></g></g><g clip-path="url(#p3c25)"><g filter="url(#b3)"><rect x="681" y="45" width="21" height="205" fill="#303030"/><rect x="681" y="250" width="16" height="72" fill="#404040"/><ellipse cx="697" cy="296" rx="12" ry="24" fill="#404040"/><ellipse cx="715" cy="293" rx="7" ry="6" fill="#4c4c4c"/></g><g filter="url(#b1)"><rect x="685" y="48" width="7" height="77" fill="url(#p3g26)"/><rect x="684" y="63.6" width="9" height="2.3" fill="#393939" opacity="0.72"/><rect x="684" y="107.3" width="9" height="2.1" fill="#545454" opacity="0.75"/><rect x="684" y="85.5" width="9" height="2" fill="#787878" opacity="0.84"/><rect x="684" y="49.8" width="9" height="1.9" fill="#353535" opacity="0.75"/><rect x="684" y="71.5" width="9" height="2.7" fill="#363636" opacity="0.80"/><rect x="684" y="76" width="9" height="2.8" fill="#787878" opacity="0.83"/><rect x="684" y="100.9" width="9" height="2.7" fill="#787878" opacity="0.69"/><rect x="684" y="49" width="9" height="2.2" fill="#767676" opacity="0.54"/><rect x="684" y="105.9" width="9" height="2.3" fill="#4c4c4c" opacity="0.55"/><rect x="684" y="96.8" width="9" height="2.5" fill="#676767" opacity="0.90"/><rect x="684" y="107.6" width="9" height="2.5" fill="#6a6a6a" opacity="0.87"/><rect x="684" y="101.2" width="9" height="2.8" fill="#2d2d2d" opacity="0.73"/></g><g filter="url(#b4)"><ellipse cx="762" cy="165" rx="17" ry="52" fill="#2b2b2b"/><ellipse cx="762" cy="137" rx="16" ry="9" fill="#3b3b3b"/><ellipse cx="775" cy="336" rx="30" ry="4" fill="#333333"/><ellipse cx="786" cy="336" rx="15" ry="3.5" fill="#3d3d3d"/><ellipse cx="738" cy="351" rx="13" ry="3" fill="#333333"/></g><g filter="url(#b2)"><ellipse cx="834" cy="341" rx="14" ry="10" fill="#494949"/><ellipse cx="838" cy="338" rx="8" ry="7" fill="#565656"/><ellipse cx="820" cy="347" rx="10" ry="6" fill="#393939"/><ellipse cx="823" cy="283" rx="3" ry="4" fill="#2d2d2d"/><ellipse cx="836" cy="290" rx="4" ry="6" fill="#2d2d2d"/></g><g filter="url(#b1)"><rect x="748" y="48" width="12" height="10" fill="#404040" opacity="0.85"/><rect x="748" y="60" width="12" height="5" fill="#535353" opacity="0.85"/><rect x="748" y="72" width="12" height="10" fill="#464646" opacity="0.85"/><rect x="748" y="83" width="12" height="9" fill="#4c4c4c" opacity="0.85"/><rect x="772" y="55" width="8" height="35" fill="#333333" opacity="0.85"/><rect x="785" y="48" width="10" height="47" fill="#4c4c4c" opacity="0.85"/><rect x="785" y="76" width="11" height="2.5" fill="#737373" opacity="0.85"/><rect x="772" y="76.5" width="28" height="1.5" fill="#4c4c4c" opacity="0.85"/><rect x="822" y="48" width="13" height="24" fill="#333333" opacity="0.85"/><rect x="748" y="96" width="9" height="6" fill="#333333" opacity="0.85"/></g><rect x="716.9" y="50" width="1.2" height="60" fill="#666666" opacity="0.75"/><rect x="722.9" y="80" width="1.2" height="120" fill="#535353" opacity="0.75"/><rect x="725.7" y="80" width="1.2" height="85" fill="#464646" opacity="0.75"/><rect x="791.7" y="95" width="1.2" height="145" fill="#6c6c6c" opacity="0.75"/><rect x="799.8" y="115" width="1.2" height="70" fill="#4c4c4c" opacity="0.75"/><rect x="815.9" y="115" width="1.2" height="75" fill="#464646" opacity="0.75"/><rect x="822.9" y="48" width="1.2" height="152" fill="#595959" opacity="0.75"/><rect x="825.9" y="48" width="1.2" height="152" fill="#606060" opacity="0.75"/><rect x="768.4" y="85" width="1.2" height="85" fill="#464646" opacity="0.75"/><rect x="678.6" y="48" width="1.2" height="192" fill="#666666" opacity="0.75"/></g><g clip-path="url(#p3c27)"><g filter="url(#b4)"><ellipse cx="556" cy="348" rx="60" ry="11" fill="#696969"/><ellipse cx="508" cy="346" rx="12" ry="7" fill="#595959" opacity="0.90"/></g><g filter="url(#b3)"><ellipse cx="532" cy="346" rx="18" ry="9" fill="#737373"/><ellipse cx="584" cy="343" rx="20" ry="10" fill="#797979"/></g><g filter="url(#b2)"><ellipse cx="532" cy="345.5" rx="9" ry="4" fill="#a3a3a3"/><ellipse cx="583" cy="342" rx="10" ry="5.5" fill="#afafaf"/><ellipse cx="583.5" cy="342" rx="7" ry="4" fill="#cccccc"/></g></g><g clip-path="url(#p3c28)"><rect x="117" y="352" width="729" height="162" fill="#000000"/><g filter="url(#b28)"><rect x="117" y="420" width="66" height="94" fill="url(#p3g29)"/><rect x="117" y="440" width="33" height="74" fill="url(#p3g30)"/><rect x="376" y="352" width="199" height="162" fill="url(#p3g31)"/><rect x="395" y="352" width="75" height="98" fill="url(#p3g32)"/><rect x="560" y="352" width="65" height="162" fill="url(#p3g33)"/><rect x="625" y="352" width="87" height="162" fill="url(#p3g34)"/><rect x="712" y="385" width="134" height="129" fill="url(#p3g35)"/><rect x="738" y="425" width="57" height="89" fill="url(#p3g36)"/></g><g filter="url(#b14)"><rect x="172" y="350" width="11" height="22" fill="url(#p3g37)"/><rect x="348" y="352" width="4" height="162" fill="url(#p3g38)"/><rect x="352" y="352" width="20" height="162" fill="url(#p3g39)"/><rect x="352" y="355" width="2.5" height="90" fill="url(#p3g40)"/><rect x="357" y="356" width="3" height="42" fill="url(#p3g41)"/><rect x="420" y="358" width="28" height="92" fill="url(#p3g42)"/><rect x="431" y="372" width="7" height="53" fill="url(#p3g43)"/><rect x="451" y="353" width="19" height="161" fill="url(#p3g44)"/><rect x="470" y="352" width="22" height="162" fill="url(#p3g45)"/><rect x="493" y="352" width="12.5" height="162" fill="url(#p3g46)"/><rect x="438.8" y="440.3" width="1.4" height="73.7" fill="#6f6f6f" opacity="0.80"/><rect x="427.1" y="441.6" width="1.1" height="72.4" fill="#606060" opacity="0.68"/><rect x="446.9" y="462.8" width="1.5" height="51.2" fill="#636363" opacity="0.54"/><rect x="381.9" y="445.7" width="1.4" height="68.3" fill="#717171" opacity="0.57"/><rect x="559.5" y="459.9" width="1.6" height="54.1" fill="#626262" opacity="0.50"/><rect x="518.9" y="448.9" width="1.3" height="65.1" fill="#666666" opacity="0.56"/><rect x="389.4" y="448.9" width="1.1" height="65.1" fill="#696969" opacity="0.63"/><rect x="540.8" y="442.8" width="1.2" height="71.2" fill="#646464" opacity="0.63"/><rect x="468.4" y="442.8" width="1.2" height="71.2" fill="#6c6c6c" opacity="0.65"/><rect x="512.4" y="441.1" width="1.5" height="72.9" fill="#696969" opacity="0.68"/><rect x="473.8" y="449.2" width="1.3" height="64.8" fill="#707070" opacity="0.79"/><rect x="472.9" y="443.9" width="1.3" height="70.1" fill="#646464" opacity="0.65"/><rect x="430" y="466" width="1.3" height="48" fill="#6a6a6a" opacity="0.53"/><rect x="470.2" y="454.8" width="1.5" height="59.2" fill="#676767" opacity="0.58"/><rect x="501.1" y="460.2" width="1.3" height="53.8" fill="#606060" opacity="0.57"/><rect x="388.5" y="457.9" width="1.1" height="56.1" fill="#717171" opacity="0.67"/></g><rect x="449" y="352" width="2" height="114" fill="#cccccc"/><rect x="736" y="352" width="1" height="162" fill="#c6c6c6"/><g filter="url(#by4)"><rect x="403.4" y="355" width="1.2" height="85" fill="#8c8c8c"/><rect x="403.4" y="375" width="1.2" height="45" fill="#b2b2b2"/><rect x="414.4" y="352" width="1.1" height="48" fill="#808080"/><rect x="481" y="352" width="1.3" height="100" fill="#8c8c8c"/><rect x="481" y="360" width="1.3" height="70" fill="#b9b9b9"/><rect x="497.4" y="360" width="1.2" height="60" fill="#b2b2b2"/><rect x="509.6" y="360" width="1.1" height="50" fill="#8c8c8c"/><rect x="509.6" y="372" width="1.1" height="26" fill="#b2b2b2"/><rect x="559.4" y="370" width="1.2" height="70" fill="#8c8c8c"/><rect x="559.4" y="385" width="1.2" height="40" fill="#b9b9b9"/><rect x="564.5" y="372" width="1" height="48" fill="#797979"/><rect x="604.5" y="365" width="1.1" height="55" fill="#808080"/><rect x="604.5" y="385" width="1.1" height="20" fill="#b2b2b2"/><rect x="644.4" y="355" width="1.3" height="80" fill="#8c8c8c"/><rect x="644.4" y="368" width="1.3" height="52" fill="#bfbfbf"/><rect x="656.4" y="352" width="1.3" height="103" fill="#868686"/><rect x="656.4" y="365" width="1.3" height="70" fill="#bfbfbf"/><rect x="669.5" y="352" width="1.1" height="68" fill="#797979"/><rect x="680" y="352" width="1" height="98" fill="#c6c6c6"/><rect x="688.9" y="352" width="1.2" height="48" fill="#535353"/><rect x="713.4" y="380" width="1.2" height="60" fill="#808080"/><rect x="713.4" y="395" width="1.2" height="30" fill="#b2b2b2"/><rect x="721.3" y="352" width="1.4" height="108" fill="#868686"/><rect x="721.3" y="362" width="1.4" height="78" fill="#bfbfbf"/><rect x="725.5" y="370" width="1" height="70" fill="#797979"/><rect x="732.5" y="360" width="1" height="50" fill="#535353"/><rect x="755.4" y="352" width="1.2" height="78" fill="#797979"/><rect x="780.5" y="360" width="1.1" height="60" fill="#737373"/><rect x="788.5" y="365" width="1" height="35" fill="#595959"/><rect x="814.9" y="355" width="1.2" height="75" fill="#868686"/><rect x="814.9" y="370" width="1.2" height="40" fill="#b2b2b2"/><rect x="834.4" y="352" width="2.2" height="110" fill="#8c8c8c"/><rect x="834.4" y="362" width="2.2" height="86" fill="#c6c6c6"/><rect x="175.8" y="355" width="1.3" height="85" fill="#808080"/><rect x="175.8" y="362" width="1.3" height="58" fill="#b2b2b2"/><rect x="179" y="355" width="1" height="85" fill="#737373"/></g><g filter="url(#b3)"><ellipse cx="815" cy="372" rx="15" ry="9" fill="#363636"/></g></g><g filter="url(#by4)"><rect x="680" y="290" width="1" height="62" fill="#b9b9b9"/><rect x="721.4" y="346" width="1.3" height="6" fill="#737373"/><rect x="834.5" y="345" width="2" height="7" fill="#808080"/><rect x="481" y="347" width="1.3" height="5" fill="#737373"/><rect x="449.1" y="345" width="1.5" height="7" fill="#808080"/><rect x="656.4" y="348" width="1.2" height="4" fill="#737373"/></g><rect x="736" y="45" width="1" height="307" fill="#c6c6c6"/></g><path d="M183,45H356V112L353,119L349,130L348,140V514H183Z" fill="#7f0000"/><rect x="351.2" y="118" width="1" height="396" fill="#7f0000"/><rect x="372.2" y="45" width="3.7" height="469" fill="#7f0000"/><polyline points="850,46.9 680.6,47.2 677.6,47.9 676.7,48.5 676.4,48.7 671.6,50 671.3,50.1 673.5,50.9 671.1,51.6 667.7,52.2 666.9,52.6 665.3,53.8 663.1,54.4 662.3,54.5 661.2,55.5 657.2,55.8 658.6,56.8 656.3,57.7 654.7,58.4 651.4,59 650.4,59.4 651.7,59.9 655.6,59.5 653.4,59.8 659.4,60.1 659.2,60.2 660.2,60.5 661.1,60.8 663.9,61.3 666,61.5 668.6,61.7 669.3,61.3 671.9,62.1 673.7,62 674.4,61.9 674.9,62.3 678.3,62.5 677.1,62.3 681.7,63.2 679.3,63.3 682.6,62.9 683.7,63.6 688.3,63.2 688.6,63.4 690.8,63.8 693.3,64.5 693,64.7 693.6,64.1 696.8,64.2 697.9,64.8 694.6,65 695,65 690.3,65.9 690,66.2 691.3,66 687.3,66.4 686.5,66.7 684.4,67 684.6,67.1 680.6,67.4 681.7,68.7 682.1,69.5 687.4,70.8 686.6,71.6 687.8,73.1 688.4,74.6 687.5,76.1 691.7,77.1 692.1,78.9 691.2,79.1 689.8,79.3 688.4,79.8 683.2,79.6 685,80.5 681.2,80.4 681.3,80.5 678.5,80.8 677,81.3 675,81.3 675.9,81.3 673.2,82.1 670.2,82 671.2,82.2 666.4,82.6 667.4,82.6 664.8,83.2 665.5,83.5 669.8,84.1 671.5,84.3 670.4,85.1 674.9,85.4 673,85.6 676.2,86.1 677.7,86.8 677.6,87.3 672.7,87.2 674.2,87.7 672.5,87.7 667.3,88 669,88.2 665,88.6 663.7,88.8 664.6,88.9 658.1,89.8 659,89.7 662.7,90.3 662.1,90.6 666.3,90.2 667.1,91 668.3,91 668.1,91.1 669.5,91.1 673.1,91.6 675.9,91.6 678.1,92.4 677.7,92.5 678.3,93.1 676.6,93.1 670.4,93.6 669.7,93.5 670.6,94 667.8,94.6 667.2,94.4 663.8,95.1 663.4,95.3 661.1,95.2 660.5,95.9 657,96.2 659.4,96.5 657.3,96.2 654.7,97.1 650.1,97 649.6,97.5 648.9,97.7 649.1,97.6 646.1,98.3 642.1,98.3 640.8,98.5 643.6,99.4 637.3,99.3 636.9,99.4 635.4,100 635,100 631.3,100.2 629.3,100.7 630.7,100.8 625.8,100.9 625.6,101.5 626.1,101.5 623,101.9 623,102.3 619.4,102.4 618.1,103 616.1,103.4 614.7,103.3 613.5,104 609.5,104.1 610.1,104.5 611.4,105.1 615.8,105 617.3,105.6 615.7,105.6 616.6,106.2 621.1,106.6 623.5,106.7 624.9,106.9 623.3,107.2 624.5,107.1 628.8,107.7 631.9,107.6 630,107.8 635.7,108.1 632.9,108.9 635,109.1 639.5,109.3 642.6,109.4 643.4,109.1 644.9,109.8 646.3,109.7 648.1,110.5 646.2,110.3 650.4,110.9 650.4,110.6 652,111.2 656.3,111.3 655.9,111.5 657.5,111.7 657.7,112 664,112.2 664.5,112.2 664.8,112.7 667.2,114.1 668.6,115 669,116.3 672.6,117.1 672,118.5 668.1,119.4 670.6,119.9 666.3,120.8 664.8,121.3 664.9,121.6 666.6,122.3 668.9,122.5 672.5,123.6 672.2,123.9 674.9,124.2 672.8,124.8 672,124.6 668.5,124.8 668.2,125.4 664.9,125.7 664,126.3 663.3,126.4 662.9,127.7 666.1,128.4 667.5,129.5 670.8,130.2 670.5,131.3 672,132.1 672.4,132.8 670.3,134.1 667.5,134.4 664.8,135.6 665.7,136.6 665.2,136.9 661.9,137.9 658.6,138.4 657,139.5 658.8,140.4 654.1,141 652.7,141.4 653.2,141.9 650.4,142.9 646.8,144 646.5,144.5 646.5,145.6 642.1,146.2 642.9,147.1 641.8,148 641.9,148.6 647.5,148.9 647,149.2 647.2,150.2 648,150.9 653.8,150.8 653.3,151.6 656.1,153.3 655.6,155.4 653.6,157.1 656,159 654.4,160.8 656.1,162.4 660.1,162.9 659.4,162.9 660.8,163.4 663.5,164.1 664.3,164.1 666.3,164.8 665.4,165.4 669.4,165.2 672.4,165.6 670.9,166.4 673.8,166.7 674.9,167 674.2,167.7 671,168.1 668.3,169.2 670.4,169.8 668.9,170.3 665,171 666.7,171.4 663.3,172.5 661.7,172.9 661.5,173.7 657.7,174.3 657.2,175.3 654.6,176 651.8,176.2 650.2,176.7 652.1,177.8 647.4,178 647.5,178.9 645.4,179.8 645.8,180.5 642.9,180.8 640.2,181.5 639.2,182.5 637.4,183.2 637.3,184.3 641.8,185.4 643.3,187.3 643.2,188.3 647.1,188.6 646.7,189.2 648.7,189.9 650.6,189.7 653.1,190.3 653.3,190.9 651.8,191.3 656.8,191.5 657.6,191.9 656.3,192.8 653.1,193.8 650.9,194.7 652.6,195.6 650.7,196.9 651,197.2 647.5,198.4 650.5,199.7 648.1,200.8 650.5,201.8 653.3,203.4 655.2,204.1 655.8,204.5 659.4,204.3 662,205 662.8,205.5 664.1,205.6 665.9,206.5 667.8,206.5 669.2,206.9 669.4,206.9 672,207.7 671,209.1 671.2,210.9 672.5,212.6 672,214.2 673.2,215.5 674.4,216.6 676.3,217.8 675.3,218.3 672.3,219.2 672,219.3 669.5,220 668.4,220.3 665.4,220.8 665.6,221.3 663.3,222.1 661.6,222.4 659.4,222.9 658.3,223.4 655.8,223.8 654.6,224.6 652.8,224.8 652.1,225.6 651.1,225.8 648.8,226.6 647.5,227.2 644.8,228.2 643.6,228.1 642.6,228.8 641.3,229.6 638.5,230 638.4,230.8 636.9,231.5 634.6,232.2 634.5,233.7 631.8,235.3 632.1,237.2 630.2,238.7 630.6,240.2 632.1,242.7 632.6,243.7 633.1,245.9 630.5,246.8 629.5,248 627.8,249.8 627.4,250.9 629.8,251.6 631.4,252.7 632.4,254 634.2,254.2 634.1,255.6 637,256.1 637.4,257.4 638.3,258.7 639.4,259.4 641.3,260.6 644.2,261.3 645.2,262.7 646.9,263.6 647.5,264.6 650.2,265.2 650.7,265.8 653.2,266.7 653.7,267.2 656.4,268.3 657.6,268.9 659.2,270.1 659.8,271.2 661.5,272.4 662.1,274.3 663.3,275.4 665.3,275.5 665.9,276.5 668.4,276.9 670.6,277 672.3,277.6 672.5,277.7 673.5,278.1 677.2,278.3 677.7,279 679.3,279.6 679.6,281 681.4,281.5 682.7,282.9 685.2,283.4 686.4,284.7 687.2,286.2 688.6,286.9 690.5,288.2 692.4,289.3 693.7,289.9 695,291.2 692.3,291.6 692,292.4 689.3,293.4 688.9,295.4 690,297 690.4,298.3 692.1,300 694.6,301.8 694.2,303.8 695.4,305.4 696.1,307.4 695.4,308.9 695.9,310.3 696.3,312.4 695.9,313.6 694.7,314.5 692.9,315.9 692.2,316.7 690.1,318.2 689.3,319.4 689,321.2 691.3,322.9 691.8,324.8 691.4,326.3 692.8,328.2 692.8,329.8 690.3,331.4 689.3,333.5 686.9,333.7 686.8,334.7 684.3,335.4 682.3,335.8 680.5,335.9 679.1,336.8 677,337 675.7,337.2 674,337.3 672.5,337.9 670.4,338 668.7,337.6 667.5,337.9 665.7,338.3 663.8,338.6 662.3,338.5 660.8,338.9 659.4,338.8 657.4,338.9 656,338.9 654.2,339.7 653,340 651.5,340.1 649.5,339.7 647.8,340.1 646.4,340.4 644.7,340.8 643,340.6 641.8,341.1 639.8,340.8 638.3,341.2 636.9,340.9 634.8,341.5 633.5,341.4 631.6,341.5 630.5,341.9 629,342.3 627.4,341.8 625.3,341.9 623.9,342.3 622,342.6 620.4,342.6 618.9,343.1 617.4,342.8 615.6,343.1 614.4,343.4 613,343.7 610.9,343.3 609.7,343.9 607.9,344.1 606.3,343.8 604.5,343.7 603.2,344.6 601.8,344.4 600,344.9 598.5,344.8 596.6,344.8 594.9,344.7 593.6,345.5 591.9,345.2 590.2,345.3 588.9,345.5 587.4,345.4 585.5,345.8 583.8,346 582.2,346.4 580.9,346.6 579.2,346 577.6,346.5 575.9,346.4 574.5,347.1 572.4,347 571,347 569.8,347.5 568,347.1 566.6,347.2 564.7,347.8 563,347.5 561.9,348.2 559.8,347.9 558.2,347.8 556.6,348.6 554.9,348.2 553.4,348.2 552,348.9 550.6,348.9 549,348.5 547,349.4 545.3,349 544,349.2 542.4,349.1 540.6,350 538.9,350.1 537.4,350.3 536.1,350.1 534.1,349.8 532.8,350.3 531.4,350.2 529.4,350.9 528.3,350.4 526.7,350.9 524.7,350.8 523.1,351.6 521.4,351.1 519.8,351.2 518.3,352 516.5,351.6 515.5,352.4 513.9,352 511.9,352.7 510.4,352.6 508.7,352.2 507.1,353 505.8,353 504,353.1 502.4,353.3 501,353.2 499.3,353.9 497.8,353.4 496.3,354.1 494.2,353.8 492.6,353.8 491.5,354.2 489.9,354.2 487.7,354.9 486.6,355.2 484.9,355 483.4,354.8 481.6,355.2 480,355.4 478.1,355.6 476.6,355.7 475.1,355.7 473.4,356 472.3,356.4 470.6,356.5 468.5,356.7 466.9,356.2 465.5,356.8 463.7,356.9 462.1,357.3 460.6,357 459,357.5 457.7,357.3 455.7,357.5 453.9,357.5 452.8,357.9 450.6,358.1 449.2,358.4 447.7,358.1 446.1,358.5 444.7,359.7 443,360.4 441.7,360.6 439.9,361.4 438.4,362 437,363 435.4,363.4 434.6,364.6 433.4,366.2 432.8,367.5 431.6,369.1 430.8,370.4 430.1,372.2 428.6,373.3 427.1,373.9 425.8,374.7 424.3,375.1 422.7,375.6 421.3,376.6 419.5,377.4 417.9,378.3 416.1,378.2 414.9,379.1 412.7,379.2 411.3,379.7 410,380.4 408,381.1 406.5,381.7 405,382.4 403.2,382.5 402,383.6 399.7,383.9 398.4,384.5 397,385.4 394.9,385.2 393.5,386.1 392.2,386.9 390.2,387.1 388.7,388 386.8,388.2 385.1,388.9 383.5,389.7 382.2,389.9 380.3,390.2 378.9,391.2 377.3,391.5 375.8,392.2 374.6,393.4 372.7,393.9 371,395.3 369.4,395.9 368.2,396.6 366.7,398 365,398.5 364.7,400.5 363.6,401.7 363.2,403.7 362.6,405.6 363.1,407.4 363.8,408.8 365,409.7 365.7,411.4 365.9,412.7 366.8,414.4 367.8,415.5 369.3,416.9 371,417.3 372,418.7 373.1,419.7 374.5,421.2 375.9,421.8 377.3,423.2 378.5,424 380.2,424.8 381.7,425.6 383.1,426.8 384.1,427.8 385.7,428.5 387.2,429.5 388.5,429.9 390.2,431.4 391.4,432 392.9,432.9 394.3,434.1 396.1,434.4 397.8,435.9 399,436.8 400.6,437 402.3,438 403.7,439 405.1,440.3 405.9,441.5 407.7,442.8 408.8,444.3 409.9,445.3 411.3,446.8 412.5,447.8 413.6,448.6 415.3,450 416.3,451.4 418.1,452.2 419.5,453.6 420.6,454.2 421.4,455.6 423.1,456.6 424.3,457.7 425.2,459.1 426.1,460.4 427.3,461.4 428.1,462.8 429.3,464.2 430.2,465.1 431.3,466.4 432.6,467.4 433.6,468.9 434.2,470.4 435.1,472 436,473.2 437.1,475.4 438.2,476.6 438.8,477.8 439.6,479.5 440.6,481.2 441.7,482.5 442.5,484.3 442.9,485.7 444.1,487.2 444.6,489 445.1,490.4 446.5,492.4 447.1,494.1 447.7,495.3 448.5,496.8 450.1,497.7 451,499.6 452,500.8 453,502 454.1,503.2 455.3,504.8 456.5,505.8 457.9,506.9 459.1,508 460.5,508.9 461.6,510.3 462.7,511 463.8,512.6 465.3,513.6 466.4,515.5 468,517" fill="none" stroke="#f00" stroke-width="3.1" stroke-linejoin="round"/></g><rect x="891.9" y="45" width="23.45" height="469" fill="url(#cb)"/></g>
<g class="m" transform="scale(2.0833333)"><g id="figure_1"> <g id="patch_1"> <path d="M 0 866.88 L 504.96 866.88 L 504.96 0 L 0 0 L 0 866.88 z " style="fill: none"/> </g> <g id="axes_1"> <g id="patch_2"> <path d="M 56.16 246.72 L 406.08 246.72 L 406.08 21.6 L 56.16 21.6 L 56.16 246.72 z " style="fill: none; opacity: 0"/> </g> <g id="matplotlib.axis_1"> <g id="xtick_1"> <g id="line2d_1"> <defs> <path id="m5c0e80b0ad" d="M 0 0 L 0 3.5 " style="stroke: #000000; stroke-width: 0.8"/> </defs> <g> <use href="#m5c0e80b0ad" x="56.16" y="246.72" style="stroke: #000000; stroke-width: 0.8"/> </g> </g> <g id="text_1">  <g transform="translate(52.978 261.318) scale(0.1 -0.1)"> <defs> <path id="DejaVuSans-31" d="M 794 531 L 1825 531 L 1825 4091 L 703 3866 L 703 4441 L 1819 4666 L 2450 4666 L 2450 531 L 3481 531 L 3481 0 L 794 0 L 794 531 z " transform="scale(0.015)"/> </defs> <use href="#DejaVuSans-31"/> </g> </g> </g> <g id="xtick_2"> <g id="line2d_2"> <g> <use href="#m5c0e80b0ad" x="78.735" y="246.72" style="stroke: #000000; stroke-width: 0.8"/> </g> </g> <g id="text_2">  <g transform="translate(75.554 261.318) scale(0.1 -0.1)"> <defs> <path id="DejaVuSans-33" d="M 2597 2516 Q 3050 2419 3304 2112 Q 3559 1806 3559 1356 Q 3559 666 3084 287 Q 2609 -91 1734 -91 Q 1441 -91 1130 -33 Q 819 25 488 141 L 488 750 Q 750 597 1062 519 Q 1375 441 1716 441 Q 2309 441 2620 675 Q 2931 909 2931 1356 Q 2931 1769 2642 2001 Q 2353 2234 1838 2234 L 1294 2234 L 1294 2753 L 1863 2753 Q 2328 2753 2575 2939 Q 2822 3125 2822 3475 Q 2822 3834 2567 4026 Q 2313 4219 1838 4219 Q 1578 4219 1281 4162 Q 984 4106 628 3988 L 628 4550 Q 988 4650 1302 4700 Q 1616 4750 1894 4750 Q 2613 4750 3031 4423 Q 3450 4097 3450 3541 Q 3450 3153 3228 2886 Q 3006 2619 2597 2516 z " transform="scale(0.015)"/> </defs> <use href="#DejaVuSans-33"/> </g> </g> </g> <g id="xtick_3"> <g id="line2d_3"> <g> <use href="#m5c0e80b0ad" x="101.310" y="246.72" style="stroke: #000000; stroke-width: 0.8"/> </g> </g> <g id="text_3">  <g transform="translate(98.129 261.318) scale(0.1 -0.1)"> <defs> <path id="DejaVuSans-35" d="M 691 4666 L 3169 4666 L 3169 4134 L 1269 4134 L 1269 2991 Q 1406 3038 1543 3061 Q 1681 3084 1819 3084 Q 2600 3084 3056 2656 Q 3513 2228 3513 1497 Q 3513 744 3044 326 Q 2575 -91 1722 -91 Q 1428 -91 1123 -41 Q 819 9 494 109 L 494 744 Q 775 591 1075 516 Q 1375 441 1709 441 Q 2250 441 2565 725 Q 2881 1009 2881 1497 Q 2881 1984 2565 2268 Q 2250 2553 1709 2553 Q 1456 2553 1204 2497 Q 953 2441 691 2322 L 691 4666 z " transform="scale(0.015)"/> </defs> <use href="#DejaVuSans-35"/> </g> </g> </g> <g id="xtick_4"> <g id="line2d_4"> <g> <use href="#m5c0e80b0ad" x="123.886" y="246.72" style="stroke: #000000; stroke-width: 0.8"/> </g> </g> <g id="text_4">  <g transform="translate(120.705 261.318) scale(0.1 -0.1)"> <defs> <path id="DejaVuSans-37" d="M 525 4666 L 3525 4666 L 3525 4397 L 1831 0 L 1172 0 L 2766 4134 L 525 4134 L 525 4666 z " transform="scale(0.015)"/> </defs> <use href="#DejaVuSans-37"/> </g> </g> </g> <g id="xtick_5"> <g id="line2d_5"> <g> <use href="#m5c0e80b0ad" x="146.461" y="246.72" style="stroke: #000000; stroke-width: 0.8"/> </g> </g> <g id="text_5">  <g transform="translate(143.280 261.318) scale(0.1 -0.1)"> <defs> <path id="DejaVuSans-39" d="M 703 97 L 703 672 Q 941 559 1184 500 Q 1428 441 1663 441 Q 2288 441 2617 861 Q 2947 1281 2994 2138 Q 2813 1869 2534 1725 Q 2256 1581 1919 1581 Q 1219 1581 811 2004 Q 403 2428 403 3163 Q 403 3881 828 4315 Q 1253 4750 1959 4750 Q 2769 4750 3195 4129 Q 3622 3509 3622 2328 Q 3622 1225 3098 567 Q 2575 -91 1691 -91 Q 1453 -91 1209 -44 Q 966 3 703 97 z M 1959 2075 Q 2384 2075 2632 2365 Q 2881 2656 2881 3163 Q 2881 3666 2632 3958 Q 2384 4250 1959 4250 Q 1534 4250 1286 3958 Q 1038 3666 1038 3163 Q 1038 2656 1286 2365 Q 1534 2075 1959 2075 z " transform="scale(0.015)"/> </defs> <use href="#DejaVuSans-39"/> </g> </g> </g> <g id="xtick_6"> <g id="line2d_6"> <g> <use href="#m5c0e80b0ad" x="169.037" y="246.72" style="stroke: #000000; stroke-width: 0.8"/> </g> </g> <g id="text_6">  <g transform="translate(162.674 261.318) scale(0.1 -0.1)"> <use href="#DejaVuSans-31"/> <use href="#DejaVuSans-31" transform="translate(63.623 0)"/> </g> </g> </g> <g id="xtick_7"> <g id="line2d_7"> <g> <use href="#m5c0e80b0ad" x="191.612" y="246.72" style="stroke: #000000; stroke-width: 0.8"/> </g> </g> <g id="text_7">  <g transform="translate(185.250 261.318) scale(0.1 -0.1)"> <use href="#DejaVuSans-31"/> <use href="#DejaVuSans-33" transform="translate(63.623 0)"/> </g> </g> </g> <g id="xtick_8"> <g id="line2d_8"> <g> <use href="#m5c0e80b0ad" x="214.188" y="246.72" style="stroke: #000000; stroke-width: 0.8"/> </g> </g> <g id="text_8">  <g transform="translate(207.825 261.318) scale(0.1 -0.1)"> <use href="#DejaVuSans-31"/> <use href="#DejaVuSans-35" transform="translate(63.623 0)"/> </g> </g> </g> <g id="xtick_9"> <g id="line2d_9"> <g> <use href="#m5c0e80b0ad" x="236.763" y="246.72" style="stroke: #000000; stroke-width: 0.8"/> </g> </g> <g id="text_9">  <g transform="translate(230.401 261.318) scale(0.1 -0.1)"> <use href="#DejaVuSans-31"/> <use href="#DejaVuSans-37" transform="translate(63.623 0)"/> </g> </g> </g> <g id="xtick_10"> <g id="line2d_10"> <g> <use href="#m5c0e80b0ad" x="259.339" y="246.72" style="stroke: #000000; stroke-width: 0.8"/> </g> </g> <g id="text_10">  <g transform="translate(252.976 261.318) scale(0.1 -0.1)"> <use href="#DejaVuSans-31"/> <use href="#DejaVuSans-39" transform="translate(63.623 0)"/> </g> </g> </g> <g id="xtick_11"> <g id="line2d_11"> <g> <use href="#m5c0e80b0ad" x="281.914" y="246.72" style="stroke: #000000; stroke-width: 0.8"/> </g> </g> <g id="text_11">  <g transform="translate(275.552 261.318) scale(0.1 -0.1)"> <defs> <path id="DejaVuSans-32" d="M 1228 531 L 3431 531 L 3431 0 L 469 0 L 469 531 Q 828 903 1448 1529 Q 2069 2156 2228 2338 Q 2531 2678 2651 2914 Q 2772 3150 2772 3378 Q 2772 3750 2511 3984 Q 2250 4219 1831 4219 Q 1534 4219 1204 4116 Q 875 4013 500 3803 L 500 4441 Q 881 4594 1212 4672 Q 1544 4750 1819 4750 Q 2544 4750 2975 4387 Q 3406 4025 3406 3419 Q 3406 3131 3298 2873 Q 3191 2616 2906 2266 Q 2828 2175 2409 1742 Q 1991 1309 1228 531 z " transform="scale(0.015)"/> </defs> <use href="#DejaVuSans-32"/> <use href="#DejaVuSans-31" transform="translate(63.623 0)"/> </g> </g> </g> <g id="xtick_12"> <g id="line2d_12"> <g> <use href="#m5c0e80b0ad" x="304.490" y="246.72" style="stroke: #000000; stroke-width: 0.8"/> </g> </g> <g id="text_12">  <g transform="translate(298.127 261.318) scale(0.1 -0.1)"> <use href="#DejaVuSans-32"/> <use href="#DejaVuSans-33" transform="translate(63.623 0)"/> </g> </g> </g> <g id="xtick_13"> <g id="line2d_13"> <g> <use href="#m5c0e80b0ad" x="327.065" y="246.72" style="stroke: #000000; stroke-width: 0.8"/> </g> </g> <g id="text_13">  <g transform="translate(320.703 261.318) scale(0.1 -0.1)"> <use href="#DejaVuSans-32"/> <use href="#DejaVuSans-35" transform="translate(63.623 0)"/> </g> </g> </g> <g id="xtick_14"> <g id="line2d_14"> <g> <use href="#m5c0e80b0ad" x="349.641" y="246.72" style="stroke: #000000; stroke-width: 0.8"/> </g> </g> <g id="text_14">  <g transform="translate(343.278 261.318) scale(0.1 -0.1)"> <use href="#DejaVuSans-32"/> <use href="#DejaVuSans-37" transform="translate(63.623 0)"/> </g> </g> </g> <g id="xtick_15"> <g id="line2d_15"> <g> <use href="#m5c0e80b0ad" x="372.216" y="246.72" style="stroke: #000000; stroke-width: 0.8"/> </g> </g> <g id="text_15">  <g transform="translate(365.854 261.318) scale(0.1 -0.1)"> <use href="#DejaVuSans-32"/> <use href="#DejaVuSans-39" transform="translate(63.623 0)"/> </g> </g> </g> <g id="xtick_16"> <g id="line2d_16"> <g> <use href="#m5c0e80b0ad" x="394.792" y="246.72" style="stroke: #000000; stroke-width: 0.8"/> </g> </g> <g id="text_16">  <g transform="translate(388.429 261.318) scale(0.1 -0.1)"> <use href="#DejaVuSans-33"/> <use href="#DejaVuSans-31" transform="translate(63.623 0)"/> </g> </g> </g> <g id="text_17">  <g transform="translate(156.282 274.996) scale(0.1 -0.1)"> <defs> <path id="DejaVuSans-4f" d="M 2522 4238 Q 1834 4238 1429 3725 Q 1025 3213 1025 2328 Q 1025 1447 1429 934 Q 1834 422 2522 422 Q 3209 422 3611 934 Q 4013 1447 4013 2328 Q 4013 3213 3611 3725 Q 3209 4238 2522 4238 z M 2522 4750 Q 3503 4750 4090 4092 Q 4678 3434 4678 2328 Q 4678 1225 4090 567 Q 3503 -91 2522 -91 Q 1538 -91 948 565 Q 359 1222 359 2328 Q 359 3434 948 4092 Q 1538 4750 2522 4750 z " transform="scale(0.015)"/> <path id="DejaVuSans-63" d="M 3122 3366 L 3122 2828 Q 2878 2963 2633 3030 Q 2388 3097 2138 3097 Q 1578 3097 1268 2742 Q 959 2388 959 1747 Q 959 1106 1268 751 Q 1578 397 2138 397 Q 2388 397 2633 464 Q 2878 531 3122 666 L 3122 134 Q 2881 22 2623 -34 Q 2366 -91 2075 -91 Q 1284 -91 818 406 Q 353 903 353 1747 Q 353 2603 823 3093 Q 1294 3584 2113 3584 Q 2378 3584 2631 3529 Q 2884 3475 3122 3366 z " transform="scale(0.015)"/> <path id="DejaVuSans-74" d="M 1172 4494 L 1172 3500 L 2356 3500 L 2356 3053 L 1172 3053 L 1172 1153 Q 1172 725 1289 603 Q 1406 481 1766 481 L 2356 481 L 2356 0 L 1766 0 Q 1100 0 847 248 Q 594 497 594 1153 L 594 3053 L 172 3053 L 172 3500 L 594 3500 L 594 4494 L 1172 4494 z " transform="scale(0.015)"/> <path id="DejaVuSans-6f" d="M 1959 3097 Q 1497 3097 1228 2736 Q 959 2375 959 1747 Q 959 1119 1226 758 Q 1494 397 1959 397 Q 2419 397 2687 759 Q 2956 1122 2956 1747 Q 2956 2369 2687 2733 Q 2419 3097 1959 3097 z M 1959 3584 Q 2709 3584 3137 3096 Q 3566 2609 3566 1747 Q 3566 888 3137 398 Q 2709 -91 1959 -91 Q 1206 -91 779 398 Q 353 888 353 1747 Q 353 2609 779 3096 Q 1206 3584 1959 3584 z " transform="scale(0.015)"/> <path id="DejaVuSans-62" d="M 3116 1747 Q 3116 2381 2855 2742 Q 2594 3103 2138 3103 Q 1681 3103 1420 2742 Q 1159 2381 1159 1747 Q 1159 1113 1420 752 Q 1681 391 2138 391 Q 2594 391 2855 752 Q 3116 1113 3116 1747 z M 1159 2969 Q 1341 3281 1617 3432 Q 1894 3584 2278 3584 Q 2916 3584 3314 3078 Q 3713 2572 3713 1747 Q 3713 922 3314 415 Q 2916 -91 2278 -91 Q 1894 -91 1617 61 Q 1341 213 1159 525 L 1159 0 L 581 0 L 581 4863 L 1159 4863 L 1159 2969 z " transform="scale(0.015)"/> <path id="DejaVuSans-65" d="M 3597 1894 L 3597 1613 L 953 1613 Q 991 1019 1311 708 Q 1631 397 2203 397 Q 2534 397 2845 478 Q 3156 559 3463 722 L 3463 178 Q 3153 47 2828 -22 Q 2503 -91 2169 -91 Q 1331 -91 842 396 Q 353 884 353 1716 Q 353 2575 817 3079 Q 1281 3584 2069 3584 Q 2775 3584 3186 3129 Q 3597 2675 3597 1894 z M 3022 2063 Q 3016 2534 2758 2815 Q 2500 3097 2075 3097 Q 1594 3097 1305 2825 Q 1016 2553 972 2059 L 3022 2063 z " transform="scale(0.015)"/> <path id="DejaVuSans-72" d="M 2631 2963 Q 2534 3019 2420 3045 Q 2306 3072 2169 3072 Q 1681 3072 1420 2755 Q 1159 2438 1159 1844 L 1159 0 L 581 0 L 581 3500 L 1159 3500 L 1159 2956 Q 1341 3275 1631 3429 Q 1922 3584 2338 3584 Q 2397 3584 2469 3576 Q 2541 3569 2628 3553 L 2631 2963 z " transform="scale(0.015)"/> <path id="DejaVuSans-20" transform="scale(0.015)"/> <path id="DejaVuSans-30" d="M 2034 4250 Q 1547 4250 1301 3770 Q 1056 3291 1056 2328 Q 1056 1369 1301 889 Q 1547 409 2034 409 Q 2525 409 2770 889 Q 3016 1369 3016 2328 Q 3016 3291 2770 3770 Q 2525 4250 2034 4250 z M 2034 4750 Q 2819 4750 3233 4129 Q 3647 3509 3647 2328 Q 3647 1150 3233 529 Q 2819 -91 2034 -91 Q 1250 -91 836 529 Q 422 1150 422 2328 Q 422 3509 836 4129 Q 1250 4750 2034 4750 z " transform="scale(0.015)"/> <path id="DejaVuSans-4e" d="M 628 4666 L 1478 4666 L 3547 763 L 3547 4666 L 4159 4666 L 4159 0 L 3309 0 L 1241 3903 L 1241 0 L 628 0 L 628 4666 z " transform="scale(0.015)"/> <path id="DejaVuSans-53" d="M 3425 4513 L 3425 3897 Q 3066 4069 2747 4153 Q 2428 4238 2131 4238 Q 1616 4238 1336 4038 Q 1056 3838 1056 3469 Q 1056 3159 1242 3001 Q 1428 2844 1947 2747 L 2328 2669 Q 3034 2534 3370 2195 Q 3706 1856 3706 1288 Q 3706 609 3251 259 Q 2797 -91 1919 -91 Q 1588 -91 1214 -16 Q 841 59 441 206 L 441 856 Q 825 641 1194 531 Q 1563 422 1919 422 Q 2459 422 2753 634 Q 3047 847 3047 1241 Q 3047 1584 2836 1778 Q 2625 1972 2144 2069 L 1759 2144 Q 1053 2284 737 2584 Q 422 2884 422 3419 Q 422 4038 858 4394 Q 1294 4750 2059 4750 Q 2388 4750 2728 4690 Q 3069 4631 3425 4513 z " transform="scale(0.015)"/> <path id="DejaVuSans-4a" d="M 628 4666 L 1259 4666 L 1259 325 Q 1259 -519 939 -900 Q 619 -1281 -91 -1281 L -331 -1281 L -331 -750 L -134 -750 Q 284 -750 456 -515 Q 628 -281 628 325 L 628 4666 z " transform="scale(0.015)"/> <path id="DejaVuSans-45" d="M 628 4666 L 3578 4666 L 3578 4134 L 1259 4134 L 1259 2753 L 3481 2753 L 3481 2222 L 1259 2222 L 1259 531 L 3634 531 L 3634 0 L 628 0 L 628 4666 z " transform="scale(0.015)"/> <path id="DejaVuSans-48" d="M 628 4666 L 1259 4666 L 1259 2753 L 3553 2753 L 3553 4666 L 4184 4666 L 4184 0 L 3553 0 L 3553 2222 L 1259 2222 L 1259 0 L 628 0 L 628 4666 z " transform="scale(0.015)"/> </defs> <use href="#DejaVuSans-4f"/> <use href="#DejaVuSans-63" transform="translate(78.710 0)"/> <use href="#DejaVuSans-74" transform="translate(133.691 0)"/> <use href="#DejaVuSans-6f" transform="translate(172.900 0)"/> <use href="#DejaVuSans-62" transform="translate(234.082 0)"/> <use href="#DejaVuSans-65" transform="translate(297.558 0)"/> <use href="#DejaVuSans-72" transform="translate(359.082 0)"/> <use href="#DejaVuSans-20" transform="translate(400.195 0)"/> <use href="#DejaVuSans-32" transform="translate(431.982 0)"/> <use href="#DejaVuSans-30" transform="translate(495.605 0)"/> <use href="#DejaVuSans-32" transform="translate(559.228 0)"/> <use href="#DejaVuSans-33" transform="translate(622.851 0)"/> <use href="#DejaVuSans-20" transform="translate(686.474 0)"/> <use href="#DejaVuSans-4e" transform="translate(718.261 0)"/> <use href="#DejaVuSans-53" transform="translate(793.066 0)"/> <use href="#DejaVuSans-20" transform="translate(856.542 0)"/> <use href="#DejaVuSans-4a" transform="translate(888.330 0)"/> <use href="#DejaVuSans-4e" transform="translate(917.822 0)"/> <use href="#DejaVuSans-45" transform="translate(992.626 0)"/> <use href="#DejaVuSans-20" transform="translate(1055.810 0)"/> <use href="#DejaVuSans-30" transform="translate(1087.597 0)"/> <use href="#DejaVuSans-30" transform="translate(1151.220 0)"/> <use href="#DejaVuSans-20" transform="translate(1214.843 0)"/> <use href="#DejaVuSans-48" transform="translate(1246.630 0)"/> <use href="#DejaVuSans-48" transform="translate(1321.826 0)"/> <use href="#DejaVuSans-45" transform="translate(1397.021 0)"/> </g> </g> </g> <g id="matplotlib.axis_2"> <g id="ytick_1"> <g id="line2d_17"> <defs> <path id="mcf89a34e70" d="M 0 0 L -3.5 0 " style="stroke: #000000; stroke-width: 0.8"/> </defs> <g> <use href="#mcf89a34e70" x="56.16" y="229.721" style="stroke: #000000; stroke-width: 0.8"/> </g> </g> <g id="text_18">  <g transform="translate(25.66 233.521) scale(0.1 -0.1)"> <defs> <path id="DejaVuSans-2212" d="M 678 2272 L 4684 2272 L 4684 1741 L 678 1741 L 678 2272 z " transform="scale(0.015)"/> </defs> <use href="#DejaVuSans-31" transform="translate(0 0.765)"/> <use href="#DejaVuSans-30" transform="translate(63.623 0.765)"/> <use href="#DejaVuSans-2212" transform="translate(128.203 39.046) scale(0.7)"/> <use href="#DejaVuSans-32" transform="translate(186.855 39.046) scale(0.7)"/> </g> </g> </g> <g id="ytick_2"> <g id="line2d_18"> <g> <use href="#mcf89a34e70" x="56.16" y="173.255" style="stroke: #000000; stroke-width: 0.8"/> </g> </g> <g id="text_19">  <g transform="translate(25.66 177.054) scale(0.1 -0.1)"> <use href="#DejaVuSans-31" transform="translate(0 0.684)"/> <use href="#DejaVuSans-30" transform="translate(63.623 0.684)"/> <use href="#DejaVuSans-2212" transform="translate(128.203 38.965) scale(0.7)"/> <use href="#DejaVuSans-31" transform="translate(186.855 38.965) scale(0.7)"/> </g> </g> </g> <g id="ytick_3"> <g id="line2d_19"> <g> <use href="#mcf89a34e70" x="56.16" y="116.788" style="stroke: #000000; stroke-width: 0.8"/> </g> </g> <g id="text_20">  <g transform="translate(31.56 120.587) scale(0.1 -0.1)"> <use href="#DejaVuSans-31" transform="translate(0 0.765)"/> <use href="#DejaVuSans-30" transform="translate(63.623 0.765)"/> <use href="#DejaVuSans-30" transform="translate(128.203 39.046) scale(0.7)"/> </g> </g> </g> <g id="ytick_4"> <g id="line2d_20"> <g> <use href="#mcf89a34e70" x="56.16" y="60.321" style="stroke: #000000; stroke-width: 0.8"/> </g> </g> <g id="text_21">  <g transform="translate(31.56 64.120) scale(0.1 -0.1)"> <use href="#DejaVuSans-31" transform="translate(0 0.684)"/> <use href="#DejaVuSans-30" transform="translate(63.623 0.684)"/> <use href="#DejaVuSans-31" transform="translate(128.203 38.965) scale(0.7)"/> </g> </g> </g> <g id="ytick_5"> <g id="line2d_21"> <defs> <path id="m4debb564f0" d="M 0 0 L -2 0 " style="stroke: #000000; stroke-width: 0.6"/> </defs> <g> <use href="#m4debb564f0" x="56.16" y="246.72" style="stroke: #000000; stroke-width: 0.6"/> </g> </g> </g> <g id="ytick_6"> <g id="line2d_22"> <g> <use href="#m4debb564f0" x="56.16" y="242.248" style="stroke: #000000; stroke-width: 0.6"/> </g> </g> </g> <g id="ytick_7"> <g id="line2d_23"> <g> <use href="#m4debb564f0" x="56.16" y="238.468" style="stroke: #000000; stroke-width: 0.6"/> </g> </g> </g> <g id="ytick_8"> <g id="line2d_24"> <g> <use href="#m4debb564f0" x="56.16" y="235.194" style="stroke: #000000; stroke-width: 0.6"/> </g> </g> </g> <g id="ytick_9"> <g id="line2d_25"> <g> <use href="#m4debb564f0" x="56.16" y="232.305" style="stroke: #000000; stroke-width: 0.6"/> </g> </g> </g> <g id="ytick_10"> <g id="line2d_26"> <g> <use href="#m4debb564f0" x="56.16" y="212.723" style="stroke: #000000; stroke-width: 0.6"/> </g> </g> </g> <g id="ytick_11"> <g id="line2d_27"> <g> <use href="#m4debb564f0" x="56.16" y="202.780" style="stroke: #000000; stroke-width: 0.6"/> </g> </g> </g> <g id="ytick_12"> <g id="line2d_28"> <g> <use href="#m4debb564f0" x="56.16" y="195.725" style="stroke: #000000; stroke-width: 0.6"/> </g> </g> </g> <g id="ytick_13"> <g id="line2d_29"> <g> <use href="#m4debb564f0" x="56.16" y="190.253" style="stroke: #000000; stroke-width: 0.6"/> </g> </g> </g> <g id="ytick_14"> <g id="line2d_30"> <g> <use href="#m4debb564f0" x="56.16" y="185.782" style="stroke: #000000; stroke-width: 0.6"/> </g> </g> </g> <g id="ytick_15"> <g id="line2d_31"> <g> <use href="#m4debb564f0" x="56.16" y="182.001" style="stroke: #000000; stroke-width: 0.6"/> </g> </g> </g> <g id="ytick_16"> <g id="line2d_32"> <g> <use href="#m4debb564f0" x="56.16" y="178.727" style="stroke: #000000; stroke-width: 0.6"/> </g> </g> </g> <g id="ytick_17"> <g id="line2d_33"> <g> <use href="#m4debb564f0" x="56.16" y="175.838" style="stroke: #000000; stroke-width: 0.6"/> </g> </g> </g> <g id="ytick_18"> <g id="line2d_34"> <g> <use href="#m4debb564f0" x="56.16" y="156.256" style="stroke: #000000; stroke-width: 0.6"/> </g> </g> </g> <g id="ytick_19"> <g id="line2d_35"> <g> <use href="#m4debb564f0" x="56.16" y="146.313" style="stroke: #000000; stroke-width: 0.6"/> </g> </g> </g> <g id="ytick_20"> <g id="line2d_36"> <g> <use href="#m4debb564f0" x="56.16" y="139.258" style="stroke: #000000; stroke-width: 0.6"/> </g> </g> </g> <g id="ytick_21"> <g id="line2d_37"> <g> <use href="#m4debb564f0" x="56.16" y="133.786" style="stroke: #000000; stroke-width: 0.6"/> </g> </g> </g> <g id="ytick_22"> <g id="line2d_38"> <g> <use href="#m4debb564f0" x="56.16" y="129.315" style="stroke: #000000; stroke-width: 0.6"/> </g> </g> </g> <g id="ytick_23"> <g id="line2d_39"> <g> <use href="#m4debb564f0" x="56.16" y="125.535" style="stroke: #000000; stroke-width: 0.6"/> </g> </g> </g> <g id="ytick_24"> <g id="line2d_40"> <g> <use href="#m4debb564f0" x="56.16" y="122.260" style="stroke: #000000; stroke-width: 0.6"/> </g> </g> </g> <g id="ytick_25"> <g id="line2d_41"> <g> <use href="#m4debb564f0" x="56.16" y="119.372" style="stroke: #000000; stroke-width: 0.6"/> </g> </g> </g> <g id="ytick_26"> <g id="line2d_42"> <g> <use href="#m4debb564f0" x="56.16" y="99.790" style="stroke: #000000; stroke-width: 0.6"/> </g> </g> </g> <g id="ytick_27"> <g id="line2d_43"> <g> <use href="#m4debb564f0" x="56.16" y="89.846" style="stroke: #000000; stroke-width: 0.6"/> </g> </g> </g> <g id="ytick_28"> <g id="line2d_44"> <g> <use href="#m4debb564f0" x="56.16" y="82.791" style="stroke: #000000; stroke-width: 0.6"/> </g> </g> </g> <g id="ytick_29"> <g id="line2d_45"> <g> <use href="#m4debb564f0" x="56.16" y="77.319" style="stroke: #000000; stroke-width: 0.6"/> </g> </g> </g> <g id="ytick_30"> <g id="line2d_46"> <g> <use href="#m4debb564f0" x="56.16" y="72.848" style="stroke: #000000; stroke-width: 0.6"/> </g> </g> </g> <g id="ytick_31"> <g id="line2d_47"> <g> <use href="#m4debb564f0" x="56.16" y="69.068" style="stroke: #000000; stroke-width: 0.6"/> </g> </g> </g> <g id="ytick_32"> <g id="line2d_48"> <g> <use href="#m4debb564f0" x="56.16" y="65.793" style="stroke: #000000; stroke-width: 0.6"/> </g> </g> </g> <g id="ytick_33"> <g id="line2d_49"> <g> <use href="#m4debb564f0" x="56.16" y="62.905" style="stroke: #000000; stroke-width: 0.6"/> </g> </g> </g> <g id="ytick_34"> <g id="line2d_50"> <g> <use href="#m4debb564f0" x="56.16" y="43.323" style="stroke: #000000; stroke-width: 0.6"/> </g> </g> </g> <g id="ytick_35"> <g id="line2d_51"> <g> <use href="#m4debb564f0" x="56.16" y="33.380" style="stroke: #000000; stroke-width: 0.6"/> </g> </g> </g> <g id="ytick_36"> <g id="line2d_52"> <g> <use href="#m4debb564f0" x="56.16" y="26.325" style="stroke: #000000; stroke-width: 0.6"/> </g> </g> </g> <g id="text_22">  <g transform="translate(19.580 147.795) rotate(-90) scale(0.1 -0.1)"> <defs> <path id="DejaVuSans-66" d="M 2375 4863 L 2375 4384 L 1825 4384 Q 1516 4384 1395 4259 Q 1275 4134 1275 3809 L 1275 3500 L 2222 3500 L 2222 3053 L 1275 3053 L 1275 0 L 697 0 L 697 3053 L 147 3053 L 147 3500 L 697 3500 L 697 3744 Q 697 4328 969 4595 Q 1241 4863 1831 4863 L 2375 4863 z " transform="scale(0.015)"/> <path id="DejaVuSans-5b" d="M 550 4863 L 1875 4863 L 1875 4416 L 1125 4416 L 1125 -397 L 1875 -397 L 1875 -844 L 550 -844 L 550 4863 z " transform="scale(0.015)"/> <path id="DejaVuSans-7a" d="M 353 3500 L 3084 3500 L 3084 2975 L 922 459 L 3084 459 L 3084 0 L 275 0 L 275 525 L 2438 3041 L 353 3041 L 353 3500 z " transform="scale(0.015)"/> <path id="DejaVuSans-5d" d="M 1947 4863 L 1947 -844 L 622 -844 L 622 -397 L 1369 -397 L 1369 4416 L 622 4416 L 622 4863 L 1947 4863 z " transform="scale(0.015)"/> </defs> <use href="#DejaVuSans-66"/> <use href="#DejaVuSans-20" transform="translate(35.205 0)"/> <use href="#DejaVuSans-5b" transform="translate(66.992 0)"/> <use href="#DejaVuSans-48" transform="translate(106.005 0)"/> <use href="#DejaVuSans-7a" transform="translate(181.201 0)"/> <use href="#DejaVuSans-5d" transform="translate(233.691 0)"/> </g> </g> </g> <g id="patch_3"> <path d="M 56.16 246.72 L 56.16 21.6 " style="fill: none; stroke: #000000; stroke-width: 0.8; stroke-linejoin: miter; stroke-linecap: square"/> </g> <g id="patch_4"> <path d="M 406.08 246.72 L 406.08 21.6 " style="fill: none; stroke: #000000; stroke-width: 0.8; stroke-linejoin: miter; stroke-linecap: square"/> </g> <g id="patch_5"> <path d="M 56.16 246.72 L 406.08 246.72 " style="fill: none; stroke: #000000; stroke-width: 0.8; stroke-linejoin: miter; stroke-linecap: square"/> </g> <g id="patch_6"> <path d="M 56.16 21.6 L 406.08 21.6 " style="fill: none; stroke: #000000; stroke-width: 0.8; stroke-linejoin: miter; stroke-linecap: square"/> </g> </g> <g id="axes_2"> <g id="matplotlib.axis_3"> <g id="xtick_17"> <g id="line2d_53"> <defs> <path id="m9367050270" d="M 0 0 L 0 5 " style="stroke: #ff0000; stroke-width: 1.5"/> </defs> <g> <use href="#m9367050270" x="91.152" y="21.6" style="fill: #ff0000; stroke: #ff0000; stroke-width: 1.5"/> </g> </g> <g id="text_23">  <g style="fill: #ff0000" transform="translate(73.199 19.520) scale(0.1 -0.1)"> <defs> <path id="DejaVuSans-2d" d="M 313 2009 L 1997 2009 L 1997 1497 L 313 1497 L 313 2009 z " transform="scale(0.015)"/> <path id="DejaVuSans-38" d="M 2034 2216 Q 1584 2216 1326 1975 Q 1069 1734 1069 1313 Q 1069 891 1326 650 Q 1584 409 2034 409 Q 2484 409 2743 651 Q 3003 894 3003 1313 Q 3003 1734 2745 1975 Q 2488 2216 2034 2216 z M 1403 2484 Q 997 2584 770 2862 Q 544 3141 544 3541 Q 544 4100 942 4425 Q 1341 4750 2034 4750 Q 2731 4750 3128 4425 Q 3525 4100 3525 3541 Q 3525 3141 3298 2862 Q 3072 2584 2669 2484 Q 3125 2378 3379 2068 Q 3634 1759 3634 1313 Q 3634 634 3220 271 Q 2806 -91 2034 -91 Q 1263 -91 848 271 Q 434 634 434 1313 Q 434 1759 690 2068 Q 947 2378 1403 2484 z M 1172 3481 Q 1172 3119 1398 2916 Q 1625 2713 2034 2713 Q 2441 2713 2670 2916 Q 2900 3119 2900 3481 Q 2900 3844 2670 4047 Q 2441 4250 2034 4250 Q 1625 4250 1398 4047 Q 1172 3844 1172 3481 z " transform="scale(0.015)"/> <path id="DejaVuSans-64" d="M 2906 2969 L 2906 4863 L 3481 4863 L 3481 0 L 2906 0 L 2906 525 Q 2725 213 2448 61 Q 2172 -91 1784 -91 Q 1150 -91 751 415 Q 353 922 353 1747 Q 353 2572 751 3078 Q 1150 3584 1784 3584 Q 2172 3584 2448 3432 Q 2725 3281 2906 2969 z M 947 1747 Q 947 1113 1208 752 Q 1469 391 1925 391 Q 2381 391 2643 752 Q 2906 1113 2906 1747 Q 2906 2381 2643 2742 Q 2381 3103 1925 3103 Q 1469 3103 1208 2742 Q 947 2381 947 1747 z " transform="scale(0.015)"/> <path id="DejaVuSans-42" d="M 1259 2228 L 1259 519 L 2272 519 Q 2781 519 3026 730 Q 3272 941 3272 1375 Q 3272 1813 3026 2020 Q 2781 2228 2272 2228 L 1259 2228 z M 1259 4147 L 1259 2741 L 2194 2741 Q 2656 2741 2882 2914 Q 3109 3088 3109 3444 Q 3109 3797 2882 3972 Q 2656 4147 2194 4147 L 1259 4147 z M 628 4666 L 2241 4666 Q 2963 4666 3353 4366 Q 3744 4066 3744 3513 Q 3744 3084 3544 2831 Q 3344 2578 2956 2516 Q 3422 2416 3680 2098 Q 3938 1781 3938 1306 Q 3938 681 3513 340 Q 3088 0 2303 0 L 628 0 L 628 4666 z " transform="scale(0.015)"/> </defs> <use href="#DejaVuSans-2d"/> <use href="#DejaVuSans-31" transform="translate(36.083 0)"/> <use href="#DejaVuSans-38" transform="translate(99.707 0)"/> <use href="#DejaVuSans-30" transform="translate(163.330 0)"/> <use href="#DejaVuSans-64" transform="translate(226.953 0)"/> <use href="#DejaVuSans-42" transform="translate(290.429 0)"/> </g> </g> </g> <g id="xtick_18"> <g id="line2d_54"> <g> <use href="#m9367050270" x="161.136" y="21.6" style="fill: #ff0000; stroke: #ff0000; stroke-width: 1.5"/> </g> </g> <g id="text_24">  <g style="fill: #ff0000" transform="translate(143.183 19.520) scale(0.1 -0.1)"> <defs> <path id="DejaVuSans-36" d="M 2113 2584 Q 1688 2584 1439 2293 Q 1191 2003 1191 1497 Q 1191 994 1439 701 Q 1688 409 2113 409 Q 2538 409 2786 701 Q 3034 994 3034 1497 Q 3034 2003 2786 2293 Q 2538 2584 2113 2584 z M 3366 4563 L 3366 3988 Q 3128 4100 2886 4159 Q 2644 4219 2406 4219 Q 1781 4219 1451 3797 Q 1122 3375 1075 2522 Q 1259 2794 1537 2939 Q 1816 3084 2150 3084 Q 2853 3084 3261 2657 Q 3669 2231 3669 1497 Q 3669 778 3244 343 Q 2819 -91 2113 -91 Q 1303 -91 875 529 Q 447 1150 447 2328 Q 447 3434 972 4092 Q 1497 4750 2381 4750 Q 2619 4750 2861 4703 Q 3103 4656 3366 4563 z " transform="scale(0.015)"/> </defs> <use href="#DejaVuSans-2d"/> <use href="#DejaVuSans-31" transform="translate(36.083 0)"/> <use href="#DejaVuSans-36" transform="translate(99.707 0)"/> <use href="#DejaVuSans-30" transform="translate(163.330 0)"/> <use href="#DejaVuSans-64" transform="translate(226.953 0)"/> <use href="#DejaVuSans-42" transform="translate(290.429 0)"/> </g> </g> </g> <g id="xtick_19"> <g id="line2d_55"> <g> <use href="#m9367050270" x="231.12" y="21.6" style="fill: #ff0000; stroke: #ff0000; stroke-width: 1.5"/> </g> </g> <g id="text_25">  <g style="fill: #ff0000" transform="translate(213.167 19.520) scale(0.1 -0.1)"> <defs> <path id="DejaVuSans-34" d="M 2419 4116 L 825 1625 L 2419 1625 L 2419 4116 z M 2253 4666 L 3047 4666 L 3047 1625 L 3713 1625 L 3713 1100 L 3047 1100 L 3047 0 L 2419 0 L 2419 1100 L 313 1100 L 313 1709 L 2253 4666 z " transform="scale(0.015)"/> </defs> <use href="#DejaVuSans-2d"/> <use href="#DejaVuSans-31" transform="translate(36.083 0)"/> <use href="#DejaVuSans-34" transform="translate(99.707 0)"/> <use href="#DejaVuSans-30" transform="translate(163.330 0)"/> <use href="#DejaVuSans-64" transform="translate(226.953 0)"/> <use href="#DejaVuSans-42" transform="translate(290.429 0)"/> </g> </g> </g> <g id="xtick_20"> <g id="line2d_56"> <g> <use href="#m9367050270" x="301.104" y="21.6" style="fill: #ff0000; stroke: #ff0000; stroke-width: 1.5"/> </g> </g> <g id="text_26">  <g style="fill: #ff0000" transform="translate(283.151 19.520) scale(0.1 -0.1)"> <use href="#DejaVuSans-2d"/> <use href="#DejaVuSans-31" transform="translate(36.083 0)"/> <use href="#DejaVuSans-32" transform="translate(99.707 0)"/> <use href="#DejaVuSans-30" transform="translate(163.330 0)"/> <use href="#DejaVuSans-64" transform="translate(226.953 0)"/> <use href="#DejaVuSans-42" transform="translate(290.429 0)"/> </g> </g> </g> <g id="xtick_21"> <g id="line2d_57"> <g> <use href="#m9367050270" x="371.088" y="21.6" style="fill: #ff0000; stroke: #ff0000; stroke-width: 1.5"/> </g> </g> <g id="text_27">  <g style="fill: #ff0000" transform="translate(353.135 19.520) scale(0.1 -0.1)"> <use href="#DejaVuSans-2d"/> <use href="#DejaVuSans-31" transform="translate(36.083 0)"/> <use href="#DejaVuSans-30" transform="translate(99.707 0)"/> <use href="#DejaVuSans-30" transform="translate(163.330 0)"/> <use href="#DejaVuSans-64" transform="translate(226.953 0)"/> <use href="#DejaVuSans-42" transform="translate(290.429 0)"/> </g> </g> </g> </g> <g id="line2d_58"> <path d="M 133.142 60.321 L 137.691 73.334 L 137.701 94.317 L 128.940 111.316 L 148.198 122.063 L 200.866 138.257 L 227.270 152.558 L 227.284 156.256 L 199.629 160.728 L 148.014 173.255 L 139.277 177.726 L 153.687 184.160 L 99.882 192.478 L 73.673 201.470 L 64.908 210.139 L 64.901 220.975 L 73.656 229.965 L 73.701 240.310 L 70.678 246.72 " clip-path="url(#pa3ba8d6958)" style="fill: none; stroke: #bfbf00; stroke-width: 1.5; stroke-linecap: square"/> </g> <g id="line2d_59"> <path d="M 400.831 60.321 L 380.168 79.657 L 334.353 88.845 L 301.102 111.316 L 378.095 149.526 L 383.342 154.212 L 367.588 161.924 L 323.866 167.474 L 301.096 183.843 L 236.380 190.253 L 271.407 246.72 " clip-path="url(#pa3ba8d6958)" style="fill: none; stroke: #bfbf00; stroke-width: 1.5; stroke-linecap: square"/> </g> <g id="patch_7"> <path d="M 56.16 246.72 L 56.16 21.6 " style="fill: none; stroke: #000000; stroke-width: 0.8; stroke-linejoin: miter; stroke-linecap: square"/> </g> <g id="patch_8"> <path d="M 406.08 246.72 L 406.08 21.6 " style="fill: none; stroke: #000000; stroke-width: 0.8; stroke-linejoin: miter; stroke-linecap: square"/> </g> <g id="patch_9"> <path d="M 56.16 246.72 L 406.08 246.72 " style="fill: none; stroke: #000000; stroke-width: 0.8; stroke-linejoin: miter; stroke-linecap: square"/> </g> <g id="patch_10"> <path d="M 56.16 21.6 L 406.08 21.6 " style="fill: none; stroke: #000000; stroke-width: 0.8; stroke-linejoin: miter; stroke-linecap: square"/> </g> </g> <g id="axes_3"> <g id="patch_11"> <path d="M 428.112 246.72 L 439.368 246.72 L 439.368 21.6 L 428.112 21.6 L 428.112 246.72 z " style="fill: none; opacity: 0"/> </g> <g id="matplotlib.axis_4"/> <g id="matplotlib.axis_5"> <g id="ytick_37"> <g id="line2d_60"> <defs> <path id="m6f4744ce73" d="M 0 0 L 3.5 0 " style="stroke: #000000; stroke-width: 0.8"/> </defs> <g> <use href="#m6f4744ce73" x="439.368" y="246.72" style="stroke: #000000; stroke-width: 0.8"/> </g> </g> <g id="text_28">  <g transform="translate(446.368 250.519) scale(0.1 -0.1)"> <use href="#DejaVuSans-2212"/> <use href="#DejaVuSans-35" transform="translate(83.789 0)"/> </g> </g> </g> <g id="ytick_38"> <g id="line2d_61"> <g> <use href="#m6f4744ce73" x="439.368" y="201.696" style="stroke: #000000; stroke-width: 0.8"/> </g> </g> <g id="text_29">  <g transform="translate(446.368 205.495) scale(0.1 -0.1)"> <use href="#DejaVuSans-30"/> </g> </g> </g> <g id="ytick_39"> <g id="line2d_62"> <g> <use href="#m6f4744ce73" x="439.368" y="156.672" style="stroke: #000000; stroke-width: 0.8"/> </g> </g> <g id="text_30">  <g transform="translate(446.368 160.471) scale(0.1 -0.1)"> <use href="#DejaVuSans-35"/> </g> </g> </g> <g id="ytick_40"> <g id="line2d_63"> <g> <use href="#m6f4744ce73" x="439.368" y="111.648" style="stroke: #000000; stroke-width: 0.8"/> </g> </g> <g id="text_31">  <g transform="translate(446.368 115.447) scale(0.1 -0.1)"> <use href="#DejaVuSans-31"/> <use href="#DejaVuSans-30" transform="translate(63.623 0)"/> </g> </g> </g> <g id="ytick_41"> <g id="line2d_64"> <g> <use href="#m6f4744ce73" x="439.368" y="66.624" style="stroke: #000000; stroke-width: 0.8"/> </g> </g> <g id="text_32">  <g transform="translate(446.368 70.423) scale(0.1 -0.1)"> <use href="#DejaVuSans-31"/> <use href="#DejaVuSans-35" transform="translate(63.623 0)"/> </g> </g> </g> <g id="ytick_42"> <g id="line2d_65"> <g> <use href="#m6f4744ce73" x="439.368" y="21.6" style="stroke: #000000; stroke-width: 0.8"/> </g> </g> <g id="text_33">  <g transform="translate(446.368 25.399) scale(0.1 -0.1)"> <use href="#DejaVuSans-32"/> <use href="#DejaVuSans-30" transform="translate(63.623 0)"/> </g> </g> </g> <g id="text_34">  <g transform="translate(472.708 216.944) rotate(-90) scale(0.1 -0.1)"> <defs> <path id="DejaVuSans-73" d="M 2834 3397 L 2834 2853 Q 2591 2978 2328 3040 Q 2066 3103 1784 3103 Q 1356 3103 1142 2972 Q 928 2841 928 2578 Q 928 2378 1081 2264 Q 1234 2150 1697 2047 L 1894 2003 Q 2506 1872 2764 1633 Q 3022 1394 3022 966 Q 3022 478 2636 193 Q 2250 -91 1575 -91 Q 1294 -91 989 -36 Q 684 19 347 128 L 347 722 Q 666 556 975 473 Q 1284 391 1588 391 Q 1994 391 2212 530 Q 2431 669 2431 922 Q 2431 1156 2273 1281 Q 2116 1406 1581 1522 L 1381 1569 Q 847 1681 609 1914 Q 372 2147 372 2553 Q 372 3047 722 3315 Q 1072 3584 1716 3584 Q 2034 3584 2315 3537 Q 2597 3491 2834 3397 z " transform="scale(0.015)"/> <path id="DejaVuSans-69" d="M 603 3500 L 1178 3500 L 1178 0 L 603 0 L 603 3500 z M 603 4863 L 1178 4863 L 1178 4134 L 603 4134 L 603 4863 z " transform="scale(0.015)"/> <path id="DejaVuSans-75" d="M 544 1381 L 544 3500 L 1119 3500 L 1119 1403 Q 1119 906 1312 657 Q 1506 409 1894 409 Q 2359 409 2629 706 Q 2900 1003 2900 1516 L 2900 3500 L 3475 3500 L 3475 0 L 2900 0 L 2900 538 Q 2691 219 2414 64 Q 2138 -91 1772 -91 Q 1169 -91 856 284 Q 544 659 544 1381 z M 1991 3584 L 1991 3584 z " transform="scale(0.015)"/> <path id="DejaVuSans-61" d="M 2194 1759 Q 1497 1759 1228 1600 Q 959 1441 959 1056 Q 959 750 1161 570 Q 1363 391 1709 391 Q 2188 391 2477 730 Q 2766 1069 2766 1631 L 2766 1759 L 2194 1759 z M 3341 1997 L 3341 0 L 2766 0 L 2766 531 Q 2569 213 2275 61 Q 1981 -91 1556 -91 Q 1019 -91 701 211 Q 384 513 384 1019 Q 384 1609 779 1909 Q 1175 2209 1959 2209 L 2766 2209 L 2766 2266 Q 2766 2663 2505 2880 Q 2244 3097 1772 3097 Q 1472 3097 1187 3025 Q 903 2953 641 2809 L 641 3341 Q 956 3463 1253 3523 Q 1550 3584 1831 3584 Q 2591 3584 2966 3190 Q 3341 2797 3341 1997 z " transform="scale(0.015)"/> <path id="DejaVuSans-6c" d="M 603 4863 L 1178 4863 L 1178 0 L 603 0 L 603 4863 z " transform="scale(0.015)"/> <path id="DejaVuSans-6d" d="M 3328 2828 Q 3544 3216 3844 3400 Q 4144 3584 4550 3584 Q 5097 3584 5394 3201 Q 5691 2819 5691 2113 L 5691 0 L 5113 0 L 5113 2094 Q 5113 2597 4934 2840 Q 4756 3084 4391 3084 Q 3944 3084 3684 2787 Q 3425 2491 3425 1978 L 3425 0 L 2847 0 L 2847 2094 Q 2847 2600 2669 2842 Q 2491 3084 2119 3084 Q 1678 3084 1418 2786 Q 1159 2488 1159 1978 L 1159 0 L 581 0 L 581 3500 L 1159 3500 L 1159 2956 Q 1356 3278 1631 3431 Q 1906 3584 2284 3584 Q 2666 3584 2933 3390 Q 3200 3197 3328 2828 z " transform="scale(0.015)"/> <path id="DejaVuSans-76" d="M 191 3500 L 800 3500 L 1894 563 L 2988 3500 L 3597 3500 L 2284 0 L 1503 0 L 191 3500 z " transform="scale(0.015)"/> <path id="DejaVuSans-67" d="M 2906 1791 Q 2906 2416 2648 2759 Q 2391 3103 1925 3103 Q 1463 3103 1205 2759 Q 947 2416 947 1791 Q 947 1169 1205 825 Q 1463 481 1925 481 Q 2391 481 2648 825 Q 2906 1169 2906 1791 z M 3481 434 Q 3481 -459 3084 -895 Q 2688 -1331 1869 -1331 Q 1566 -1331 1297 -1286 Q 1028 -1241 775 -1147 L 775 -588 Q 1028 -725 1275 -790 Q 1522 -856 1778 -856 Q 2344 -856 2625 -561 Q 2906 -266 2906 331 L 2906 616 Q 2728 306 2450 153 Q 2172 0 1784 0 Q 1141 0 747 490 Q 353 981 353 1791 Q 353 2603 747 3093 Q 1141 3584 1784 3584 Q 2172 3584 2450 3431 Q 2728 3278 2906 2969 L 2906 3500 L 3481 3500 L 3481 434 z " transform="scale(0.015)"/> </defs> <use href="#DejaVuSans-72"/> <use href="#DejaVuSans-65" transform="translate(38.863 0)"/> <use href="#DejaVuSans-73" transform="translate(100.386 0)"/> <use href="#DejaVuSans-69" transform="translate(152.486 0)"/> <use href="#DejaVuSans-64" transform="translate(180.269 0)"/> <use href="#DejaVuSans-75" transform="translate(243.746 0)"/> <use href="#DejaVuSans-61" transform="translate(307.125 0)"/> <use href="#DejaVuSans-6c" transform="translate(368.404 0)"/> <use href="#DejaVuSans-20" transform="translate(396.187 0)"/> <use href="#DejaVuSans-5b" transform="translate(427.974 0)"/> <use href="#DejaVuSans-64" transform="translate(466.988 0)"/> <use href="#DejaVuSans-42" transform="translate(530.464 0)"/> <use href="#DejaVuSans-5d" transform="translate(599.068 0)"/> <use href="#DejaVuSans-20" transform="translate(638.082 0)"/> <use href="#DejaVuSans-66" transform="translate(669.869 0)"/> <use href="#DejaVuSans-72" transform="translate(705.074 0)"/> <use href="#DejaVuSans-6f" transform="translate(743.937 0)"/> <use href="#DejaVuSans-6d" transform="translate(805.119 0)"/> <use href="#DejaVuSans-20" transform="translate(902.531 0)"/> <use href="#DejaVuSans-61" transform="translate(934.318 0)"/> <use href="#DejaVuSans-76" transform="translate(995.597 0)"/> <use href="#DejaVuSans-65" transform="translate(1054.777 0)"/> <use href="#DejaVuSans-72" transform="translate(1116.300 0)"/> <use href="#DejaVuSans-61" transform="translate(1157.414 0)"/> <use href="#DejaVuSans-67" transform="translate(1218.693 0)"/> <use href="#DejaVuSans-65" transform="translate(1282.169 0)"/> <use href="#DejaVuSans-20" transform="translate(1343.693 0)"/> <use href="#DejaVuSans-63" transform="translate(1375.480 0)"/> <use href="#DejaVuSans-75" transform="translate(1430.460 0)"/> <use href="#DejaVuSans-72" transform="translate(1493.839 0)"/> <use href="#DejaVuSans-76" transform="translate(1534.953 0)"/> <use href="#DejaVuSans-65" transform="translate(1594.132 0)"/> </g> </g> </g> <g id="patch_12"> <path d="M 428.112 246.72 L 428.112 21.6 " style="fill: none; stroke: #000000; stroke-width: 0.8; stroke-linejoin: miter; stroke-linecap: square"/> </g> <g id="patch_13"> <path d="M 439.368 246.72 L 439.368 21.6 " style="fill: none; stroke: #000000; stroke-width: 0.8; stroke-linejoin: miter; stroke-linecap: square"/> </g> <g id="patch_14"> <path d="M 428.112 246.72 L 439.368 246.72 " style="fill: none; stroke: #000000; stroke-width: 0.8; stroke-linejoin: miter; stroke-linecap: square"/> </g> <g id="patch_15"> <path d="M 428.112 21.6 L 439.368 21.6 " style="fill: none; stroke: #000000; stroke-width: 0.8; stroke-linejoin: miter; stroke-linecap: square"/> </g> </g> <g id="axes_4"> <g id="patch_16"> <path d="M 56.16 535.68 L 406.08 535.68 L 406.08 310.56 L 56.16 310.56 L 56.16 535.68 z " style="fill: none; opacity: 0"/> </g> <g id="matplotlib.axis_6"> <g id="xtick_22"> <g id="line2d_66"> <g> <use href="#m5c0e80b0ad" x="56.16" y="535.68" style="stroke: #000000; stroke-width: 0.8"/> </g> </g> <g id="text_35">  <g transform="translate(52.978 550.278) scale(0.1 -0.1)"> <use href="#DejaVuSans-31"/> </g> </g> </g> <g id="xtick_23"> <g id="line2d_67"> <g> <use href="#m5c0e80b0ad" x="78.735" y="535.68" style="stroke: #000000; stroke-width: 0.8"/> </g> </g> <g id="text_36">  <g transform="translate(75.554 550.278) scale(0.1 -0.1)"> <use href="#DejaVuSans-33"/> </g> </g> </g> <g id="xtick_24"> <g id="line2d_68"> <g> <use href="#m5c0e80b0ad" x="101.310" y="535.68" style="stroke: #000000; stroke-width: 0.8"/> </g> </g> <g id="text_37">  <g transform="translate(98.129 550.278) scale(0.1 -0.1)"> <use href="#DejaVuSans-35"/> </g> </g> </g> <g id="xtick_25"> <g id="line2d_69"> <g> <use href="#m5c0e80b0ad" x="123.886" y="535.68" style="stroke: #000000; stroke-width: 0.8"/> </g> </g> <g id="text_38">  <g transform="translate(120.705 550.278) scale(0.1 -0.1)"> <use href="#DejaVuSans-37"/> </g> </g> </g> <g id="xtick_26"> <g id="line2d_70"> <g> <use href="#m5c0e80b0ad" x="146.461" y="535.68" style="stroke: #000000; stroke-width: 0.8"/> </g> </g> <g id="text_39">  <g transform="translate(143.280 550.278) scale(0.1 -0.1)"> <use href="#DejaVuSans-39"/> </g> </g> </g> <g id="xtick_27"> <g id="line2d_71"> <g> <use href="#m5c0e80b0ad" x="169.037" y="535.68" style="stroke: #000000; stroke-width: 0.8"/> </g> </g> <g id="text_40">  <g transform="translate(162.674 550.278) scale(0.1 -0.1)"> <use href="#DejaVuSans-31"/> <use href="#DejaVuSans-31" transform="translate(63.623 0)"/> </g> </g> </g> <g id="xtick_28"> <g id="line2d_72"> <g> <use href="#m5c0e80b0ad" x="191.612" y="535.68" style="stroke: #000000; stroke-width: 0.8"/> </g> </g> <g id="text_41">  <g transform="translate(185.250 550.278) scale(0.1 -0.1)"> <use href="#DejaVuSans-31"/> <use href="#DejaVuSans-33" transform="translate(63.623 0)"/> </g> </g> </g> <g id="xtick_29"> <g id="line2d_73"> <g> <use href="#m5c0e80b0ad" x="214.188" y="535.68" style="stroke: #000000; stroke-width: 0.8"/> </g> </g> <g id="text_42">  <g transform="translate(207.825 550.278) scale(0.1 -0.1)"> <use href="#DejaVuSans-31"/> <use href="#DejaVuSans-35" transform="translate(63.623 0)"/> </g> </g> </g> <g id="xtick_30"> <g id="line2d_74"> <g> <use href="#m5c0e80b0ad" x="236.763" y="535.68" style="stroke: #000000; stroke-width: 0.8"/> </g> </g> <g id="text_43">  <g transform="translate(230.401 550.278) scale(0.1 -0.1)"> <use href="#DejaVuSans-31"/> <use href="#DejaVuSans-37" transform="translate(63.623 0)"/> </g> </g> </g> <g id="xtick_31"> <g id="line2d_75"> <g> <use href="#m5c0e80b0ad" x="259.339" y="535.68" style="stroke: #000000; stroke-width: 0.8"/> </g> </g> <g id="text_44">  <g transform="translate(252.976 550.278) scale(0.1 -0.1)"> <use href="#DejaVuSans-31"/> <use href="#DejaVuSans-39" transform="translate(63.623 0)"/> </g> </g> </g> <g id="xtick_32"> <g id="line2d_76"> <g> <use href="#m5c0e80b0ad" x="281.914" y="535.68" style="stroke: #000000; stroke-width: 0.8"/> </g> </g> <g id="text_45">  <g transform="translate(275.552 550.278) scale(0.1 -0.1)"> <use href="#DejaVuSans-32"/> <use href="#DejaVuSans-31" transform="translate(63.623 0)"/> </g> </g> </g> <g id="xtick_33"> <g id="line2d_77"> <g> <use href="#m5c0e80b0ad" x="304.490" y="535.68" style="stroke: #000000; stroke-width: 0.8"/> </g> </g> <g id="text_46">  <g transform="translate(298.127 550.278) scale(0.1 -0.1)"> <use href="#DejaVuSans-32"/> <use href="#DejaVuSans-33" transform="translate(63.623 0)"/> </g> </g> </g> <g id="xtick_34"> <g id="line2d_78"> <g> <use href="#m5c0e80b0ad" x="327.065" y="535.68" style="stroke: #000000; stroke-width: 0.8"/> </g> </g> <g id="text_47">  <g transform="translate(320.703 550.278) scale(0.1 -0.1)"> <use href="#DejaVuSans-32"/> <use href="#DejaVuSans-35" transform="translate(63.623 0)"/> </g> </g> </g> <g id="xtick_35"> <g id="line2d_79"> <g> <use href="#m5c0e80b0ad" x="349.641" y="535.68" style="stroke: #000000; stroke-width: 0.8"/> </g> </g> <g id="text_48">  <g transform="translate(343.278 550.278) scale(0.1 -0.1)"> <use href="#DejaVuSans-32"/> <use href="#DejaVuSans-37" transform="translate(63.623 0)"/> </g> </g> </g> <g id="xtick_36"> <g id="line2d_80"> <g> <use href="#m5c0e80b0ad" x="372.216" y="535.68" style="stroke: #000000; stroke-width: 0.8"/> </g> </g> <g id="text_49">  <g transform="translate(365.854 550.278) scale(0.1 -0.1)"> <use href="#DejaVuSans-32"/> <use href="#DejaVuSans-39" transform="translate(63.623 0)"/> </g> </g> </g> <g id="xtick_37"> <g id="line2d_81"> <g> <use href="#m5c0e80b0ad" x="394.792" y="535.68" style="stroke: #000000; stroke-width: 0.8"/> </g> </g> <g id="text_50">  <g transform="translate(388.429 550.278) scale(0.1 -0.1)"> <use href="#DejaVuSans-33"/> <use href="#DejaVuSans-31" transform="translate(63.623 0)"/> </g> </g> </g> <g id="text_51">  <g transform="translate(155.701 563.956) scale(0.1 -0.1)"> <use href="#DejaVuSans-4f"/> <use href="#DejaVuSans-63" transform="translate(78.710 0)"/> <use href="#DejaVuSans-74" transform="translate(133.691 0)"/> <use href="#DejaVuSans-6f" transform="translate(172.900 0)"/> <use href="#DejaVuSans-62" transform="translate(234.082 0)"/> <use href="#DejaVuSans-65" transform="translate(297.558 0)"/> <use href="#DejaVuSans-72" transform="translate(359.082 0)"/> <use href="#DejaVuSans-20" transform="translate(400.195 0)"/> <use href="#DejaVuSans-32" transform="translate(431.982 0)"/> <use href="#DejaVuSans-30" transform="translate(495.605 0)"/> <use href="#DejaVuSans-32" transform="translate(559.228 0)"/> <use href="#DejaVuSans-33" transform="translate(622.851 0)"/> <use href="#DejaVuSans-20" transform="translate(686.474 0)"/> <use href="#DejaVuSans-4e" transform="translate(718.261 0)"/> <use href="#DejaVuSans-53" transform="translate(793.066 0)"/> <use href="#DejaVuSans-20" transform="translate(856.542 0)"/> <use href="#DejaVuSans-4a" transform="translate(888.330 0)"/> <use href="#DejaVuSans-4e" transform="translate(917.822 0)"/> <use href="#DejaVuSans-45" transform="translate(992.626 0)"/> <use href="#DejaVuSans-20" transform="translate(1055.810 0)"/> <use href="#DejaVuSans-30" transform="translate(1087.597 0)"/> <use href="#DejaVuSans-30" transform="translate(1151.220 0)"/> <use href="#DejaVuSans-20" transform="translate(1214.843 0)"/> <use href="#DejaVuSans-48" transform="translate(1246.630 0)"/> <use href="#DejaVuSans-48" transform="translate(1321.826 0)"/> <use href="#DejaVuSans-4e" transform="translate(1397.021 0)"/> </g> </g> </g> <g id="matplotlib.axis_7"> <g id="ytick_43"> <g id="line2d_82"> <g> <use href="#mcf89a34e70" x="56.16" y="518.681" style="stroke: #000000; stroke-width: 0.8"/> </g> </g> <g id="text_52">  <g transform="translate(25.66 522.481) scale(0.1 -0.1)"> <use href="#DejaVuSans-31" transform="translate(0 0.765)"/> <use href="#DejaVuSans-30" transform="translate(63.623 0.765)"/> <use href="#DejaVuSans-2212" transform="translate(128.203 39.046) scale(0.7)"/> <use href="#DejaVuSans-32" transform="translate(186.855 39.046) scale(0.7)"/> </g> </g> </g> <g id="ytick_44"> <g id="line2d_83"> <g> <use href="#mcf89a34e70" x="56.16" y="462.215" style="stroke: #000000; stroke-width: 0.8"/> </g> </g> <g id="text_53">  <g transform="translate(25.66 466.014) scale(0.1 -0.1)"> <use href="#DejaVuSans-31" transform="translate(0 0.684)"/> <use href="#DejaVuSans-30" transform="translate(63.623 0.684)"/> <use href="#DejaVuSans-2212" transform="translate(128.203 38.965) scale(0.7)"/> <use href="#DejaVuSans-31" transform="translate(186.855 38.965) scale(0.7)"/> </g> </g> </g> <g id="ytick_45"> <g id="line2d_84"> <g> <use href="#mcf89a34e70" x="56.16" y="405.748" style="stroke: #000000; stroke-width: 0.8"/> </g> </g> <g id="text_54">  <g transform="translate(31.56 409.547) scale(0.1 -0.1)"> <use href="#DejaVuSans-31" transform="translate(0 0.765)"/> <use href="#DejaVuSans-30" transform="translate(63.623 0.765)"/> <use href="#DejaVuSans-30" transform="translate(128.203 39.046) scale(0.7)"/> </g> </g> </g> <g id="ytick_46"> <g id="line2d_85"> <g> <use href="#mcf89a34e70" x="56.16" y="349.281" style="stroke: #000000; stroke-width: 0.8"/> </g> </g> <g id="text_55">  <g transform="translate(31.56 353.080) scale(0.1 -0.1)"> <use href="#DejaVuSans-31" transform="translate(0 0.684)"/> <use href="#DejaVuSans-30" transform="translate(63.623 0.684)"/> <use href="#DejaVuSans-31" transform="translate(128.203 38.965) scale(0.7)"/> </g> </g> </g> <g id="ytick_47"> <g id="line2d_86"> <g> <use href="#m4debb564f0" x="56.16" y="535.68" style="stroke: #000000; stroke-width: 0.6"/> </g> </g> </g> <g id="ytick_48"> <g id="line2d_87"> <g> <use href="#m4debb564f0" x="56.16" y="531.208" style="stroke: #000000; stroke-width: 0.6"/> </g> </g> </g> <g id="ytick_49"> <g id="line2d_88"> <g> <use href="#m4debb564f0" x="56.16" y="527.428" style="stroke: #000000; stroke-width: 0.6"/> </g> </g> </g> <g id="ytick_50"> <g id="line2d_89"> <g> <use href="#m4debb564f0" x="56.16" y="524.154" style="stroke: #000000; stroke-width: 0.6"/> </g> </g> </g> <g id="ytick_51"> <g id="line2d_90"> <g> <use href="#m4debb564f0" x="56.16" y="521.265" style="stroke: #000000; stroke-width: 0.6"/> </g> </g> </g> <g id="ytick_52"> <g id="line2d_91"> <g> <use href="#m4debb564f0" x="56.16" y="501.683" style="stroke: #000000; stroke-width: 0.6"/> </g> </g> </g> <g id="ytick_53"> <g id="line2d_92"> <g> <use href="#m4debb564f0" x="56.16" y="491.740" style="stroke: #000000; stroke-width: 0.6"/> </g> </g> </g> <g id="ytick_54"> <g id="line2d_93"> <g> <use href="#m4debb564f0" x="56.16" y="484.685" style="stroke: #000000; stroke-width: 0.6"/> </g> </g> </g> <g id="ytick_55"> <g id="line2d_94"> <g> <use href="#m4debb564f0" x="56.16" y="479.213" style="stroke: #000000; stroke-width: 0.6"/> </g> </g> </g> <g id="ytick_56"> <g id="line2d_95"> <g> <use href="#m4debb564f0" x="56.16" y="474.742" style="stroke: #000000; stroke-width: 0.6"/> </g> </g> </g> <g id="ytick_57"> <g id="line2d_96"> <g> <use href="#m4debb564f0" x="56.16" y="470.961" style="stroke: #000000; stroke-width: 0.6"/> </g> </g> </g> <g id="ytick_58"> <g id="line2d_97"> <g> <use href="#m4debb564f0" x="56.16" y="467.687" style="stroke: #000000; stroke-width: 0.6"/> </g> </g> </g> <g id="ytick_59"> <g id="line2d_98"> <g> <use href="#m4debb564f0" x="56.16" y="464.798" style="stroke: #000000; stroke-width: 0.6"/> </g> </g> </g> <g id="ytick_60"> <g id="line2d_99"> <g> <use href="#m4debb564f0" x="56.16" y="445.216" style="stroke: #000000; stroke-width: 0.6"/> </g> </g> </g> <g id="ytick_61"> <g id="line2d_100"> <g> <use href="#m4debb564f0" x="56.16" y="435.273" style="stroke: #000000; stroke-width: 0.6"/> </g> </g> </g> <g id="ytick_62"> <g id="line2d_101"> <g> <use href="#m4debb564f0" x="56.16" y="428.218" style="stroke: #000000; stroke-width: 0.6"/> </g> </g> </g> <g id="ytick_63"> <g id="line2d_102"> <g> <use href="#m4debb564f0" x="56.16" y="422.746" style="stroke: #000000; stroke-width: 0.6"/> </g> </g> </g> <g id="ytick_64"> <g id="line2d_103"> <g> <use href="#m4debb564f0" x="56.16" y="418.275" style="stroke: #000000; stroke-width: 0.6"/> </g> </g> </g> <g id="ytick_65"> <g id="line2d_104"> <g> <use href="#m4debb564f0" x="56.16" y="414.495" style="stroke: #000000; stroke-width: 0.6"/> </g> </g> </g> <g id="ytick_66"> <g id="line2d_105"> <g> <use href="#m4debb564f0" x="56.16" y="411.220" style="stroke: #000000; stroke-width: 0.6"/> </g> </g> </g> <g id="ytick_67"> <g id="line2d_106"> <g> <use href="#m4debb564f0" x="56.16" y="408.332" style="stroke: #000000; stroke-width: 0.6"/> </g> </g> </g> <g id="ytick_68"> <g id="line2d_107"> <g> <use href="#m4debb564f0" x="56.16" y="388.750" style="stroke: #000000; stroke-width: 0.6"/> </g> </g> </g> <g id="ytick_69"> <g id="line2d_108"> <g> <use href="#m4debb564f0" x="56.16" y="378.806" style="stroke: #000000; stroke-width: 0.6"/> </g> </g> </g> <g id="ytick_70"> <g id="line2d_109"> <g> <use href="#m4debb564f0" x="56.16" y="371.751" style="stroke: #000000; stroke-width: 0.6"/> </g> </g> </g> <g id="ytick_71"> <g id="line2d_110"> <g> <use href="#m4debb564f0" x="56.16" y="366.279" style="stroke: #000000; stroke-width: 0.6"/> </g> </g> </g> <g id="ytick_72"> <g id="line2d_111"> <g> <use href="#m4debb564f0" x="56.16" y="361.808" style="stroke: #000000; stroke-width: 0.6"/> </g> </g> </g> <g id="ytick_73"> <g id="line2d_112"> <g> <use href="#m4debb564f0" x="56.16" y="358.028" style="stroke: #000000; stroke-width: 0.6"/> </g> </g> </g> <g id="ytick_74"> <g id="line2d_113"> <g> <use href="#m4debb564f0" x="56.16" y="354.753" style="stroke: #000000; stroke-width: 0.6"/> </g> </g> </g> <g id="ytick_75"> <g id="line2d_114"> <g> <use href="#m4debb564f0" x="56.16" y="351.865" style="stroke: #000000; stroke-width: 0.6"/> </g> </g> </g> <g id="ytick_76"> <g id="line2d_115"> <g> <use href="#m4debb564f0" x="56.16" y="332.283" style="stroke: #000000; stroke-width: 0.6"/> </g> </g> </g> <g id="ytick_77"> <g id="line2d_116"> <g> <use href="#m4debb564f0" x="56.16" y="322.340" style="stroke: #000000; stroke-width: 0.6"/> </g> </g> </g> <g id="ytick_78"> <g id="line2d_117"> <g> <use href="#m4debb564f0" x="56.16" y="315.285" style="stroke: #000000; stroke-width: 0.6"/> </g> </g> </g> <g id="text_56">  <g transform="translate(19.580 436.755) rotate(-90) scale(0.1 -0.1)"> <use href="#DejaVuSans-66"/> <use href="#DejaVuSans-20" transform="translate(35.205 0)"/> <use href="#DejaVuSans-5b" transform="translate(66.992 0)"/> <use href="#DejaVuSans-48" transform="translate(106.005 0)"/> <use href="#DejaVuSans-7a" transform="translate(181.201 0)"/> <use href="#DejaVuSans-5d" transform="translate(233.691 0)"/> </g> </g> </g> <g id="patch_17"> <path d="M 56.16 535.68 L 56.16 310.56 " style="fill: none; stroke: #000000; stroke-width: 0.8; stroke-linejoin: miter; stroke-linecap: square"/> </g> <g id="patch_18"> <path d="M 406.08 535.68 L 406.08 310.56 " style="fill: none; stroke: #000000; stroke-width: 0.8; stroke-linejoin: miter; stroke-linecap: square"/> </g> <g id="patch_19"> <path d="M 56.16 535.68 L 406.08 535.68 " style="fill: none; stroke: #000000; stroke-width: 0.8; stroke-linejoin: miter; stroke-linecap: square"/> </g> <g id="patch_20"> <path d="M 56.16 310.56 L 406.08 310.56 " style="fill: none; stroke: #000000; stroke-width: 0.8; stroke-linejoin: miter; stroke-linecap: square"/> </g> </g> <g id="axes_5"> <g id="matplotlib.axis_8"> <g id="xtick_38"> <g id="line2d_118"> <g> <use href="#m9367050270" x="91.152" y="310.56" style="fill: #ff0000; stroke: #ff0000; stroke-width: 1.5"/> </g> </g> <g id="text_57">  <g style="fill: #ff0000" transform="translate(73.199 308.480) scale(0.1 -0.1)"> <use href="#DejaVuSans-2d"/> <use href="#DejaVuSans-31" transform="translate(36.083 0)"/> <use href="#DejaVuSans-38" transform="translate(99.707 0)"/> <use href="#DejaVuSans-30" transform="translate(163.330 0)"/> <use href="#DejaVuSans-64" transform="translate(226.953 0)"/> <use href="#DejaVuSans-42" transform="translate(290.429 0)"/> </g> </g> </g> <g id="xtick_39"> <g id="line2d_119"> <g> <use href="#m9367050270" x="161.136" y="310.56" style="fill: #ff0000; stroke: #ff0000; stroke-width: 1.5"/> </g> </g> <g id="text_58">  <g style="fill: #ff0000" transform="translate(143.183 308.480) scale(0.1 -0.1)"> <use href="#DejaVuSans-2d"/> <use href="#DejaVuSans-31" transform="translate(36.083 0)"/> <use href="#DejaVuSans-36" transform="translate(99.707 0)"/> <use href="#DejaVuSans-30" transform="translate(163.330 0)"/> <use href="#DejaVuSans-64" transform="translate(226.953 0)"/> <use href="#DejaVuSans-42" transform="translate(290.429 0)"/> </g> </g> </g> <g id="xtick_40"> <g id="line2d_120"> <g> <use href="#m9367050270" x="231.12" y="310.56" style="fill: #ff0000; stroke: #ff0000; stroke-width: 1.5"/> </g> </g> <g id="text_59">  <g style="fill: #ff0000" transform="translate(213.167 308.480) scale(0.1 -0.1)"> <use href="#DejaVuSans-2d"/> <use href="#DejaVuSans-31" transform="translate(36.083 0)"/> <use href="#DejaVuSans-34" transform="translate(99.707 0)"/> <use href="#DejaVuSans-30" transform="translate(163.330 0)"/> <use href="#DejaVuSans-64" transform="translate(226.953 0)"/> <use href="#DejaVuSans-42" transform="translate(290.429 0)"/> </g> </g> </g> <g id="xtick_41"> <g id="line2d_121"> <g> <use href="#m9367050270" x="301.104" y="310.56" style="fill: #ff0000; stroke: #ff0000; stroke-width: 1.5"/> </g> </g> <g id="text_60">  <g style="fill: #ff0000" transform="translate(283.151 308.480) scale(0.1 -0.1)"> <use href="#DejaVuSans-2d"/> <use href="#DejaVuSans-31" transform="translate(36.083 0)"/> <use href="#DejaVuSans-32" transform="translate(99.707 0)"/> <use href="#DejaVuSans-30" transform="translate(163.330 0)"/> <use href="#DejaVuSans-64" transform="translate(226.953 0)"/> <use href="#DejaVuSans-42" transform="translate(290.429 0)"/> </g> </g> </g> <g id="xtick_42"> <g id="line2d_122"> <g> <use href="#m9367050270" x="371.088" y="310.56" style="fill: #ff0000; stroke: #ff0000; stroke-width: 1.5"/> </g> </g> <g id="text_61">  <g style="fill: #ff0000" transform="translate(353.135 308.480) scale(0.1 -0.1)"> <use href="#DejaVuSans-2d"/> <use href="#DejaVuSans-31" transform="translate(36.083 0)"/> <use href="#DejaVuSans-30" transform="translate(99.707 0)"/> <use href="#DejaVuSans-30" transform="translate(163.330 0)"/> <use href="#DejaVuSans-64" transform="translate(226.953 0)"/> <use href="#DejaVuSans-42" transform="translate(290.429 0)"/> </g> </g> </g> </g> <g id="line2d_123"> <path d="M 133.142 349.281 L 137.691 362.294 L 137.701 383.277 L 128.940 400.276 L 148.198 411.023 L 200.866 427.217 L 227.270 441.518 L 227.284 445.216 L 199.629 449.688 L 148.014 462.215 L 139.277 466.686 L 153.687 473.120 L 99.882 481.438 L 73.673 490.430 L 64.908 499.099 L 64.901 509.935 L 73.656 518.925 L 73.701 529.270 L 70.678 535.68 " clip-path="url(#pbc5c1c9f17)" style="fill: none; stroke: #bfbf00; stroke-width: 1.5; stroke-linecap: square"/> </g> <g id="line2d_124"> <path d="M 400.831 349.281 L 380.168 368.617 L 334.353 377.805 L 301.102 400.276 L 378.095 438.486 L 383.342 443.172 L 367.588 450.884 L 323.866 456.434 L 301.096 472.803 L 236.380 479.213 L 271.407 535.68 " clip-path="url(#pbc5c1c9f17)" style="fill: none; stroke: #bfbf00; stroke-width: 1.5; stroke-linecap: square"/> </g> <g id="patch_21"> <path d="M 56.16 535.68 L 56.16 310.56 " style="fill: none; stroke: #000000; stroke-width: 0.8; stroke-linejoin: miter; stroke-linecap: square"/> </g> <g id="patch_22"> <path d="M 406.08 535.68 L 406.08 310.56 " style="fill: none; stroke: #000000; stroke-width: 0.8; stroke-linejoin: miter; stroke-linecap: square"/> </g> <g id="patch_23"> <path d="M 56.16 535.68 L 406.08 535.68 " style="fill: none; stroke: #000000; stroke-width: 0.8; stroke-linejoin: miter; stroke-linecap: square"/> </g> <g id="patch_24"> <path d="M 56.16 310.56 L 406.08 310.56 " style="fill: none; stroke: #000000; stroke-width: 0.8; stroke-linejoin: miter; stroke-linecap: square"/> </g> </g> <g id="axes_6"> <g id="patch_25"> <path d="M 428.112 535.68 L 439.368 535.68 L 439.368 310.56 L 428.112 310.56 L 428.112 535.68 z " style="fill: none; opacity: 0"/> </g> <g id="matplotlib.axis_9"/> <g id="matplotlib.axis_10"> <g id="ytick_79"> <g id="line2d_125"> <g> <use href="#m6f4744ce73" x="439.368" y="535.68" style="stroke: #000000; stroke-width: 0.8"/> </g> </g> <g id="text_62">  <g transform="translate(446.368 539.479) scale(0.1 -0.1)"> <use href="#DejaVuSans-2212"/> <use href="#DejaVuSans-35" transform="translate(83.789 0)"/> </g> </g> </g> <g id="ytick_80"> <g id="line2d_126"> <g> <use href="#m6f4744ce73" x="439.368" y="490.656" style="stroke: #000000; stroke-width: 0.8"/> </g> </g> <g id="text_63">  <g transform="translate(446.368 494.455) scale(0.1 -0.1)"> <use href="#DejaVuSans-30"/> </g> </g> </g> <g id="ytick_81"> <g id="line2d_127"> <g> <use href="#m6f4744ce73" x="439.368" y="445.632" style="stroke: #000000; stroke-width: 0.8"/> </g> </g> <g id="text_64">  <g transform="translate(446.368 449.431) scale(0.1 -0.1)"> <use href="#DejaVuSans-35"/> </g> </g> </g> <g id="ytick_82"> <g id="line2d_128"> <g> <use href="#m6f4744ce73" x="439.368" y="400.608" style="stroke: #000000; stroke-width: 0.8"/> </g> </g> <g id="text_65">  <g transform="translate(446.368 404.407) scale(0.1 -0.1)"> <use href="#DejaVuSans-31"/> <use href="#DejaVuSans-30" transform="translate(63.623 0)"/> </g> </g> </g> <g id="ytick_83"> <g id="line2d_129"> <g> <use href="#m6f4744ce73" x="439.368" y="355.584" style="stroke: #000000; stroke-width: 0.8"/> </g> </g> <g id="text_66">  <g transform="translate(446.368 359.383) scale(0.1 -0.1)"> <use href="#DejaVuSans-31"/> <use href="#DejaVuSans-35" transform="translate(63.623 0)"/> </g> </g> </g> <g id="ytick_84"> <g id="line2d_130"> <g> <use href="#m6f4744ce73" x="439.368" y="310.56" style="stroke: #000000; stroke-width: 0.8"/> </g> </g> <g id="text_67">  <g transform="translate(446.368 314.359) scale(0.1 -0.1)"> <use href="#DejaVuSans-32"/> <use href="#DejaVuSans-30" transform="translate(63.623 0)"/> </g> </g> </g> <g id="text_68">  <g transform="translate(472.708 505.904) rotate(-90) scale(0.1 -0.1)"> <use href="#DejaVuSans-72"/> <use href="#DejaVuSans-65" transform="translate(38.863 0)"/> <use href="#DejaVuSans-73" transform="translate(100.386 0)"/> <use href="#DejaVuSans-69" transform="translate(152.486 0)"/> <use href="#DejaVuSans-64" transform="translate(180.269 0)"/> <use href="#DejaVuSans-75" transform="translate(243.746 0)"/> <use href="#DejaVuSans-61" transform="translate(307.125 0)"/> <use href="#DejaVuSans-6c" transform="translate(368.404 0)"/> <use href="#DejaVuSans-20" transform="translate(396.187 0)"/> <use href="#DejaVuSans-5b" transform="translate(427.974 0)"/> <use href="#DejaVuSans-64" transform="translate(466.988 0)"/> <use href="#DejaVuSans-42" transform="translate(530.464 0)"/> <use href="#DejaVuSans-5d" transform="translate(599.068 0)"/> <use href="#DejaVuSans-20" transform="translate(638.082 0)"/> <use href="#DejaVuSans-66" transform="translate(669.869 0)"/> <use href="#DejaVuSans-72" transform="translate(705.074 0)"/> <use href="#DejaVuSans-6f" transform="translate(743.937 0)"/> <use href="#DejaVuSans-6d" transform="translate(805.119 0)"/> <use href="#DejaVuSans-20" transform="translate(902.531 0)"/> <use href="#DejaVuSans-61" transform="translate(934.318 0)"/> <use href="#DejaVuSans-76" transform="translate(995.597 0)"/> <use href="#DejaVuSans-65" transform="translate(1054.777 0)"/> <use href="#DejaVuSans-72" transform="translate(1116.300 0)"/> <use href="#DejaVuSans-61" transform="translate(1157.414 0)"/> <use href="#DejaVuSans-67" transform="translate(1218.693 0)"/> <use href="#DejaVuSans-65" transform="translate(1282.169 0)"/> <use href="#DejaVuSans-20" transform="translate(1343.693 0)"/> <use href="#DejaVuSans-63" transform="translate(1375.480 0)"/> <use href="#DejaVuSans-75" transform="translate(1430.460 0)"/> <use href="#DejaVuSans-72" transform="translate(1493.839 0)"/> <use href="#DejaVuSans-76" transform="translate(1534.953 0)"/> <use href="#DejaVuSans-65" transform="translate(1594.132 0)"/> </g> </g> </g> <g id="patch_26"> <path d="M 428.112 535.68 L 428.112 310.56 " style="fill: none; stroke: #000000; stroke-width: 0.8; stroke-linejoin: miter; stroke-linecap: square"/> </g> <g id="patch_27"> <path d="M 439.368 535.68 L 439.368 310.56 " style="fill: none; stroke: #000000; stroke-width: 0.8; stroke-linejoin: miter; stroke-linecap: square"/> </g> <g id="patch_28"> <path d="M 428.112 535.68 L 439.368 535.68 " style="fill: none; stroke: #000000; stroke-width: 0.8; stroke-linejoin: miter; stroke-linecap: square"/> </g> <g id="patch_29"> <path d="M 428.112 310.56 L 439.368 310.56 " style="fill: none; stroke: #000000; stroke-width: 0.8; stroke-linejoin: miter; stroke-linecap: square"/> </g> </g> <g id="axes_7"> <g id="patch_30"> <path d="M 56.16 824.64 L 406.08 824.64 L 406.08 599.52 L 56.16 599.52 L 56.16 824.64 z " style="fill: none; opacity: 0"/> </g> <g id="matplotlib.axis_11"> <g id="xtick_43"> <g id="line2d_131"> <g> <use href="#m5c0e80b0ad" x="56.16" y="824.64" style="stroke: #000000; stroke-width: 0.8"/> </g> </g> <g id="text_69">  <g transform="translate(52.978 839.238) scale(0.1 -0.1)"> <use href="#DejaVuSans-31"/> </g> </g> </g> <g id="xtick_44"> <g id="line2d_132"> <g> <use href="#m5c0e80b0ad" x="78.735" y="824.64" style="stroke: #000000; stroke-width: 0.8"/> </g> </g> <g id="text_70">  <g transform="translate(75.554 839.238) scale(0.1 -0.1)"> <use href="#DejaVuSans-33"/> </g> </g> </g> <g id="xtick_45"> <g id="line2d_133"> <g> <use href="#m5c0e80b0ad" x="101.310" y="824.64" style="stroke: #000000; stroke-width: 0.8"/> </g> </g> <g id="text_71">  <g transform="translate(98.129 839.238) scale(0.1 -0.1)"> <use href="#DejaVuSans-35"/> </g> </g> </g> <g id="xtick_46"> <g id="line2d_134"> <g> <use href="#m5c0e80b0ad" x="123.886" y="824.64" style="stroke: #000000; stroke-width: 0.8"/> </g> </g> <g id="text_72">  <g transform="translate(120.705 839.238) scale(0.1 -0.1)"> <use href="#DejaVuSans-37"/> </g> </g> </g> <g id="xtick_47"> <g id="line2d_135"> <g> <use href="#m5c0e80b0ad" x="146.461" y="824.64" style="stroke: #000000; stroke-width: 0.8"/> </g> </g> <g id="text_73">  <g transform="translate(143.280 839.238) scale(0.1 -0.1)"> <use href="#DejaVuSans-39"/> </g> </g> </g> <g id="xtick_48"> <g id="line2d_136"> <g> <use href="#m5c0e80b0ad" x="169.037" y="824.64" style="stroke: #000000; stroke-width: 0.8"/> </g> </g> <g id="text_74">  <g transform="translate(162.674 839.238) scale(0.1 -0.1)"> <use href="#DejaVuSans-31"/> <use href="#DejaVuSans-31" transform="translate(63.623 0)"/> </g> </g> </g> <g id="xtick_49"> <g id="line2d_137"> <g> <use href="#m5c0e80b0ad" x="191.612" y="824.64" style="stroke: #000000; stroke-width: 0.8"/> </g> </g> <g id="text_75">  <g transform="translate(185.250 839.238) scale(0.1 -0.1)"> <use href="#DejaVuSans-31"/> <use href="#DejaVuSans-33" transform="translate(63.623 0)"/> </g> </g> </g> <g id="xtick_50"> <g id="line2d_138"> <g> <use href="#m5c0e80b0ad" x="214.188" y="824.64" style="stroke: #000000; stroke-width: 0.8"/> </g> </g> <g id="text_76">  <g transform="translate(207.825 839.238) scale(0.1 -0.1)"> <use href="#DejaVuSans-31"/> <use href="#DejaVuSans-35" transform="translate(63.623 0)"/> </g> </g> </g> <g id="xtick_51"> <g id="line2d_139"> <g> <use href="#m5c0e80b0ad" x="236.763" y="824.64" style="stroke: #000000; stroke-width: 0.8"/> </g> </g> <g id="text_77">  <g transform="translate(230.401 839.238) scale(0.1 -0.1)"> <use href="#DejaVuSans-31"/> <use href="#DejaVuSans-37" transform="translate(63.623 0)"/> </g> </g> </g> <g id="xtick_52"> <g id="line2d_140"> <g> <use href="#m5c0e80b0ad" x="259.339" y="824.64" style="stroke: #000000; stroke-width: 0.8"/> </g> </g> <g id="text_78">  <g transform="translate(252.976 839.238) scale(0.1 -0.1)"> <use href="#DejaVuSans-31"/> <use href="#DejaVuSans-39" transform="translate(63.623 0)"/> </g> </g> </g> <g id="xtick_53"> <g id="line2d_141"> <g> <use href="#m5c0e80b0ad" x="281.914" y="824.64" style="stroke: #000000; stroke-width: 0.8"/> </g> </g> <g id="text_79">  <g transform="translate(275.552 839.238) scale(0.1 -0.1)"> <use href="#DejaVuSans-32"/> <use href="#DejaVuSans-31" transform="translate(63.623 0)"/> </g> </g> </g> <g id="xtick_54"> <g id="line2d_142"> <g> <use href="#m5c0e80b0ad" x="304.490" y="824.64" style="stroke: #000000; stroke-width: 0.8"/> </g> </g> <g id="text_80">  <g transform="translate(298.127 839.238) scale(0.1 -0.1)"> <use href="#DejaVuSans-32"/> <use href="#DejaVuSans-33" transform="translate(63.623 0)"/> </g> </g> </g> <g id="xtick_55"> <g id="line2d_143"> <g> <use href="#m5c0e80b0ad" x="327.065" y="824.64" style="stroke: #000000; stroke-width: 0.8"/> </g> </g> <g id="text_81">  <g transform="translate(320.703 839.238) scale(0.1 -0.1)"> <use href="#DejaVuSans-32"/> <use href="#DejaVuSans-35" transform="translate(63.623 0)"/> </g> </g> </g> <g id="xtick_56"> <g id="line2d_144"> <g> <use href="#m5c0e80b0ad" x="349.641" y="824.64" style="stroke: #000000; stroke-width: 0.8"/> </g> </g> <g id="text_82">  <g transform="translate(343.278 839.238) scale(0.1 -0.1)"> <use href="#DejaVuSans-32"/> <use href="#DejaVuSans-37" transform="translate(63.623 0)"/> </g> </g> </g> <g id="xtick_57"> <g id="line2d_145"> <g> <use href="#m5c0e80b0ad" x="372.216" y="824.64" style="stroke: #000000; stroke-width: 0.8"/> </g> </g> <g id="text_83">  <g transform="translate(365.854 839.238) scale(0.1 -0.1)"> <use href="#DejaVuSans-32"/> <use href="#DejaVuSans-39" transform="translate(63.623 0)"/> </g> </g> </g> <g id="xtick_58"> <g id="line2d_146"> <g> <use href="#m5c0e80b0ad" x="394.792" y="824.64" style="stroke: #000000; stroke-width: 0.8"/> </g> </g> <g id="text_84">  <g transform="translate(388.429 839.238) scale(0.1 -0.1)"> <use href="#DejaVuSans-33"/> <use href="#DejaVuSans-31" transform="translate(63.623 0)"/> </g> </g> </g> <g id="text_85">  <g transform="translate(156.017 852.916) scale(0.1 -0.1)"> <defs> <path id="DejaVuSans-5a" d="M 359 4666 L 4025 4666 L 4025 4184 L 1075 531 L 4097 531 L 4097 0 L 288 0 L 288 481 L 3238 4134 L 359 4134 L 359 4666 z " transform="scale(0.015)"/> </defs> <use href="#DejaVuSans-4f"/> <use href="#DejaVuSans-63" transform="translate(78.710 0)"/> <use href="#DejaVuSans-74" transform="translate(133.691 0)"/> <use href="#DejaVuSans-6f" transform="translate(172.900 0)"/> <use href="#DejaVuSans-62" transform="translate(234.082 0)"/> <use href="#DejaVuSans-65" transform="translate(297.558 0)"/> <use href="#DejaVuSans-72" transform="translate(359.082 0)"/> <use href="#DejaVuSans-20" transform="translate(400.195 0)"/> <use href="#DejaVuSans-32" transform="translate(431.982 0)"/> <use href="#DejaVuSans-30" transform="translate(495.605 0)"/> <use href="#DejaVuSans-32" transform="translate(559.228 0)"/> <use href="#DejaVuSans-33" transform="translate(622.851 0)"/> <use href="#DejaVuSans-20" transform="translate(686.474 0)"/> <use href="#DejaVuSans-4e" transform="translate(718.261 0)"/> <use href="#DejaVuSans-53" transform="translate(793.066 0)"/> <use href="#DejaVuSans-20" transform="translate(856.542 0)"/> <use href="#DejaVuSans-4a" transform="translate(888.330 0)"/> <use href="#DejaVuSans-4e" transform="translate(917.822 0)"/> <use href="#DejaVuSans-45" transform="translate(992.626 0)"/> <use href="#DejaVuSans-20" transform="translate(1055.810 0)"/> <use href="#DejaVuSans-30" transform="translate(1087.597 0)"/> <use href="#DejaVuSans-30" transform="translate(1151.220 0)"/> <use href="#DejaVuSans-20" transform="translate(1214.843 0)"/> <use href="#DejaVuSans-48" transform="translate(1246.630 0)"/> <use href="#DejaVuSans-48" transform="translate(1321.826 0)"/> <use href="#DejaVuSans-5a" transform="translate(1397.021 0)"/> </g> </g> </g> <g id="matplotlib.axis_12"> <g id="ytick_85"> <g id="line2d_147"> <g> <use href="#mcf89a34e70" x="56.16" y="807.641" style="stroke: #000000; stroke-width: 0.8"/> </g> </g> <g id="text_86">  <g transform="translate(25.66 811.441) scale(0.1 -0.1)"> <use href="#DejaVuSans-31" transform="translate(0 0.765)"/> <use href="#DejaVuSans-30" transform="translate(63.623 0.765)"/> <use href="#DejaVuSans-2212" transform="translate(128.203 39.046) scale(0.7)"/> <use href="#DejaVuSans-32" transform="translate(186.855 39.046) scale(0.7)"/> </g> </g> </g> <g id="ytick_86"> <g id="line2d_148"> <g> <use href="#mcf89a34e70" x="56.16" y="751.175" style="stroke: #000000; stroke-width: 0.8"/> </g> </g> <g id="text_87">  <g transform="translate(25.66 754.974) scale(0.1 -0.1)"> <use href="#DejaVuSans-31" transform="translate(0 0.684)"/> <use href="#DejaVuSans-30" transform="translate(63.623 0.684)"/> <use href="#DejaVuSans-2212" transform="translate(128.203 38.965) scale(0.7)"/> <use href="#DejaVuSans-31" transform="translate(186.855 38.965) scale(0.7)"/> </g> </g> </g> <g id="ytick_87"> <g id="line2d_149"> <g> <use href="#mcf89a34e70" x="56.16" y="694.708" style="stroke: #000000; stroke-width: 0.8"/> </g> </g> <g id="text_88">  <g transform="translate(31.56 698.507) scale(0.1 -0.1)"> <use href="#DejaVuSans-31" transform="translate(0 0.765)"/> <use href="#DejaVuSans-30" transform="translate(63.623 0.765)"/> <use href="#DejaVuSans-30" transform="translate(128.203 39.046) scale(0.7)"/> </g> </g> </g> <g id="ytick_88"> <g id="line2d_150"> <g> <use href="#mcf89a34e70" x="56.16" y="638.241" style="stroke: #000000; stroke-width: 0.8"/> </g> </g> <g id="text_89">  <g transform="translate(31.56 642.040) scale(0.1 -0.1)"> <use href="#DejaVuSans-31" transform="translate(0 0.684)"/> <use href="#DejaVuSans-30" transform="translate(63.623 0.684)"/> <use href="#DejaVuSans-31" transform="translate(128.203 38.965) scale(0.7)"/> </g> </g> </g> <g id="ytick_89"> <g id="line2d_151"> <g> <use href="#m4debb564f0" x="56.16" y="824.64" style="stroke: #000000; stroke-width: 0.6"/> </g> </g> </g> <g id="ytick_90"> <g id="line2d_152"> <g> <use href="#m4debb564f0" x="56.16" y="820.168" style="stroke: #000000; stroke-width: 0.6"/> </g> </g> </g> <g id="ytick_91"> <g id="line2d_153"> <g> <use href="#m4debb564f0" x="56.16" y="816.388" style="stroke: #000000; stroke-width: 0.6"/> </g> </g> </g> <g id="ytick_92"> <g id="line2d_154"> <g> <use href="#m4debb564f0" x="56.16" y="813.114" style="stroke: #000000; stroke-width: 0.6"/> </g> </g> </g> <g id="ytick_93"> <g id="line2d_155"> <g> <use href="#m4debb564f0" x="56.16" y="810.225" style="stroke: #000000; stroke-width: 0.6"/> </g> </g> </g> <g id="ytick_94"> <g id="line2d_156"> <g> <use href="#m4debb564f0" x="56.16" y="790.643" style="stroke: #000000; stroke-width: 0.6"/> </g> </g> </g> <g id="ytick_95"> <g id="line2d_157"> <g> <use href="#m4debb564f0" x="56.16" y="780.700" style="stroke: #000000; stroke-width: 0.6"/> </g> </g> </g> <g id="ytick_96"> <g id="line2d_158"> <g> <use href="#m4debb564f0" x="56.16" y="773.645" style="stroke: #000000; stroke-width: 0.6"/> </g> </g> </g> <g id="ytick_97"> <g id="line2d_159"> <g> <use href="#m4debb564f0" x="56.16" y="768.173" style="stroke: #000000; stroke-width: 0.6"/> </g> </g> </g> <g id="ytick_98"> <g id="line2d_160"> <g> <use href="#m4debb564f0" x="56.16" y="763.702" style="stroke: #000000; stroke-width: 0.6"/> </g> </g> </g> <g id="ytick_99"> <g id="line2d_161"> <g> <use href="#m4debb564f0" x="56.16" y="759.921" style="stroke: #000000; stroke-width: 0.6"/> </g> </g> </g> <g id="ytick_100"> <g id="line2d_162"> <g> <use href="#m4debb564f0" x="56.16" y="756.647" style="stroke: #000000; stroke-width: 0.6"/> </g> </g> </g> <g id="ytick_101"> <g id="line2d_163"> <g> <use href="#m4debb564f0" x="56.16" y="753.758" style="stroke: #000000; stroke-width: 0.6"/> </g> </g> </g> <g id="ytick_102"> <g id="line2d_164"> <g> <use href="#m4debb564f0" x="56.16" y="734.176" style="stroke: #000000; stroke-width: 0.6"/> </g> </g> </g> <g id="ytick_103"> <g id="line2d_165"> <g> <use href="#m4debb564f0" x="56.16" y="724.233" style="stroke: #000000; stroke-width: 0.6"/> </g> </g> </g> <g id="ytick_104"> <g id="line2d_166"> <g> <use href="#m4debb564f0" x="56.16" y="717.178" style="stroke: #000000; stroke-width: 0.6"/> </g> </g> </g> <g id="ytick_105"> <g id="line2d_167"> <g> <use href="#m4debb564f0" x="56.16" y="711.706" style="stroke: #000000; stroke-width: 0.6"/> </g> </g> </g> <g id="ytick_106"> <g id="line2d_168"> <g> <use href="#m4debb564f0" x="56.16" y="707.235" style="stroke: #000000; stroke-width: 0.6"/> </g> </g> </g> <g id="ytick_107"> <g id="line2d_169"> <g> <use href="#m4debb564f0" x="56.16" y="703.455" style="stroke: #000000; stroke-width: 0.6"/> </g> </g> </g> <g id="ytick_108"> <g id="line2d_170"> <g> <use href="#m4debb564f0" x="56.16" y="700.180" style="stroke: #000000; stroke-width: 0.6"/> </g> </g> </g> <g id="ytick_109"> <g id="line2d_171"> <g> <use href="#m4debb564f0" x="56.16" y="697.292" style="stroke: #000000; stroke-width: 0.6"/> </g> </g> </g> <g id="ytick_110"> <g id="line2d_172"> <g> <use href="#m4debb564f0" x="56.16" y="677.710" style="stroke: #000000; stroke-width: 0.6"/> </g> </g> </g> <g id="ytick_111"> <g id="line2d_173"> <g> <use href="#m4debb564f0" x="56.16" y="667.766" style="stroke: #000000; stroke-width: 0.6"/> </g> </g> </g> <g id="ytick_112"> <g id="line2d_174"> <g> <use href="#m4debb564f0" x="56.16" y="660.711" style="stroke: #000000; stroke-width: 0.6"/> </g> </g> </g> <g id="ytick_113"> <g id="line2d_175"> <g> <use href="#m4debb564f0" x="56.16" y="655.239" style="stroke: #000000; stroke-width: 0.6"/> </g> </g> </g> <g id="ytick_114"> <g id="line2d_176"> <g> <use href="#m4debb564f0" x="56.16" y="650.768" style="stroke: #000000; stroke-width: 0.6"/> </g> </g> </g> <g id="ytick_115"> <g id="line2d_177"> <g> <use href="#m4debb564f0" x="56.16" y="646.988" style="stroke: #000000; stroke-width: 0.6"/> </g> </g> </g> <g id="ytick_116"> <g id="line2d_178"> <g> <use href="#m4debb564f0" x="56.16" y="643.713" style="stroke: #000000; stroke-width: 0.6"/> </g> </g> </g> <g id="ytick_117"> <g id="line2d_179"> <g> <use href="#m4debb564f0" x="56.16" y="640.825" style="stroke: #000000; stroke-width: 0.6"/> </g> </g> </g> <g id="ytick_118"> <g id="line2d_180"> <g> <use href="#m4debb564f0" x="56.16" y="621.243" style="stroke: #000000; stroke-width: 0.6"/> </g> </g> </g> <g id="ytick_119"> <g id="line2d_181"> <g> <use href="#m4debb564f0" x="56.16" y="611.300" style="stroke: #000000; stroke-width: 0.6"/> </g> </g> </g> <g id="ytick_120"> <g id="line2d_182"> <g> <use href="#m4debb564f0" x="56.16" y="604.245" style="stroke: #000000; stroke-width: 0.6"/> </g> </g> </g> <g id="text_90">  <g transform="translate(19.580 725.715) rotate(-90) scale(0.1 -0.1)"> <use href="#DejaVuSans-66"/> <use href="#DejaVuSans-20" transform="translate(35.205 0)"/> <use href="#DejaVuSans-5b" transform="translate(66.992 0)"/> <use href="#DejaVuSans-48" transform="translate(106.005 0)"/> <use href="#DejaVuSans-7a" transform="translate(181.201 0)"/> <use href="#DejaVuSans-5d" transform="translate(233.691 0)"/> </g> </g> </g> <g id="patch_31"> <path d="M 56.16 824.64 L 56.16 599.52 " style="fill: none; stroke: #000000; stroke-width: 0.8; stroke-linejoin: miter; stroke-linecap: square"/> </g> <g id="patch_32"> <path d="M 406.08 824.64 L 406.08 599.52 " style="fill: none; stroke: #000000; stroke-width: 0.8; stroke-linejoin: miter; stroke-linecap: square"/> </g> <g id="patch_33"> <path d="M 56.16 824.64 L 406.08 824.64 " style="fill: none; stroke: #000000; stroke-width: 0.8; stroke-linejoin: miter; stroke-linecap: square"/> </g> <g id="patch_34"> <path d="M 56.16 599.52 L 406.08 599.52 " style="fill: none; stroke: #000000; stroke-width: 0.8; stroke-linejoin: miter; stroke-linecap: square"/> </g> </g> <g id="axes_8"> <g id="matplotlib.axis_13"> <g id="xtick_59"> <g id="line2d_183"> <g> <use href="#m9367050270" x="91.152" y="599.52" style="fill: #ff0000; stroke: #ff0000; stroke-width: 1.5"/> </g> </g> <g id="text_91">  <g style="fill: #ff0000" transform="translate(73.199 597.440) scale(0.1 -0.1)"> <use href="#DejaVuSans-2d"/> <use href="#DejaVuSans-31" transform="translate(36.083 0)"/> <use href="#DejaVuSans-38" transform="translate(99.707 0)"/> <use href="#DejaVuSans-30" transform="translate(163.330 0)"/> <use href="#DejaVuSans-64" transform="translate(226.953 0)"/> <use href="#DejaVuSans-42" transform="translate(290.429 0)"/> </g> </g> </g> <g id="xtick_60"> <g id="line2d_184"> <g> <use href="#m9367050270" x="161.136" y="599.52" style="fill: #ff0000; stroke: #ff0000; stroke-width: 1.5"/> </g> </g> <g id="text_92">  <g style="fill: #ff0000" transform="translate(143.183 597.440) scale(0.1 -0.1)"> <use href="#DejaVuSans-2d"/> <use href="#DejaVuSans-31" transform="translate(36.083 0)"/> <use href="#DejaVuSans-36" transform="translate(99.707 0)"/> <use href="#DejaVuSans-30" transform="translate(163.330 0)"/> <use href="#DejaVuSans-64" transform="translate(226.953 0)"/> <use href="#DejaVuSans-42" transform="translate(290.429 0)"/> </g> </g> </g> <g id="xtick_61"> <g id="line2d_185"> <g> <use href="#m9367050270" x="231.12" y="599.52" style="fill: #ff0000; stroke: #ff0000; stroke-width: 1.5"/> </g> </g> <g id="text_93">  <g style="fill: #ff0000" transform="translate(213.167 597.440) scale(0.1 -0.1)"> <use href="#DejaVuSans-2d"/> <use href="#DejaVuSans-31" transform="translate(36.083 0)"/> <use href="#DejaVuSans-34" transform="translate(99.707 0)"/> <use href="#DejaVuSans-30" transform="translate(163.330 0)"/> <use href="#DejaVuSans-64" transform="translate(226.953 0)"/> <use href="#DejaVuSans-42" transform="translate(290.429 0)"/> </g> </g> </g> <g id="xtick_62"> <g id="line2d_186"> <g> <use href="#m9367050270" x="301.104" y="599.52" style="fill: #ff0000; stroke: #ff0000; stroke-width: 1.5"/> </g> </g> <g id="text_94">  <g style="fill: #ff0000" transform="translate(283.151 597.440) scale(0.1 -0.1)"> <use href="#DejaVuSans-2d"/> <use href="#DejaVuSans-31" transform="translate(36.083 0)"/> <use href="#DejaVuSans-32" transform="translate(99.707 0)"/> <use href="#DejaVuSans-30" transform="translate(163.330 0)"/> <use href="#DejaVuSans-64" transform="translate(226.953 0)"/> <use href="#DejaVuSans-42" transform="translate(290.429 0)"/> </g> </g> </g> <g id="xtick_63"> <g id="line2d_187"> <g> <use href="#m9367050270" x="371.088" y="599.52" style="fill: #ff0000; stroke: #ff0000; stroke-width: 1.5"/> </g> </g> <g id="text_95">  <g style="fill: #ff0000" transform="translate(353.135 597.440) scale(0.1 -0.1)"> <use href="#DejaVuSans-2d"/> <use href="#DejaVuSans-31" transform="translate(36.083 0)"/> <use href="#DejaVuSans-30" transform="translate(99.707 0)"/> <use href="#DejaVuSans-30" transform="translate(163.330 0)"/> <use href="#DejaVuSans-64" transform="translate(226.953 0)"/> <use href="#DejaVuSans-42" transform="translate(290.429 0)"/> </g> </g> </g> </g> <g id="line2d_188"> <path d="M 133.142 638.241 L 137.691 651.254 L 137.701 672.237 L 128.940 689.236 L 148.198 699.983 L 200.866 716.177 L 227.270 730.478 L 227.284 734.176 L 199.629 738.648 L 148.014 751.175 L 139.277 755.646 L 153.687 762.080 L 99.882 770.398 L 73.673 779.390 L 64.908 788.059 L 64.901 798.895 L 73.656 807.885 L 73.701 818.230 L 70.678 824.64 " clip-path="url(#p8b5a8639e3)" style="fill: none; stroke: #bfbf00; stroke-width: 1.5; stroke-linecap: square"/> </g> <g id="line2d_189"> <path d="M 400.831 638.241 L 380.168 657.577 L 334.353 666.765 L 301.102 689.236 L 378.095 727.446 L 383.342 732.132 L 367.588 739.844 L 323.866 745.394 L 301.096 761.763 L 236.380 768.173 L 271.407 824.64 " clip-path="url(#p8b5a8639e3)" style="fill: none; stroke: #bfbf00; stroke-width: 1.5; stroke-linecap: square"/> </g> <g id="patch_35"> <path d="M 56.16 824.64 L 56.16 599.52 " style="fill: none; stroke: #000000; stroke-width: 0.8; stroke-linejoin: miter; stroke-linecap: square"/> </g> <g id="patch_36"> <path d="M 406.08 824.64 L 406.08 599.52 " style="fill: none; stroke: #000000; stroke-width: 0.8; stroke-linejoin: miter; stroke-linecap: square"/> </g> <g id="patch_37"> <path d="M 56.16 824.64 L 406.08 824.64 " style="fill: none; stroke: #000000; stroke-width: 0.8; stroke-linejoin: miter; stroke-linecap: square"/> </g> <g id="patch_38"> <path d="M 56.16 599.52 L 406.08 599.52 " style="fill: none; stroke: #000000; stroke-width: 0.8; stroke-linejoin: miter; stroke-linecap: square"/> </g> </g> <g id="axes_9"> <g id="patch_39"> <path d="M 428.112 824.64 L 439.368 824.64 L 439.368 599.52 L 428.112 599.52 L 428.112 824.64 z " style="fill: none; opacity: 0"/> </g> <g id="matplotlib.axis_14"/> <g id="matplotlib.axis_15"> <g id="ytick_121"> <g id="line2d_190"> <g> <use href="#m6f4744ce73" x="439.368" y="824.64" style="stroke: #000000; stroke-width: 0.8"/> </g> </g> <g id="text_96">  <g transform="translate(446.368 828.439) scale(0.1 -0.1)"> <use href="#DejaVuSans-2212"/> <use href="#DejaVuSans-35" transform="translate(83.789 0)"/> </g> </g> </g> <g id="ytick_122"> <g id="line2d_191"> <g> <use href="#m6f4744ce73" x="439.368" y="779.616" style="stroke: #000000; stroke-width: 0.8"/> </g> </g> <g id="text_97">  <g transform="translate(446.368 783.415) scale(0.1 -0.1)"> <use href="#DejaVuSans-30"/> </g> </g> </g> <g id="ytick_123"> <g id="line2d_192"> <g> <use href="#m6f4744ce73" x="439.368" y="734.592" style="stroke: #000000; stroke-width: 0.8"/> </g> </g> <g id="text_98">  <g transform="translate(446.368 738.391) scale(0.1 -0.1)"> <use href="#DejaVuSans-35"/> </g> </g> </g> <g id="ytick_124"> <g id="line2d_193"> <g> <use href="#m6f4744ce73" x="439.368" y="689.568" style="stroke: #000000; stroke-width: 0.8"/> </g> </g> <g id="text_99">  <g transform="translate(446.368 693.367) scale(0.1 -0.1)"> <use href="#DejaVuSans-31"/> <use href="#DejaVuSans-30" transform="translate(63.623 0)"/> </g> </g> </g> <g id="ytick_125"> <g id="line2d_194"> <g> <use href="#m6f4744ce73" x="439.368" y="644.544" style="stroke: #000000; stroke-width: 0.8"/> </g> </g> <g id="text_100">  <g transform="translate(446.368 648.343) scale(0.1 -0.1)"> <use href="#DejaVuSans-31"/> <use href="#DejaVuSans-35" transform="translate(63.623 0)"/> </g> </g> </g> <g id="ytick_126"> <g id="line2d_195"> <g> <use href="#m6f4744ce73" x="439.368" y="599.52" style="stroke: #000000; stroke-width: 0.8"/> </g> </g> <g id="text_101">  <g transform="translate(446.368 603.319) scale(0.1 -0.1)"> <use href="#DejaVuSans-32"/> <use href="#DejaVuSans-30" transform="translate(63.623 0)"/> </g> </g> </g> <g id="text_102">  <g transform="translate(472.708 794.864) rotate(-90) scale(0.1 -0.1)"> <use href="#DejaVuSans-72"/> <use href="#DejaVuSans-65" transform="translate(38.863 0)"/> <use href="#DejaVuSans-73" transform="translate(100.386 0)"/> <use href="#DejaVuSans-69" transform="translate(152.486 0)"/> <use href="#DejaVuSans-64" transform="translate(180.269 0)"/> <use href="#DejaVuSans-75" transform="translate(243.746 0)"/> <use href="#DejaVuSans-61" transform="translate(307.125 0)"/> <use href="#DejaVuSans-6c" transform="translate(368.404 0)"/> <use href="#DejaVuSans-20" transform="translate(396.187 0)"/> <use href="#DejaVuSans-5b" transform="translate(427.974 0)"/> <use href="#DejaVuSans-64" transform="translate(466.988 0)"/> <use href="#DejaVuSans-42" transform="translate(530.464 0)"/> <use href="#DejaVuSans-5d" transform="translate(599.068 0)"/> <use href="#DejaVuSans-20" transform="translate(638.082 0)"/> <use href="#DejaVuSans-66" transform="translate(669.869 0)"/> <use href="#DejaVuSans-72" transform="translate(705.074 0)"/> <use href="#DejaVuSans-6f" transform="translate(743.937 0)"/> <use href="#DejaVuSans-6d" transform="translate(805.119 0)"/> <use href="#DejaVuSans-20" transform="translate(902.531 0)"/> <use href="#DejaVuSans-61" transform="translate(934.318 0)"/> <use href="#DejaVuSans-76" transform="translate(995.597 0)"/> <use href="#DejaVuSans-65" transform="translate(1054.777 0)"/> <use href="#DejaVuSans-72" transform="translate(1116.300 0)"/> <use href="#DejaVuSans-61" transform="translate(1157.414 0)"/> <use href="#DejaVuSans-67" transform="translate(1218.693 0)"/> <use href="#DejaVuSans-65" transform="translate(1282.169 0)"/> <use href="#DejaVuSans-20" transform="translate(1343.693 0)"/> <use href="#DejaVuSans-63" transform="translate(1375.480 0)"/> <use href="#DejaVuSans-75" transform="translate(1430.460 0)"/> <use href="#DejaVuSans-72" transform="translate(1493.839 0)"/> <use href="#DejaVuSans-76" transform="translate(1534.953 0)"/> <use href="#DejaVuSans-65" transform="translate(1594.132 0)"/> </g> </g> </g> <g id="patch_40"> <path d="M 428.112 824.64 L 428.112 599.52 " style="fill: none; stroke: #000000; stroke-width: 0.8; stroke-linejoin: miter; stroke-linecap: square"/> </g> <g id="patch_41"> <path d="M 439.368 824.64 L 439.368 599.52 " style="fill: none; stroke: #000000; stroke-width: 0.8; stroke-linejoin: miter; stroke-linecap: square"/> </g> <g id="patch_42"> <path d="M 428.112 824.64 L 439.368 824.64 " style="fill: none; stroke: #000000; stroke-width: 0.8; stroke-linejoin: miter; stroke-linecap: square"/> </g> <g id="patch_43"> <path d="M 428.112 599.52 L 439.368 599.52 " style="fill: none; stroke: #000000; stroke-width: 0.8; stroke-linejoin: miter; stroke-linecap: square"/> </g> </g> </g> <defs> <clipPath id="pa3ba8d6958"> <rect x="56.16" y="21.6" width="349.92" height="225.12"/> </clipPath> <clipPath id="pbc5c1c9f17"> <rect x="56.16" y="310.56" width="349.92" height="225.12"/> </clipPath> <clipPath id="p8b5a8639e3"> <rect x="56.16" y="599.52" width="349.92" height="225.12"/> </clipPath> </defs> </g>
</svg></body></html>
